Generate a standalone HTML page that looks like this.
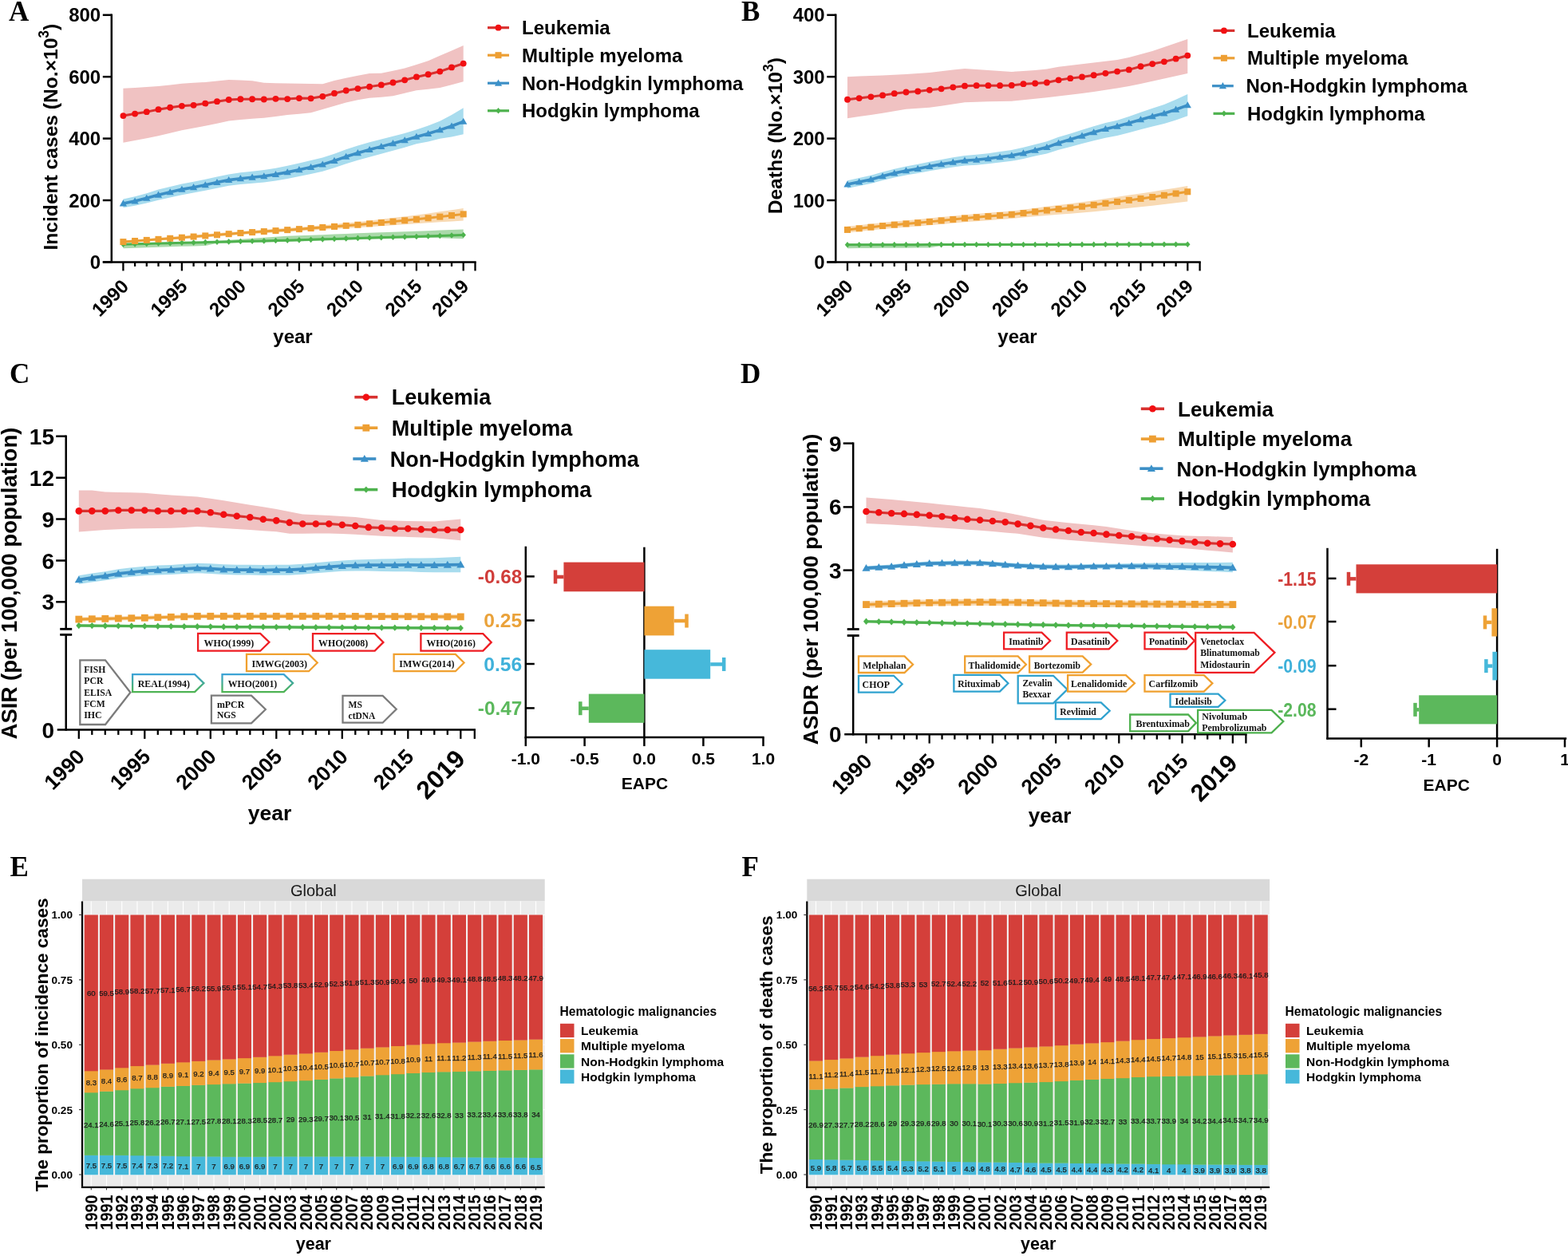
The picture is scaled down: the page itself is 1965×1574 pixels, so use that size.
<!DOCTYPE html>
<html><head><meta charset="utf-8"><title>Hematologic malignancies</title>
<style>html,body{margin:0;padding:0;background:#fff;width:1965px;height:1574px;overflow:hidden}svg{display:block}</style>
</head><body>
<svg width="1965" height="1574" viewBox="0 0 1965 1574">
<rect width="1965" height="1574" fill="#fff"/>
<defs><linearGradient id="bg" x1="0" y1="0" x2="0" y2="1"><stop offset="0" stop-color="#3BA3D6"/><stop offset="1" stop-color="#4FB453"/></linearGradient></defs>
<polygon points="154.4,110.84 169.1,109.97 183.8,109.11 198.5,108.1 213.2,106.4 227.9,104.72 242.6,103.86 257.3,102.99 272,101.52 286.7,100.05 301.4,100.42 316.1,101.14 330.8,103.66 345.5,104.22 360.2,104.48 374.9,104.74 389.6,105.11 404.3,105.25 419,101.03 433.7,97.73 448.4,94.79 463.1,92.03 477.8,91.82 492.5,88.66 507.2,85.49 521.9,80.96 536.6,76.15 551.3,69.79 566,63.44 580.7,57.1 580.7,102.29 566,106.16 551.3,110.04 536.6,111.7 521.9,113.17 507.2,116.68 492.5,120.36 477.8,121.66 463.1,122.79 448.4,125.32 433.7,128.41 419,132.69 404.3,136.97 389.6,141.17 374.9,142.64 360.2,144.04 345.5,145.88 330.8,147.64 316.1,148.86 301.4,150.09 286.7,151.57 272,154.63 257.3,157.66 242.6,160.49 227.9,163.31 213.2,166.74 198.5,170.17 183.8,173.26 169.1,176 154.4,178.74" fill="#F0C2C2" stroke="none" stroke-width="0"/>
<polygon points="154.4,249.57 169.1,246.24 183.8,242.17 198.5,237.61 213.2,234.08 227.9,230.56 242.6,227.77 257.3,224.73 272,221.45 286.7,218.41 301.4,216.36 316.1,214.71 330.8,213.06 345.5,210.68 360.2,207.81 374.9,204.45 389.6,201.09 404.3,197.49 419,192.66 433.7,187.37 448.4,182.57 463.1,178.25 477.8,174.47 492.5,170.68 507.2,166.89 521.9,162.62 536.6,157.61 551.3,151.87 566,143.93 580.7,135.26 580.7,168.24 566,171.41 551.3,173.85 536.6,177.4 521.9,180.21 507.2,184.72 492.5,188.75 477.8,192.78 463.1,196.81 448.4,200.8 433.7,205.28 419,210.25 404.3,214.71 389.6,217.94 374.9,220.94 360.2,223.93 345.5,226.43 330.8,228.45 316.1,229.73 301.4,231.01 286.7,232.86 272,235.69 257.3,238.76 242.6,241.58 227.9,244.17 213.2,247.48 198.5,250.8 183.8,254.54 169.1,257.8 154.4,260.32" fill="#A8DCEE" stroke="none" stroke-width="0"/>
<polygon points="154.4,301.6 169.1,300.46 183.8,299.32 198.5,298.17 213.2,297.03 227.9,295.89 242.6,294.7 257.3,293.5 272,292.31 286.7,291.12 301.4,289.93 316.1,288.89 330.8,287.84 345.5,286.8 360.2,285.75 374.9,284.7 389.6,283.43 404.3,282.15 419,280.88 433.7,279.61 448.4,278.32 463.1,276.55 477.8,274.79 492.5,273.03 507.2,271.27 521.9,269.48 536.6,267.38 551.3,265.27 566,263.16 580.7,261.06 580.7,276.44 566,277.39 551.3,278.34 536.6,279.28 521.9,280.23 507.2,281.23 492.5,282.21 477.8,283.19 463.1,284.18 448.4,285.16 433.7,286.06 419,286.94 404.3,287.82 389.6,288.7 374.9,289.59 360.2,290.51 345.5,291.42 330.8,292.34 316.1,293.25 301.4,294.17 286.7,295.22 272,296.28 257.3,297.35 242.6,298.41 227.9,299.47 213.2,300.48 198.5,301.5 183.8,302.51 169.1,303.52 154.4,304.53" fill="#F8DAB4" stroke="none" stroke-width="0"/>
<polygon points="154.4,305.27 169.1,304.87 183.8,304.48 198.5,304.09 213.2,303.7 227.9,303.31 242.6,302.96 257.3,302.62 272,301.65 286.7,300.68 301.4,299.71 316.1,298.74 330.8,297.77 345.5,296.8 360.2,295.82 374.9,295.36 389.6,294.76 404.3,294.15 419,293.55 433.7,292.94 448.4,292.35 463.1,291.84 477.8,291.33 492.5,290.83 507.2,290.32 521.9,289.81 536.6,289.22 551.3,288.62 566,288.03 580.7,287.44 580.7,299.16 566,298.74 551.3,298.33 536.6,297.91 521.9,298.36 507.2,298.74 492.5,299.1 477.8,299.47 463.1,299.83 448.4,300.2 433.7,300.65 419,301.12 404.3,301.58 389.6,302.04 374.9,302.5 360.2,302.83 345.5,303.14 330.8,303.46 316.1,303.77 301.4,304.09 286.7,304.41 272,304.72 257.3,308 242.6,308.41 227.9,308.82 213.2,309.28 198.5,309.74 183.8,310.21 169.1,310.67 154.4,311.13" fill="#A9D9A9" stroke="none" stroke-width="0"/>
<polyline points="154.4,145.03 169.1,142.59 183.8,140.15 198.5,137.22 213.2,134.77 227.9,132.82 242.6,131.84 257.3,129.64 272,127.2 286.7,125 301.4,124.27 316.1,124.27 330.8,124.51 345.5,123.78 360.2,124.03 374.9,123.05 389.6,123.29 404.3,120.85 419,116.94 433.7,113.52 448.4,111.08 463.1,108.64 477.8,106.44 492.5,103.51 507.2,100.33 521.9,96.42 536.6,93.25 551.3,89.58 566,84.46 580.7,79.57" fill="none" stroke="#D8312F" stroke-width="3" stroke-linejoin="round"/>
<circle cx="154.4" cy="145.03" r="3.9" fill="#F20F12"/>
<circle cx="169.1" cy="142.59" r="3.9" fill="#F20F12"/>
<circle cx="183.8" cy="140.15" r="3.9" fill="#F20F12"/>
<circle cx="198.5" cy="137.22" r="3.9" fill="#F20F12"/>
<circle cx="213.2" cy="134.77" r="3.9" fill="#F20F12"/>
<circle cx="227.9" cy="132.82" r="3.9" fill="#F20F12"/>
<circle cx="242.6" cy="131.84" r="3.9" fill="#F20F12"/>
<circle cx="257.3" cy="129.64" r="3.9" fill="#F20F12"/>
<circle cx="272" cy="127.2" r="3.9" fill="#F20F12"/>
<circle cx="286.7" cy="125" r="3.9" fill="#F20F12"/>
<circle cx="301.4" cy="124.27" r="3.9" fill="#F20F12"/>
<circle cx="316.1" cy="124.27" r="3.9" fill="#F20F12"/>
<circle cx="330.8" cy="124.51" r="3.9" fill="#F20F12"/>
<circle cx="345.5" cy="123.78" r="3.9" fill="#F20F12"/>
<circle cx="360.2" cy="124.03" r="3.9" fill="#F20F12"/>
<circle cx="374.9" cy="123.05" r="3.9" fill="#F20F12"/>
<circle cx="389.6" cy="123.29" r="3.9" fill="#F20F12"/>
<circle cx="404.3" cy="120.85" r="3.9" fill="#F20F12"/>
<circle cx="419" cy="116.94" r="3.9" fill="#F20F12"/>
<circle cx="433.7" cy="113.52" r="3.9" fill="#F20F12"/>
<circle cx="448.4" cy="111.08" r="3.9" fill="#F20F12"/>
<circle cx="463.1" cy="108.64" r="3.9" fill="#F20F12"/>
<circle cx="477.8" cy="106.44" r="3.9" fill="#F20F12"/>
<circle cx="492.5" cy="103.51" r="3.9" fill="#F20F12"/>
<circle cx="507.2" cy="100.33" r="3.9" fill="#F20F12"/>
<circle cx="521.9" cy="96.42" r="3.9" fill="#F20F12"/>
<circle cx="536.6" cy="93.25" r="3.9" fill="#F20F12"/>
<circle cx="551.3" cy="89.58" r="3.9" fill="#F20F12"/>
<circle cx="566" cy="84.46" r="3.9" fill="#F20F12"/>
<circle cx="580.7" cy="79.57" r="3.9" fill="#F20F12"/>
<polyline points="154.4,254.95 169.1,252.02 183.8,248.35 198.5,244.2 213.2,240.78 227.9,237.36 242.6,234.68 257.3,231.74 272,228.57 286.7,225.64 301.4,223.68 316.1,222.22 330.8,220.75 345.5,218.55 360.2,215.87 374.9,212.69 389.6,209.52 404.3,206.1 419,201.46 433.7,196.33 448.4,191.69 463.1,187.53 477.8,183.62 492.5,179.72 507.2,175.81 521.9,171.41 536.6,167.5 551.3,162.86 566,157.98 580.7,152.36" fill="none" stroke="#3C8FC6" stroke-width="3.6" stroke-linejoin="round"/>
<polygon points="154.4,250.35 159,258.4 149.8,258.4" fill="#3B91C9" stroke="none" stroke-width="0"/>
<polygon points="169.1,247.42 173.7,255.47 164.5,255.47" fill="#3B91C9" stroke="none" stroke-width="0"/>
<polygon points="183.8,243.75 188.4,251.8 179.2,251.8" fill="#3B91C9" stroke="none" stroke-width="0"/>
<polygon points="198.5,239.6 203.1,247.65 193.9,247.65" fill="#3B91C9" stroke="none" stroke-width="0"/>
<polygon points="213.2,236.18 217.8,244.23 208.6,244.23" fill="#3B91C9" stroke="none" stroke-width="0"/>
<polygon points="227.9,232.76 232.5,240.81 223.3,240.81" fill="#3B91C9" stroke="none" stroke-width="0"/>
<polygon points="242.6,230.08 247.2,238.13 238,238.13" fill="#3B91C9" stroke="none" stroke-width="0"/>
<polygon points="257.3,227.14 261.9,235.19 252.7,235.19" fill="#3B91C9" stroke="none" stroke-width="0"/>
<polygon points="272,223.97 276.6,232.02 267.4,232.02" fill="#3B91C9" stroke="none" stroke-width="0"/>
<polygon points="286.7,221.04 291.3,229.09 282.1,229.09" fill="#3B91C9" stroke="none" stroke-width="0"/>
<polygon points="301.4,219.08 306,227.13 296.8,227.13" fill="#3B91C9" stroke="none" stroke-width="0"/>
<polygon points="316.1,217.62 320.7,225.67 311.5,225.67" fill="#3B91C9" stroke="none" stroke-width="0"/>
<polygon points="330.8,216.15 335.4,224.2 326.2,224.2" fill="#3B91C9" stroke="none" stroke-width="0"/>
<polygon points="345.5,213.95 350.1,222 340.9,222" fill="#3B91C9" stroke="none" stroke-width="0"/>
<polygon points="360.2,211.27 364.8,219.32 355.6,219.32" fill="#3B91C9" stroke="none" stroke-width="0"/>
<polygon points="374.9,208.09 379.5,216.14 370.3,216.14" fill="#3B91C9" stroke="none" stroke-width="0"/>
<polygon points="389.6,204.92 394.2,212.97 385,212.97" fill="#3B91C9" stroke="none" stroke-width="0"/>
<polygon points="404.3,201.5 408.9,209.55 399.7,209.55" fill="#3B91C9" stroke="none" stroke-width="0"/>
<polygon points="419,196.86 423.6,204.91 414.4,204.91" fill="#3B91C9" stroke="none" stroke-width="0"/>
<polygon points="433.7,191.73 438.3,199.78 429.1,199.78" fill="#3B91C9" stroke="none" stroke-width="0"/>
<polygon points="448.4,187.09 453,195.14 443.8,195.14" fill="#3B91C9" stroke="none" stroke-width="0"/>
<polygon points="463.1,182.93 467.7,190.98 458.5,190.98" fill="#3B91C9" stroke="none" stroke-width="0"/>
<polygon points="477.8,179.02 482.4,187.07 473.2,187.07" fill="#3B91C9" stroke="none" stroke-width="0"/>
<polygon points="492.5,175.12 497.1,183.17 487.9,183.17" fill="#3B91C9" stroke="none" stroke-width="0"/>
<polygon points="507.2,171.21 511.8,179.26 502.6,179.26" fill="#3B91C9" stroke="none" stroke-width="0"/>
<polygon points="521.9,166.81 526.5,174.86 517.3,174.86" fill="#3B91C9" stroke="none" stroke-width="0"/>
<polygon points="536.6,162.9 541.2,170.95 532,170.95" fill="#3B91C9" stroke="none" stroke-width="0"/>
<polygon points="551.3,158.26 555.9,166.31 546.7,166.31" fill="#3B91C9" stroke="none" stroke-width="0"/>
<polygon points="566,153.38 570.6,161.43 561.4,161.43" fill="#3B91C9" stroke="none" stroke-width="0"/>
<polygon points="580.7,147.76 585.3,155.81 576.1,155.81" fill="#3B91C9" stroke="none" stroke-width="0"/>
<polyline points="154.4,306.24 169.1,305.85 183.8,305.46 198.5,305.07 213.2,304.68 227.9,304.28 242.6,303.94 257.3,303.6 272,303.26 286.7,302.91 301.4,302.57 316.1,302.23 330.8,301.88 345.5,301.54 360.2,301.2 374.9,300.85 389.6,300.36 404.3,299.87 419,299.38 433.7,298.89 448.4,298.4 463.1,298.01 477.8,297.62 492.5,297.23 507.2,296.84 521.9,296.44 536.6,295.96 551.3,295.48 566,295 580.7,294.52" fill="none" stroke="#4EB24E" stroke-width="3" stroke-linejoin="round"/>
<polygon points="154.4,302.44 157.63,306.24 154.4,310.04 151.17,306.24" fill="#4CB34C" stroke="none" stroke-width="0"/>
<polygon points="169.1,302.05 172.33,305.85 169.1,309.65 165.87,305.85" fill="#4CB34C" stroke="none" stroke-width="0"/>
<polygon points="183.8,301.66 187.03,305.46 183.8,309.26 180.57,305.46" fill="#4CB34C" stroke="none" stroke-width="0"/>
<polygon points="198.5,301.27 201.73,305.07 198.5,308.87 195.27,305.07" fill="#4CB34C" stroke="none" stroke-width="0"/>
<polygon points="213.2,300.88 216.43,304.68 213.2,308.48 209.97,304.68" fill="#4CB34C" stroke="none" stroke-width="0"/>
<polygon points="227.9,300.48 231.13,304.28 227.9,308.08 224.67,304.28" fill="#4CB34C" stroke="none" stroke-width="0"/>
<polygon points="242.6,300.14 245.83,303.94 242.6,307.74 239.37,303.94" fill="#4CB34C" stroke="none" stroke-width="0"/>
<polygon points="257.3,299.8 260.53,303.6 257.3,307.4 254.07,303.6" fill="#4CB34C" stroke="none" stroke-width="0"/>
<polygon points="272,299.46 275.23,303.26 272,307.06 268.77,303.26" fill="#4CB34C" stroke="none" stroke-width="0"/>
<polygon points="286.7,299.11 289.93,302.91 286.7,306.71 283.47,302.91" fill="#4CB34C" stroke="none" stroke-width="0"/>
<polygon points="301.4,298.77 304.63,302.57 301.4,306.37 298.17,302.57" fill="#4CB34C" stroke="none" stroke-width="0"/>
<polygon points="316.1,298.43 319.33,302.23 316.1,306.03 312.87,302.23" fill="#4CB34C" stroke="none" stroke-width="0"/>
<polygon points="330.8,298.08 334.03,301.88 330.8,305.68 327.57,301.88" fill="#4CB34C" stroke="none" stroke-width="0"/>
<polygon points="345.5,297.74 348.73,301.54 345.5,305.34 342.27,301.54" fill="#4CB34C" stroke="none" stroke-width="0"/>
<polygon points="360.2,297.4 363.43,301.2 360.2,305 356.97,301.2" fill="#4CB34C" stroke="none" stroke-width="0"/>
<polygon points="374.9,297.05 378.13,300.85 374.9,304.65 371.67,300.85" fill="#4CB34C" stroke="none" stroke-width="0"/>
<polygon points="389.6,296.56 392.83,300.36 389.6,304.16 386.37,300.36" fill="#4CB34C" stroke="none" stroke-width="0"/>
<polygon points="404.3,296.07 407.53,299.87 404.3,303.67 401.07,299.87" fill="#4CB34C" stroke="none" stroke-width="0"/>
<polygon points="419,295.58 422.23,299.38 419,303.18 415.77,299.38" fill="#4CB34C" stroke="none" stroke-width="0"/>
<polygon points="433.7,295.09 436.93,298.89 433.7,302.69 430.47,298.89" fill="#4CB34C" stroke="none" stroke-width="0"/>
<polygon points="448.4,294.6 451.63,298.4 448.4,302.2 445.17,298.4" fill="#4CB34C" stroke="none" stroke-width="0"/>
<polygon points="463.1,294.21 466.33,298.01 463.1,301.81 459.87,298.01" fill="#4CB34C" stroke="none" stroke-width="0"/>
<polygon points="477.8,293.82 481.03,297.62 477.8,301.42 474.57,297.62" fill="#4CB34C" stroke="none" stroke-width="0"/>
<polygon points="492.5,293.43 495.73,297.23 492.5,301.03 489.27,297.23" fill="#4CB34C" stroke="none" stroke-width="0"/>
<polygon points="507.2,293.04 510.43,296.84 507.2,300.64 503.97,296.84" fill="#4CB34C" stroke="none" stroke-width="0"/>
<polygon points="521.9,292.64 525.13,296.44 521.9,300.24 518.67,296.44" fill="#4CB34C" stroke="none" stroke-width="0"/>
<polygon points="536.6,292.16 539.83,295.96 536.6,299.76 533.37,295.96" fill="#4CB34C" stroke="none" stroke-width="0"/>
<polygon points="551.3,291.68 554.53,295.48 551.3,299.28 548.07,295.48" fill="#4CB34C" stroke="none" stroke-width="0"/>
<polygon points="566,291.2 569.23,295 566,298.8 562.77,295" fill="#4CB34C" stroke="none" stroke-width="0"/>
<polygon points="580.7,290.72 583.93,294.52 580.7,298.32 577.47,294.52" fill="#4CB34C" stroke="none" stroke-width="0"/>
<polyline points="154.4,303.07 169.1,301.99 183.8,300.91 198.5,299.84 213.2,298.76 227.9,297.68 242.6,296.55 257.3,295.43 272,294.3 286.7,293.17 301.4,292.05 316.1,291.07 330.8,290.09 345.5,289.11 360.2,288.13 374.9,287.14 389.6,286.07 404.3,284.99 419,283.91 433.7,282.83 448.4,281.74 463.1,280.36 477.8,278.99 492.5,277.62 507.2,276.25 521.9,274.86 536.6,273.24 551.3,271.62 566,270 580.7,268.38" fill="none" stroke="#EC9F34" stroke-width="3" stroke-linejoin="round"/>
<rect x="150.4" y="299.07" width="8" height="8" fill="#EE9F33"/>
<rect x="165.1" y="297.99" width="8" height="8" fill="#EE9F33"/>
<rect x="179.8" y="296.91" width="8" height="8" fill="#EE9F33"/>
<rect x="194.5" y="295.84" width="8" height="8" fill="#EE9F33"/>
<rect x="209.2" y="294.76" width="8" height="8" fill="#EE9F33"/>
<rect x="223.9" y="293.68" width="8" height="8" fill="#EE9F33"/>
<rect x="238.6" y="292.55" width="8" height="8" fill="#EE9F33"/>
<rect x="253.3" y="291.43" width="8" height="8" fill="#EE9F33"/>
<rect x="268" y="290.3" width="8" height="8" fill="#EE9F33"/>
<rect x="282.7" y="289.17" width="8" height="8" fill="#EE9F33"/>
<rect x="297.4" y="288.05" width="8" height="8" fill="#EE9F33"/>
<rect x="312.1" y="287.07" width="8" height="8" fill="#EE9F33"/>
<rect x="326.8" y="286.09" width="8" height="8" fill="#EE9F33"/>
<rect x="341.5" y="285.11" width="8" height="8" fill="#EE9F33"/>
<rect x="356.2" y="284.13" width="8" height="8" fill="#EE9F33"/>
<rect x="370.9" y="283.14" width="8" height="8" fill="#EE9F33"/>
<rect x="385.6" y="282.07" width="8" height="8" fill="#EE9F33"/>
<rect x="400.3" y="280.99" width="8" height="8" fill="#EE9F33"/>
<rect x="415" y="279.91" width="8" height="8" fill="#EE9F33"/>
<rect x="429.7" y="278.83" width="8" height="8" fill="#EE9F33"/>
<rect x="444.4" y="277.74" width="8" height="8" fill="#EE9F33"/>
<rect x="459.1" y="276.36" width="8" height="8" fill="#EE9F33"/>
<rect x="473.8" y="274.99" width="8" height="8" fill="#EE9F33"/>
<rect x="488.5" y="273.62" width="8" height="8" fill="#EE9F33"/>
<rect x="503.2" y="272.25" width="8" height="8" fill="#EE9F33"/>
<rect x="517.9" y="270.86" width="8" height="8" fill="#EE9F33"/>
<rect x="532.6" y="269.24" width="8" height="8" fill="#EE9F33"/>
<rect x="547.3" y="267.62" width="8" height="8" fill="#EE9F33"/>
<rect x="562" y="266" width="8" height="8" fill="#EE9F33"/>
<rect x="576.7" y="264.38" width="8" height="8" fill="#EE9F33"/>
<polygon points="1062,96.18 1076.7,95.62 1091.4,95.06 1106.1,94.5 1120.8,93.77 1135.5,92.89 1150.2,92.01 1164.9,90.97 1179.6,89.27 1194.3,87.57 1209,85.95 1223.7,86.99 1238.4,88.04 1253.1,89.08 1267.8,90.03 1282.5,88.99 1297.2,87.95 1311.9,86.55 1326.6,83.87 1341.3,82.09 1356,80.3 1370.7,78.52 1385.4,76.74 1400.1,74.96 1414.8,71.95 1429.5,68.03 1444.2,64.03 1458.9,59.02 1473.6,54.02 1488.3,49.04 1488.3,92.03 1473.6,95.26 1458.9,98.51 1444.2,101.77 1429.5,104.99 1414.8,107.93 1400.1,110.56 1385.4,112.76 1370.7,114.97 1356,117.12 1341.3,118.81 1326.6,120.5 1311.9,122.19 1297.2,123.71 1282.5,125.18 1267.8,126.65 1253.1,127.02 1238.4,127.34 1223.7,127.66 1209,128.23 1194.3,130.44 1179.6,132.64 1164.9,134.85 1150.2,135.86 1135.5,136.85 1120.8,139.3 1106.1,141.75 1091.4,143.98 1076.7,146.09 1062,148.2" fill="#F0C2C2" stroke="none" stroke-width="0"/>
<polygon points="1062,226.13 1076.7,223.07 1091.4,219.78 1106.1,215.5 1120.8,211.71 1135.5,208.42 1150.2,205.85 1164.9,202.8 1179.6,199.99 1194.3,197.36 1209,194.98 1223.7,193.82 1238.4,192.17 1253.1,190.04 1267.8,187.9 1282.5,184.79 1297.2,180.94 1311.9,177.24 1326.6,171.83 1341.3,167.4 1356,162.72 1370.7,158.29 1385.4,154.1 1400.1,150.65 1414.8,145.89 1429.5,140.64 1444.2,135.63 1458.9,131.11 1473.6,124.76 1488.3,117.92 1488.3,145.28 1473.6,150.41 1458.9,155.05 1444.2,158.4 1429.5,162.25 1414.8,166.34 1400.1,169.95 1385.4,172.74 1370.7,176.26 1356,180.03 1341.3,184.04 1326.6,187.81 1311.9,192.56 1297.2,195.59 1282.5,199.07 1267.8,201.82 1253.1,203.59 1238.4,205.36 1223.7,206.65 1209,207.44 1194.3,209.46 1179.6,211.71 1164.9,214.28 1150.2,217.09 1135.5,219.41 1120.8,222.46 1106.1,226 1091.4,230.03 1076.7,233.09 1062,235.9" fill="#A8DCEE" stroke="none" stroke-width="0"/>
<polygon points="1062,283.77 1076.7,282.14 1091.4,280.52 1106.1,278.89 1120.8,277.45 1135.5,276.18 1150.2,274.92 1164.9,273.61 1179.6,272.12 1194.3,270.64 1209,269.15 1223.7,267.94 1238.4,266.77 1253.1,265.61 1267.8,264.42 1282.5,262.67 1297.2,260.73 1311.9,258.82 1326.6,256.99 1341.3,255.16 1356,253.34 1370.7,251.18 1385.4,248.99 1400.1,246.8 1414.8,244.62 1429.5,242.45 1444.2,240.26 1458.9,237.82 1473.6,235.39 1488.3,232.97 1488.3,252.51 1473.6,254.23 1458.9,255.97 1444.2,257.7 1429.5,259.2 1414.8,260.67 1400.1,262.15 1385.4,263.64 1370.7,265.14 1356,266.6 1341.3,267.73 1326.6,268.86 1311.9,269.98 1297.2,271.2 1282.5,272.44 1267.8,274.06 1253.1,275.12 1238.4,276.15 1223.7,277.19 1209,278.27 1194.3,279.63 1179.6,280.98 1164.9,282.34 1150.2,283.52 1135.5,284.65 1120.8,285.79 1106.1,287.1 1091.4,288.59 1076.7,290.09 1062,291.59" fill="#F8DAB4" stroke="none" stroke-width="0"/>
<polygon points="1062,305.27 1076.7,305.25 1091.4,305.23 1106.1,305.22 1120.8,305.2 1135.5,305.18 1150.2,305.17 1164.9,305.15 1179.6,305.13 1194.3,305.11 1209,305.1 1223.7,305.08 1238.4,305.06 1253.1,305.05 1267.8,305.03 1282.5,305.01 1297.2,305 1311.9,304.98 1326.6,304.96 1341.3,304.95 1356,304.93 1370.7,304.91 1385.4,304.9 1400.1,304.88 1414.8,304.86 1429.5,304.85 1444.2,304.83 1458.9,304.81 1473.6,304.79 1488.3,304.78 1488.3,307.71 1473.6,307.73 1458.9,307.74 1444.2,307.76 1429.5,307.78 1414.8,307.79 1400.1,307.81 1385.4,307.83 1370.7,307.84 1356,307.86 1341.3,307.88 1326.6,307.89 1311.9,307.91 1297.2,307.93 1282.5,307.94 1267.8,307.96 1253.1,307.98 1238.4,308 1223.7,308.01 1209,308.03 1194.3,308.05 1179.6,308.06 1164.9,310.52 1150.2,310.61 1135.5,310.7 1120.8,310.78 1106.1,310.87 1091.4,310.96 1076.7,311.04 1062,311.13" fill="#A9D9A9" stroke="none" stroke-width="0"/>
<polyline points="1062,124.76 1076.7,123.05 1091.4,121.34 1106.1,119.38 1120.8,117.19 1135.5,115.48 1150.2,114.5 1164.9,112.79 1179.6,111.32 1194.3,109.37 1209,107.66 1223.7,107.17 1238.4,107.17 1253.1,107.17 1267.8,106.93 1282.5,105.22 1297.2,104.48 1311.9,103.51 1326.6,100.33 1341.3,98.13 1356,96.42 1370.7,94.23 1385.4,91.78 1400.1,89.58 1414.8,87.39 1429.5,83.23 1444.2,80.06 1458.9,77.37 1473.6,73.71 1488.3,69.56" fill="none" stroke="#D8312F" stroke-width="3" stroke-linejoin="round"/>
<circle cx="1062" cy="124.76" r="3.9" fill="#F20F12"/>
<circle cx="1076.7" cy="123.05" r="3.9" fill="#F20F12"/>
<circle cx="1091.4" cy="121.34" r="3.9" fill="#F20F12"/>
<circle cx="1106.1" cy="119.38" r="3.9" fill="#F20F12"/>
<circle cx="1120.8" cy="117.19" r="3.9" fill="#F20F12"/>
<circle cx="1135.5" cy="115.48" r="3.9" fill="#F20F12"/>
<circle cx="1150.2" cy="114.5" r="3.9" fill="#F20F12"/>
<circle cx="1164.9" cy="112.79" r="3.9" fill="#F20F12"/>
<circle cx="1179.6" cy="111.32" r="3.9" fill="#F20F12"/>
<circle cx="1194.3" cy="109.37" r="3.9" fill="#F20F12"/>
<circle cx="1209" cy="107.66" r="3.9" fill="#F20F12"/>
<circle cx="1223.7" cy="107.17" r="3.9" fill="#F20F12"/>
<circle cx="1238.4" cy="107.17" r="3.9" fill="#F20F12"/>
<circle cx="1253.1" cy="107.17" r="3.9" fill="#F20F12"/>
<circle cx="1267.8" cy="106.93" r="3.9" fill="#F20F12"/>
<circle cx="1282.5" cy="105.22" r="3.9" fill="#F20F12"/>
<circle cx="1297.2" cy="104.48" r="3.9" fill="#F20F12"/>
<circle cx="1311.9" cy="103.51" r="3.9" fill="#F20F12"/>
<circle cx="1326.6" cy="100.33" r="3.9" fill="#F20F12"/>
<circle cx="1341.3" cy="98.13" r="3.9" fill="#F20F12"/>
<circle cx="1356" cy="96.42" r="3.9" fill="#F20F12"/>
<circle cx="1370.7" cy="94.23" r="3.9" fill="#F20F12"/>
<circle cx="1385.4" cy="91.78" r="3.9" fill="#F20F12"/>
<circle cx="1400.1" cy="89.58" r="3.9" fill="#F20F12"/>
<circle cx="1414.8" cy="87.39" r="3.9" fill="#F20F12"/>
<circle cx="1429.5" cy="83.23" r="3.9" fill="#F20F12"/>
<circle cx="1444.2" cy="80.06" r="3.9" fill="#F20F12"/>
<circle cx="1458.9" cy="77.37" r="3.9" fill="#F20F12"/>
<circle cx="1473.6" cy="73.71" r="3.9" fill="#F20F12"/>
<circle cx="1488.3" cy="69.56" r="3.9" fill="#F20F12"/>
<polyline points="1062,231.01 1076.7,228.08 1091.4,224.9 1106.1,220.75 1120.8,217.09 1135.5,213.91 1150.2,211.47 1164.9,208.54 1179.6,205.85 1194.3,203.41 1209,201.21 1223.7,200.23 1238.4,198.77 1253.1,196.81 1267.8,194.86 1282.5,191.93 1297.2,188.27 1311.9,184.6 1326.6,179.23 1341.3,174.83 1356,170.19 1370.7,165.79 1385.4,161.64 1400.1,158.22 1414.8,154.31 1429.5,149.92 1444.2,145.76 1458.9,142.1 1473.6,137.22 1488.3,131.84" fill="none" stroke="#3C8FC6" stroke-width="3.6" stroke-linejoin="round"/>
<polygon points="1062,226.41 1066.6,234.46 1057.4,234.46" fill="#3B91C9" stroke="none" stroke-width="0"/>
<polygon points="1076.7,223.48 1081.3,231.53 1072.1,231.53" fill="#3B91C9" stroke="none" stroke-width="0"/>
<polygon points="1091.4,220.3 1096,228.35 1086.8,228.35" fill="#3B91C9" stroke="none" stroke-width="0"/>
<polygon points="1106.1,216.15 1110.7,224.2 1101.5,224.2" fill="#3B91C9" stroke="none" stroke-width="0"/>
<polygon points="1120.8,212.49 1125.4,220.54 1116.2,220.54" fill="#3B91C9" stroke="none" stroke-width="0"/>
<polygon points="1135.5,209.31 1140.1,217.36 1130.9,217.36" fill="#3B91C9" stroke="none" stroke-width="0"/>
<polygon points="1150.2,206.87 1154.8,214.92 1145.6,214.92" fill="#3B91C9" stroke="none" stroke-width="0"/>
<polygon points="1164.9,203.94 1169.5,211.99 1160.3,211.99" fill="#3B91C9" stroke="none" stroke-width="0"/>
<polygon points="1179.6,201.25 1184.2,209.3 1175,209.3" fill="#3B91C9" stroke="none" stroke-width="0"/>
<polygon points="1194.3,198.81 1198.9,206.86 1189.7,206.86" fill="#3B91C9" stroke="none" stroke-width="0"/>
<polygon points="1209,196.61 1213.6,204.66 1204.4,204.66" fill="#3B91C9" stroke="none" stroke-width="0"/>
<polygon points="1223.7,195.63 1228.3,203.68 1219.1,203.68" fill="#3B91C9" stroke="none" stroke-width="0"/>
<polygon points="1238.4,194.17 1243,202.22 1233.8,202.22" fill="#3B91C9" stroke="none" stroke-width="0"/>
<polygon points="1253.1,192.21 1257.7,200.26 1248.5,200.26" fill="#3B91C9" stroke="none" stroke-width="0"/>
<polygon points="1267.8,190.26 1272.4,198.31 1263.2,198.31" fill="#3B91C9" stroke="none" stroke-width="0"/>
<polygon points="1282.5,187.33 1287.1,195.38 1277.9,195.38" fill="#3B91C9" stroke="none" stroke-width="0"/>
<polygon points="1297.2,183.67 1301.8,191.72 1292.6,191.72" fill="#3B91C9" stroke="none" stroke-width="0"/>
<polygon points="1311.9,180 1316.5,188.05 1307.3,188.05" fill="#3B91C9" stroke="none" stroke-width="0"/>
<polygon points="1326.6,174.63 1331.2,182.68 1322,182.68" fill="#3B91C9" stroke="none" stroke-width="0"/>
<polygon points="1341.3,170.23 1345.9,178.28 1336.7,178.28" fill="#3B91C9" stroke="none" stroke-width="0"/>
<polygon points="1356,165.59 1360.6,173.64 1351.4,173.64" fill="#3B91C9" stroke="none" stroke-width="0"/>
<polygon points="1370.7,161.19 1375.3,169.24 1366.1,169.24" fill="#3B91C9" stroke="none" stroke-width="0"/>
<polygon points="1385.4,157.04 1390,165.09 1380.8,165.09" fill="#3B91C9" stroke="none" stroke-width="0"/>
<polygon points="1400.1,153.62 1404.7,161.67 1395.5,161.67" fill="#3B91C9" stroke="none" stroke-width="0"/>
<polygon points="1414.8,149.71 1419.4,157.76 1410.2,157.76" fill="#3B91C9" stroke="none" stroke-width="0"/>
<polygon points="1429.5,145.32 1434.1,153.37 1424.9,153.37" fill="#3B91C9" stroke="none" stroke-width="0"/>
<polygon points="1444.2,141.16 1448.8,149.21 1439.6,149.21" fill="#3B91C9" stroke="none" stroke-width="0"/>
<polygon points="1458.9,137.5 1463.5,145.55 1454.3,145.55" fill="#3B91C9" stroke="none" stroke-width="0"/>
<polygon points="1473.6,132.62 1478.2,140.67 1469,140.67" fill="#3B91C9" stroke="none" stroke-width="0"/>
<polygon points="1488.3,127.24 1492.9,135.29 1483.7,135.29" fill="#3B91C9" stroke="none" stroke-width="0"/>
<polyline points="1062,306.73 1076.7,306.71 1091.4,306.7 1106.1,306.68 1120.8,306.66 1135.5,306.65 1150.2,306.63 1164.9,306.61 1179.6,306.6 1194.3,306.58 1209,306.56 1223.7,306.55 1238.4,306.53 1253.1,306.51 1267.8,306.5 1282.5,306.48 1297.2,306.46 1311.9,306.45 1326.6,306.43 1341.3,306.41 1356,306.39 1370.7,306.38 1385.4,306.36 1400.1,306.34 1414.8,306.33 1429.5,306.31 1444.2,306.29 1458.9,306.28 1473.6,306.26 1488.3,306.24" fill="none" stroke="#4EB24E" stroke-width="3" stroke-linejoin="round"/>
<polygon points="1062,302.93 1065.23,306.73 1062,310.53 1058.77,306.73" fill="#4CB34C" stroke="none" stroke-width="0"/>
<polygon points="1076.7,302.91 1079.93,306.71 1076.7,310.51 1073.47,306.71" fill="#4CB34C" stroke="none" stroke-width="0"/>
<polygon points="1091.4,302.9 1094.63,306.7 1091.4,310.5 1088.17,306.7" fill="#4CB34C" stroke="none" stroke-width="0"/>
<polygon points="1106.1,302.88 1109.33,306.68 1106.1,310.48 1102.87,306.68" fill="#4CB34C" stroke="none" stroke-width="0"/>
<polygon points="1120.8,302.86 1124.03,306.66 1120.8,310.46 1117.57,306.66" fill="#4CB34C" stroke="none" stroke-width="0"/>
<polygon points="1135.5,302.85 1138.73,306.65 1135.5,310.45 1132.27,306.65" fill="#4CB34C" stroke="none" stroke-width="0"/>
<polygon points="1150.2,302.83 1153.43,306.63 1150.2,310.43 1146.97,306.63" fill="#4CB34C" stroke="none" stroke-width="0"/>
<polygon points="1164.9,302.81 1168.13,306.61 1164.9,310.41 1161.67,306.61" fill="#4CB34C" stroke="none" stroke-width="0"/>
<polygon points="1179.6,302.8 1182.83,306.6 1179.6,310.4 1176.37,306.6" fill="#4CB34C" stroke="none" stroke-width="0"/>
<polygon points="1194.3,302.78 1197.53,306.58 1194.3,310.38 1191.07,306.58" fill="#4CB34C" stroke="none" stroke-width="0"/>
<polygon points="1209,302.76 1212.23,306.56 1209,310.36 1205.77,306.56" fill="#4CB34C" stroke="none" stroke-width="0"/>
<polygon points="1223.7,302.75 1226.93,306.55 1223.7,310.35 1220.47,306.55" fill="#4CB34C" stroke="none" stroke-width="0"/>
<polygon points="1238.4,302.73 1241.63,306.53 1238.4,310.33 1235.17,306.53" fill="#4CB34C" stroke="none" stroke-width="0"/>
<polygon points="1253.1,302.71 1256.33,306.51 1253.1,310.31 1249.87,306.51" fill="#4CB34C" stroke="none" stroke-width="0"/>
<polygon points="1267.8,302.7 1271.03,306.5 1267.8,310.3 1264.57,306.5" fill="#4CB34C" stroke="none" stroke-width="0"/>
<polygon points="1282.5,302.68 1285.73,306.48 1282.5,310.28 1279.27,306.48" fill="#4CB34C" stroke="none" stroke-width="0"/>
<polygon points="1297.2,302.66 1300.43,306.46 1297.2,310.26 1293.97,306.46" fill="#4CB34C" stroke="none" stroke-width="0"/>
<polygon points="1311.9,302.65 1315.13,306.45 1311.9,310.25 1308.67,306.45" fill="#4CB34C" stroke="none" stroke-width="0"/>
<polygon points="1326.6,302.63 1329.83,306.43 1326.6,310.23 1323.37,306.43" fill="#4CB34C" stroke="none" stroke-width="0"/>
<polygon points="1341.3,302.61 1344.53,306.41 1341.3,310.21 1338.07,306.41" fill="#4CB34C" stroke="none" stroke-width="0"/>
<polygon points="1356,302.59 1359.23,306.39 1356,310.19 1352.77,306.39" fill="#4CB34C" stroke="none" stroke-width="0"/>
<polygon points="1370.7,302.58 1373.93,306.38 1370.7,310.18 1367.47,306.38" fill="#4CB34C" stroke="none" stroke-width="0"/>
<polygon points="1385.4,302.56 1388.63,306.36 1385.4,310.16 1382.17,306.36" fill="#4CB34C" stroke="none" stroke-width="0"/>
<polygon points="1400.1,302.54 1403.33,306.34 1400.1,310.14 1396.87,306.34" fill="#4CB34C" stroke="none" stroke-width="0"/>
<polygon points="1414.8,302.53 1418.03,306.33 1414.8,310.13 1411.57,306.33" fill="#4CB34C" stroke="none" stroke-width="0"/>
<polygon points="1429.5,302.51 1432.73,306.31 1429.5,310.11 1426.27,306.31" fill="#4CB34C" stroke="none" stroke-width="0"/>
<polygon points="1444.2,302.49 1447.43,306.29 1444.2,310.09 1440.97,306.29" fill="#4CB34C" stroke="none" stroke-width="0"/>
<polygon points="1458.9,302.48 1462.13,306.28 1458.9,310.08 1455.67,306.28" fill="#4CB34C" stroke="none" stroke-width="0"/>
<polygon points="1473.6,302.46 1476.83,306.26 1473.6,310.06 1470.37,306.26" fill="#4CB34C" stroke="none" stroke-width="0"/>
<polygon points="1488.3,302.44 1491.53,306.24 1488.3,310.04 1485.07,306.24" fill="#4CB34C" stroke="none" stroke-width="0"/>
<polyline points="1062,287.92 1076.7,286.31 1091.4,284.7 1106.1,283.09 1120.8,281.67 1135.5,280.42 1150.2,279.17 1164.9,277.88 1179.6,276.41 1194.3,274.94 1209,273.47 1223.7,272.27 1238.4,271.12 1253.1,269.97 1267.8,268.8 1282.5,267.07 1297.2,265.34 1311.9,263.63 1326.6,262.02 1341.3,260.4 1356,258.78 1370.7,256.84 1385.4,254.85 1400.1,252.87 1414.8,250.9 1429.5,248.94 1444.2,246.96 1458.9,244.73 1473.6,242.51 1488.3,240.29" fill="none" stroke="#EC9F34" stroke-width="3" stroke-linejoin="round"/>
<rect x="1058" y="283.92" width="8" height="8" fill="#EE9F33"/>
<rect x="1072.7" y="282.31" width="8" height="8" fill="#EE9F33"/>
<rect x="1087.4" y="280.7" width="8" height="8" fill="#EE9F33"/>
<rect x="1102.1" y="279.09" width="8" height="8" fill="#EE9F33"/>
<rect x="1116.8" y="277.67" width="8" height="8" fill="#EE9F33"/>
<rect x="1131.5" y="276.42" width="8" height="8" fill="#EE9F33"/>
<rect x="1146.2" y="275.17" width="8" height="8" fill="#EE9F33"/>
<rect x="1160.9" y="273.88" width="8" height="8" fill="#EE9F33"/>
<rect x="1175.6" y="272.41" width="8" height="8" fill="#EE9F33"/>
<rect x="1190.3" y="270.94" width="8" height="8" fill="#EE9F33"/>
<rect x="1205" y="269.47" width="8" height="8" fill="#EE9F33"/>
<rect x="1219.7" y="268.27" width="8" height="8" fill="#EE9F33"/>
<rect x="1234.4" y="267.12" width="8" height="8" fill="#EE9F33"/>
<rect x="1249.1" y="265.97" width="8" height="8" fill="#EE9F33"/>
<rect x="1263.8" y="264.8" width="8" height="8" fill="#EE9F33"/>
<rect x="1278.5" y="263.07" width="8" height="8" fill="#EE9F33"/>
<rect x="1293.2" y="261.34" width="8" height="8" fill="#EE9F33"/>
<rect x="1307.9" y="259.63" width="8" height="8" fill="#EE9F33"/>
<rect x="1322.6" y="258.02" width="8" height="8" fill="#EE9F33"/>
<rect x="1337.3" y="256.4" width="8" height="8" fill="#EE9F33"/>
<rect x="1352" y="254.78" width="8" height="8" fill="#EE9F33"/>
<rect x="1366.7" y="252.84" width="8" height="8" fill="#EE9F33"/>
<rect x="1381.4" y="250.85" width="8" height="8" fill="#EE9F33"/>
<rect x="1396.1" y="248.87" width="8" height="8" fill="#EE9F33"/>
<rect x="1410.8" y="246.9" width="8" height="8" fill="#EE9F33"/>
<rect x="1425.5" y="244.94" width="8" height="8" fill="#EE9F33"/>
<rect x="1440.2" y="242.96" width="8" height="8" fill="#EE9F33"/>
<rect x="1454.9" y="240.73" width="8" height="8" fill="#EE9F33"/>
<rect x="1469.6" y="238.51" width="8" height="8" fill="#EE9F33"/>
<rect x="1484.3" y="236.29" width="8" height="8" fill="#EE9F33"/>
<line x1="139.8" y1="17.6" x2="139.8" y2="329.6" stroke="#000" stroke-width="2.5" stroke-linecap="butt"/>
<line x1="128.8" y1="328.4" x2="596.7" y2="328.4" stroke="#000" stroke-width="2.5" stroke-linecap="butt"/>
<line x1="128.8" y1="328.4" x2="139.8" y2="328.4" stroke="#000" stroke-width="2.5" stroke-linecap="butt"/>
<text x="126.2" y="337" font-family="'Liberation Sans', Arial, sans-serif" font-size="24" font-weight="bold" fill="#000" text-anchor="end">0</text>
<line x1="128.8" y1="251" x2="139.8" y2="251" stroke="#000" stroke-width="2.5" stroke-linecap="butt"/>
<text x="126.2" y="259.6" font-family="'Liberation Sans', Arial, sans-serif" font-size="24" font-weight="bold" fill="#000" text-anchor="end">200</text>
<line x1="128.8" y1="173.6" x2="139.8" y2="173.6" stroke="#000" stroke-width="2.5" stroke-linecap="butt"/>
<text x="126.2" y="182.2" font-family="'Liberation Sans', Arial, sans-serif" font-size="24" font-weight="bold" fill="#000" text-anchor="end">400</text>
<line x1="128.8" y1="96.2" x2="139.8" y2="96.2" stroke="#000" stroke-width="2.5" stroke-linecap="butt"/>
<text x="126.2" y="104.8" font-family="'Liberation Sans', Arial, sans-serif" font-size="24" font-weight="bold" fill="#000" text-anchor="end">600</text>
<line x1="128.8" y1="18.8" x2="139.8" y2="18.8" stroke="#000" stroke-width="2.5" stroke-linecap="butt"/>
<text x="126.2" y="27.4" font-family="'Liberation Sans', Arial, sans-serif" font-size="24" font-weight="bold" fill="#000" text-anchor="end">800</text>
<line x1="154.4" y1="328.4" x2="154.4" y2="339.4" stroke="#000" stroke-width="2.3" stroke-linecap="butt"/>
<line x1="169.1" y1="328.4" x2="169.1" y2="333.9" stroke="#000" stroke-width="2.3" stroke-linecap="butt"/>
<line x1="183.8" y1="328.4" x2="183.8" y2="333.9" stroke="#000" stroke-width="2.3" stroke-linecap="butt"/>
<line x1="198.5" y1="328.4" x2="198.5" y2="333.9" stroke="#000" stroke-width="2.3" stroke-linecap="butt"/>
<line x1="213.2" y1="328.4" x2="213.2" y2="333.9" stroke="#000" stroke-width="2.3" stroke-linecap="butt"/>
<line x1="227.9" y1="328.4" x2="227.9" y2="339.4" stroke="#000" stroke-width="2.3" stroke-linecap="butt"/>
<line x1="242.6" y1="328.4" x2="242.6" y2="333.9" stroke="#000" stroke-width="2.3" stroke-linecap="butt"/>
<line x1="257.3" y1="328.4" x2="257.3" y2="333.9" stroke="#000" stroke-width="2.3" stroke-linecap="butt"/>
<line x1="272" y1="328.4" x2="272" y2="333.9" stroke="#000" stroke-width="2.3" stroke-linecap="butt"/>
<line x1="286.7" y1="328.4" x2="286.7" y2="333.9" stroke="#000" stroke-width="2.3" stroke-linecap="butt"/>
<line x1="301.4" y1="328.4" x2="301.4" y2="339.4" stroke="#000" stroke-width="2.3" stroke-linecap="butt"/>
<line x1="316.1" y1="328.4" x2="316.1" y2="333.9" stroke="#000" stroke-width="2.3" stroke-linecap="butt"/>
<line x1="330.8" y1="328.4" x2="330.8" y2="333.9" stroke="#000" stroke-width="2.3" stroke-linecap="butt"/>
<line x1="345.5" y1="328.4" x2="345.5" y2="333.9" stroke="#000" stroke-width="2.3" stroke-linecap="butt"/>
<line x1="360.2" y1="328.4" x2="360.2" y2="333.9" stroke="#000" stroke-width="2.3" stroke-linecap="butt"/>
<line x1="374.9" y1="328.4" x2="374.9" y2="339.4" stroke="#000" stroke-width="2.3" stroke-linecap="butt"/>
<line x1="389.6" y1="328.4" x2="389.6" y2="333.9" stroke="#000" stroke-width="2.3" stroke-linecap="butt"/>
<line x1="404.3" y1="328.4" x2="404.3" y2="333.9" stroke="#000" stroke-width="2.3" stroke-linecap="butt"/>
<line x1="419" y1="328.4" x2="419" y2="333.9" stroke="#000" stroke-width="2.3" stroke-linecap="butt"/>
<line x1="433.7" y1="328.4" x2="433.7" y2="333.9" stroke="#000" stroke-width="2.3" stroke-linecap="butt"/>
<line x1="448.4" y1="328.4" x2="448.4" y2="339.4" stroke="#000" stroke-width="2.3" stroke-linecap="butt"/>
<line x1="463.1" y1="328.4" x2="463.1" y2="333.9" stroke="#000" stroke-width="2.3" stroke-linecap="butt"/>
<line x1="477.8" y1="328.4" x2="477.8" y2="333.9" stroke="#000" stroke-width="2.3" stroke-linecap="butt"/>
<line x1="492.5" y1="328.4" x2="492.5" y2="333.9" stroke="#000" stroke-width="2.3" stroke-linecap="butt"/>
<line x1="507.2" y1="328.4" x2="507.2" y2="333.9" stroke="#000" stroke-width="2.3" stroke-linecap="butt"/>
<line x1="521.9" y1="328.4" x2="521.9" y2="339.4" stroke="#000" stroke-width="2.3" stroke-linecap="butt"/>
<line x1="536.6" y1="328.4" x2="536.6" y2="333.9" stroke="#000" stroke-width="2.3" stroke-linecap="butt"/>
<line x1="551.3" y1="328.4" x2="551.3" y2="333.9" stroke="#000" stroke-width="2.3" stroke-linecap="butt"/>
<line x1="566" y1="328.4" x2="566" y2="333.9" stroke="#000" stroke-width="2.3" stroke-linecap="butt"/>
<line x1="580.7" y1="328.4" x2="580.7" y2="339.4" stroke="#000" stroke-width="2.3" stroke-linecap="butt"/>
<line x1="595.5" y1="328.4" x2="595.5" y2="339.4" stroke="#000" stroke-width="2.3" stroke-linecap="butt"/>
<text x="0" y="0" font-family="'Liberation Sans', Arial, sans-serif" font-size="24" font-weight="bold" fill="#000" text-anchor="end" transform="translate(162.7 360.3) rotate(-45)">1990</text>
<text x="0" y="0" font-family="'Liberation Sans', Arial, sans-serif" font-size="24" font-weight="bold" fill="#000" text-anchor="end" transform="translate(236.2 360.3) rotate(-45)">1995</text>
<text x="0" y="0" font-family="'Liberation Sans', Arial, sans-serif" font-size="24" font-weight="bold" fill="#000" text-anchor="end" transform="translate(309.7 360.3) rotate(-45)">2000</text>
<text x="0" y="0" font-family="'Liberation Sans', Arial, sans-serif" font-size="24" font-weight="bold" fill="#000" text-anchor="end" transform="translate(383.2 360.3) rotate(-45)">2005</text>
<text x="0" y="0" font-family="'Liberation Sans', Arial, sans-serif" font-size="24" font-weight="bold" fill="#000" text-anchor="end" transform="translate(456.7 360.3) rotate(-45)">2010</text>
<text x="0" y="0" font-family="'Liberation Sans', Arial, sans-serif" font-size="24" font-weight="bold" fill="#000" text-anchor="end" transform="translate(530.2 360.3) rotate(-45)">2015</text>
<text x="0" y="0" font-family="'Liberation Sans', Arial, sans-serif" font-size="24" font-weight="bold" fill="#000" text-anchor="end" transform="translate(589 360.3) rotate(-45)">2019</text>
<line x1="1047.3" y1="17.6" x2="1047.3" y2="329.6" stroke="#000" stroke-width="2.5" stroke-linecap="butt"/>
<line x1="1036.3" y1="328.4" x2="1504.8" y2="328.4" stroke="#000" stroke-width="2.5" stroke-linecap="butt"/>
<line x1="1036.3" y1="328.4" x2="1047.3" y2="328.4" stroke="#000" stroke-width="2.5" stroke-linecap="butt"/>
<text x="1033.7" y="337" font-family="'Liberation Sans', Arial, sans-serif" font-size="24" font-weight="bold" fill="#000" text-anchor="end">0</text>
<line x1="1036.3" y1="251" x2="1047.3" y2="251" stroke="#000" stroke-width="2.5" stroke-linecap="butt"/>
<text x="1033.7" y="259.6" font-family="'Liberation Sans', Arial, sans-serif" font-size="24" font-weight="bold" fill="#000" text-anchor="end">100</text>
<line x1="1036.3" y1="173.6" x2="1047.3" y2="173.6" stroke="#000" stroke-width="2.5" stroke-linecap="butt"/>
<text x="1033.7" y="182.2" font-family="'Liberation Sans', Arial, sans-serif" font-size="24" font-weight="bold" fill="#000" text-anchor="end">200</text>
<line x1="1036.3" y1="96.2" x2="1047.3" y2="96.2" stroke="#000" stroke-width="2.5" stroke-linecap="butt"/>
<text x="1033.7" y="104.8" font-family="'Liberation Sans', Arial, sans-serif" font-size="24" font-weight="bold" fill="#000" text-anchor="end">300</text>
<line x1="1036.3" y1="18.8" x2="1047.3" y2="18.8" stroke="#000" stroke-width="2.5" stroke-linecap="butt"/>
<text x="1033.7" y="27.4" font-family="'Liberation Sans', Arial, sans-serif" font-size="24" font-weight="bold" fill="#000" text-anchor="end">400</text>
<line x1="1062" y1="328.4" x2="1062" y2="339.4" stroke="#000" stroke-width="2.3" stroke-linecap="butt"/>
<line x1="1076.7" y1="328.4" x2="1076.7" y2="333.9" stroke="#000" stroke-width="2.3" stroke-linecap="butt"/>
<line x1="1091.4" y1="328.4" x2="1091.4" y2="333.9" stroke="#000" stroke-width="2.3" stroke-linecap="butt"/>
<line x1="1106.1" y1="328.4" x2="1106.1" y2="333.9" stroke="#000" stroke-width="2.3" stroke-linecap="butt"/>
<line x1="1120.8" y1="328.4" x2="1120.8" y2="333.9" stroke="#000" stroke-width="2.3" stroke-linecap="butt"/>
<line x1="1135.5" y1="328.4" x2="1135.5" y2="339.4" stroke="#000" stroke-width="2.3" stroke-linecap="butt"/>
<line x1="1150.2" y1="328.4" x2="1150.2" y2="333.9" stroke="#000" stroke-width="2.3" stroke-linecap="butt"/>
<line x1="1164.9" y1="328.4" x2="1164.9" y2="333.9" stroke="#000" stroke-width="2.3" stroke-linecap="butt"/>
<line x1="1179.6" y1="328.4" x2="1179.6" y2="333.9" stroke="#000" stroke-width="2.3" stroke-linecap="butt"/>
<line x1="1194.3" y1="328.4" x2="1194.3" y2="333.9" stroke="#000" stroke-width="2.3" stroke-linecap="butt"/>
<line x1="1209" y1="328.4" x2="1209" y2="339.4" stroke="#000" stroke-width="2.3" stroke-linecap="butt"/>
<line x1="1223.7" y1="328.4" x2="1223.7" y2="333.9" stroke="#000" stroke-width="2.3" stroke-linecap="butt"/>
<line x1="1238.4" y1="328.4" x2="1238.4" y2="333.9" stroke="#000" stroke-width="2.3" stroke-linecap="butt"/>
<line x1="1253.1" y1="328.4" x2="1253.1" y2="333.9" stroke="#000" stroke-width="2.3" stroke-linecap="butt"/>
<line x1="1267.8" y1="328.4" x2="1267.8" y2="333.9" stroke="#000" stroke-width="2.3" stroke-linecap="butt"/>
<line x1="1282.5" y1="328.4" x2="1282.5" y2="339.4" stroke="#000" stroke-width="2.3" stroke-linecap="butt"/>
<line x1="1297.2" y1="328.4" x2="1297.2" y2="333.9" stroke="#000" stroke-width="2.3" stroke-linecap="butt"/>
<line x1="1311.9" y1="328.4" x2="1311.9" y2="333.9" stroke="#000" stroke-width="2.3" stroke-linecap="butt"/>
<line x1="1326.6" y1="328.4" x2="1326.6" y2="333.9" stroke="#000" stroke-width="2.3" stroke-linecap="butt"/>
<line x1="1341.3" y1="328.4" x2="1341.3" y2="333.9" stroke="#000" stroke-width="2.3" stroke-linecap="butt"/>
<line x1="1356" y1="328.4" x2="1356" y2="339.4" stroke="#000" stroke-width="2.3" stroke-linecap="butt"/>
<line x1="1370.7" y1="328.4" x2="1370.7" y2="333.9" stroke="#000" stroke-width="2.3" stroke-linecap="butt"/>
<line x1="1385.4" y1="328.4" x2="1385.4" y2="333.9" stroke="#000" stroke-width="2.3" stroke-linecap="butt"/>
<line x1="1400.1" y1="328.4" x2="1400.1" y2="333.9" stroke="#000" stroke-width="2.3" stroke-linecap="butt"/>
<line x1="1414.8" y1="328.4" x2="1414.8" y2="333.9" stroke="#000" stroke-width="2.3" stroke-linecap="butt"/>
<line x1="1429.5" y1="328.4" x2="1429.5" y2="339.4" stroke="#000" stroke-width="2.3" stroke-linecap="butt"/>
<line x1="1444.2" y1="328.4" x2="1444.2" y2="333.9" stroke="#000" stroke-width="2.3" stroke-linecap="butt"/>
<line x1="1458.9" y1="328.4" x2="1458.9" y2="333.9" stroke="#000" stroke-width="2.3" stroke-linecap="butt"/>
<line x1="1473.6" y1="328.4" x2="1473.6" y2="333.9" stroke="#000" stroke-width="2.3" stroke-linecap="butt"/>
<line x1="1488.3" y1="328.4" x2="1488.3" y2="339.4" stroke="#000" stroke-width="2.3" stroke-linecap="butt"/>
<line x1="1503.6" y1="328.4" x2="1503.6" y2="339.4" stroke="#000" stroke-width="2.3" stroke-linecap="butt"/>
<text x="0" y="0" font-family="'Liberation Sans', Arial, sans-serif" font-size="24" font-weight="bold" fill="#000" text-anchor="end" transform="translate(1070.3 360.3) rotate(-45)">1990</text>
<text x="0" y="0" font-family="'Liberation Sans', Arial, sans-serif" font-size="24" font-weight="bold" fill="#000" text-anchor="end" transform="translate(1143.8 360.3) rotate(-45)">1995</text>
<text x="0" y="0" font-family="'Liberation Sans', Arial, sans-serif" font-size="24" font-weight="bold" fill="#000" text-anchor="end" transform="translate(1217.3 360.3) rotate(-45)">2000</text>
<text x="0" y="0" font-family="'Liberation Sans', Arial, sans-serif" font-size="24" font-weight="bold" fill="#000" text-anchor="end" transform="translate(1290.8 360.3) rotate(-45)">2005</text>
<text x="0" y="0" font-family="'Liberation Sans', Arial, sans-serif" font-size="24" font-weight="bold" fill="#000" text-anchor="end" transform="translate(1364.3 360.3) rotate(-45)">2010</text>
<text x="0" y="0" font-family="'Liberation Sans', Arial, sans-serif" font-size="24" font-weight="bold" fill="#000" text-anchor="end" transform="translate(1437.8 360.3) rotate(-45)">2015</text>
<text x="0" y="0" font-family="'Liberation Sans', Arial, sans-serif" font-size="24" font-weight="bold" fill="#000" text-anchor="end" transform="translate(1496.6 360.3) rotate(-45)">2019</text>
<text x="367" y="430" font-family="'Liberation Sans', Arial, sans-serif" font-size="24" font-weight="bold" fill="#000" text-anchor="middle">year</text>
<text x="1275" y="430" font-family="'Liberation Sans', Arial, sans-serif" font-size="24" font-weight="bold" fill="#000" text-anchor="middle">year</text>
<text transform="translate(71.8 171.6) rotate(-90)" font-family="'Liberation Sans', Arial, sans-serif" font-size="24.6" font-weight="bold" text-anchor="middle">Incident cases (No.×10<tspan font-size="17.5" dy="-11">3</tspan><tspan dy="11">)</tspan></text>
<text transform="translate(979.7 170.2) rotate(-90)" font-family="'Liberation Sans', Arial, sans-serif" font-size="24.6" font-weight="bold" text-anchor="middle">Deaths (No.×10<tspan font-size="17.5" dy="-11">3</tspan><tspan dy="11">)</tspan></text>
<line x1="611" y1="34.7" x2="638" y2="34.7" stroke="#D8312F" stroke-width="3.2" stroke-linecap="butt"/>
<circle cx="624.5" cy="34.7" r="3.9" fill="#F20F12"/>
<text x="654" y="43.29" font-family="'Liberation Sans', Arial, sans-serif" font-size="24" font-weight="bold" fill="#000" text-anchor="start">Leukemia</text>
<line x1="611" y1="69.2" x2="638" y2="69.2" stroke="#EC9F34" stroke-width="3.2" stroke-linecap="butt"/>
<rect x="620.5" y="65.2" width="8" height="8" fill="#EE9F33"/>
<text x="654" y="77.79" font-family="'Liberation Sans', Arial, sans-serif" font-size="24" font-weight="bold" fill="#000" text-anchor="start">Multiple myeloma</text>
<line x1="611" y1="104.2" x2="638" y2="104.2" stroke="#3C8FC6" stroke-width="3.2" stroke-linecap="butt"/>
<polygon points="624.5,99.6 629.1,107.65 619.9,107.65" fill="#3B91C9" stroke="none" stroke-width="0"/>
<text x="654" y="112.79" font-family="'Liberation Sans', Arial, sans-serif" font-size="24" font-weight="bold" fill="#000" text-anchor="start">Non-Hodgkin lymphoma</text>
<line x1="611" y1="138.8" x2="638" y2="138.8" stroke="#4EB24E" stroke-width="3.2" stroke-linecap="butt"/>
<polygon points="624.5,135 627.73,138.8 624.5,142.6 621.27,138.8" fill="#4CB34C" stroke="none" stroke-width="0"/>
<text x="654" y="147.39" font-family="'Liberation Sans', Arial, sans-serif" font-size="24" font-weight="bold" fill="#000" text-anchor="start">Hodgkin lymphoma</text>
<line x1="1520.5" y1="38.4" x2="1547.3" y2="38.4" stroke="#D8312F" stroke-width="3.2" stroke-linecap="butt"/>
<circle cx="1533.9" cy="38.4" r="3.9" fill="#F20F12"/>
<text x="1563" y="46.99" font-family="'Liberation Sans', Arial, sans-serif" font-size="24" font-weight="bold" fill="#000" text-anchor="start">Leukemia</text>
<line x1="1520.5" y1="72.8" x2="1547.3" y2="72.8" stroke="#EC9F34" stroke-width="3.2" stroke-linecap="butt"/>
<rect x="1529.9" y="68.8" width="8" height="8" fill="#EE9F33"/>
<text x="1563" y="81.39" font-family="'Liberation Sans', Arial, sans-serif" font-size="24" font-weight="bold" fill="#000" text-anchor="start">Multiple myeloma</text>
<line x1="1519" y1="107.7" x2="1545.8" y2="107.7" stroke="#3C8FC6" stroke-width="3.2" stroke-linecap="butt"/>
<polygon points="1532.4,103.1 1537,111.15 1527.8,111.15" fill="#3B91C9" stroke="none" stroke-width="0"/>
<text x="1561.5" y="116.29" font-family="'Liberation Sans', Arial, sans-serif" font-size="24" font-weight="bold" fill="#000" text-anchor="start">Non-Hodgkin lymphoma</text>
<line x1="1520.5" y1="142.3" x2="1547.3" y2="142.3" stroke="#4EB24E" stroke-width="3.2" stroke-linecap="butt"/>
<polygon points="1533.9,138.5 1537.13,142.3 1533.9,146.1 1530.67,142.3" fill="#4CB34C" stroke="none" stroke-width="0"/>
<text x="1563" y="150.89" font-family="'Liberation Sans', Arial, sans-serif" font-size="24" font-weight="bold" fill="#000" text-anchor="start">Hodgkin lymphoma</text>
<text x="11" y="26" font-family="'Liberation Serif', 'Times New Roman', serif" font-size="35" font-weight="bold" fill="#000" text-anchor="start">A</text>
<text x="929" y="26" font-family="'Liberation Serif', 'Times New Roman', serif" font-size="35" font-weight="bold" fill="#000" text-anchor="start">B</text>
<text x="12" y="479.8" font-family="'Liberation Serif', 'Times New Roman', serif" font-size="35" font-weight="bold" fill="#000" text-anchor="start">C</text>
<text x="928" y="479.6" font-family="'Liberation Serif', 'Times New Roman', serif" font-size="35" font-weight="bold" fill="#000" text-anchor="start">D</text>
<text x="12.5" y="1098.2" font-family="'Liberation Serif', 'Times New Roman', serif" font-size="35" font-weight="bold" fill="#000" text-anchor="start">E</text>
<text x="929.5" y="1098.2" font-family="'Liberation Serif', 'Times New Roman', serif" font-size="35" font-weight="bold" fill="#000" text-anchor="start">F</text>
<polygon points="98.8,614.5 115.3,614.52 131.8,616.62 148.3,617.03 164.8,617.36 181.3,617.78 197.8,619.13 214.3,620.48 230.8,621.44 247.3,622.42 263.8,624.8 280.3,627.24 296.8,629.94 313.3,632.64 329.8,635.34 346.3,638.04 362.8,641.31 379.3,644.51 395.8,645.17 412.3,645.88 428.8,646.98 445.3,648.08 461.8,649.91 478.3,651.89 494.8,652.51 511.3,653 527.8,653.32 544.3,653.61 560.8,652.05 577.3,650.49 577.3,677.28 560.8,675.73 544.3,674.17 527.8,673.52 511.3,672.88 494.8,672.39 478.3,671.84 461.8,670.69 445.3,669.63 428.8,669.08 412.3,668.53 395.8,668.56 379.3,668.67 362.8,668.76 346.3,666.2 329.8,665.15 313.3,664.1 296.8,663.05 280.3,662 263.8,660.98 247.3,659.96 230.8,660.89 214.3,661.84 197.8,662.05 181.3,662.25 164.8,662.46 148.3,663.26 131.8,664.1 115.3,665.33 98.8,666.57" fill="#F0C2C2" stroke="none" stroke-width="0"/>
<polygon points="98.8,721.16 115.3,718.54 131.8,716.24 148.3,713.3 164.8,711.32 181.3,709.64 197.8,708.6 214.3,707.88 230.8,706.83 247.3,705.79 263.8,706.33 280.3,707.25 296.8,707.84 313.3,707.81 329.8,708.1 346.3,707.75 362.8,707.72 379.3,706.74 395.8,705.13 412.3,703.84 428.8,702.54 445.3,701.56 461.8,700.9 478.3,700.54 494.8,700.19 511.3,699.53 527.8,699.49 544.3,699.14 560.8,698.48 577.3,697.81 577.3,717.37 560.8,717.34 544.3,717.3 527.8,716.95 511.3,716.29 494.8,716.25 478.3,715.9 461.8,715.55 445.3,715.52 428.8,715.8 412.3,717.03 395.8,718.26 379.3,719.8 362.8,720.72 346.3,720.69 329.8,720.97 313.3,720.62 296.8,720.59 280.3,719.93 263.8,718.95 247.3,718.23 230.8,719.08 214.3,719.93 197.8,720.47 181.3,721.32 164.8,722.8 148.3,724.6 131.8,727.35 115.3,729.46 98.8,731.89" fill="#A8DCEE" stroke="none" stroke-width="0"/>
<polygon points="98.8,773.54 115.3,773.18 131.8,772.83 148.3,772.47 164.8,772.11 181.3,771.68 197.8,771.17 214.3,770.67 230.8,770.16 247.3,769.66 263.8,769.65 280.3,769.64 296.8,769.63 313.3,769.62 329.8,769.6 346.3,769.59 362.8,769.58 379.3,769.57 395.8,769.56 412.3,769.56 428.8,769.61 445.3,769.66 461.8,769.71 478.3,769.76 494.8,769.82 511.3,769.87 527.8,769.92 544.3,769.97 560.8,770.02 577.3,770.07 577.3,775.75 560.8,775.68 544.3,775.61 527.8,775.53 511.3,775.46 494.8,775.39 478.3,775.31 461.8,775.24 445.3,775.17 428.8,775.09 412.3,775.02 395.8,775 379.3,774.99 362.8,774.98 346.3,774.97 329.8,774.96 313.3,774.95 296.8,774.94 280.3,774.93 263.8,774.91 247.3,774.9 230.8,775.38 214.3,775.87 197.8,776.35 181.3,776.84 164.8,777.24 148.3,777.58 131.8,777.92 115.3,778.25 98.8,778.59" fill="#F8DAB4" stroke="none" stroke-width="0"/>
<polygon points="98.8,782.38 115.3,782.52 131.8,782.66 148.3,782.8 164.8,782.94 181.3,783.08 197.8,783.22 214.3,783.36 230.8,783.5 247.3,783.64 263.8,783.79 280.3,783.93 296.8,784.03 313.3,784.11 329.8,784.2 346.3,784.29 362.8,784.38 379.3,784.47 395.8,784.56 412.3,784.65 428.8,784.74 445.3,784.82 461.8,784.91 478.3,785 494.8,785.09 511.3,785.18 527.8,785.27 544.3,785.36 560.8,785.45 577.3,785.53 577.3,789.01 560.8,788.92 544.3,788.83 527.8,788.74 511.3,788.65 494.8,788.56 478.3,788.47 461.8,788.38 445.3,788.3 428.8,788.21 412.3,788.12 395.8,788.03 379.3,787.94 362.8,787.85 346.3,787.76 329.8,787.67 313.3,787.59 296.8,787.5 280.3,787.4 263.8,787.26 247.3,787.12 230.8,786.98 214.3,786.83 197.8,786.69 181.3,786.55 164.8,786.41 148.3,786.27 131.8,786.13 115.3,785.99 98.8,785.85" fill="#A9D9A9" stroke="none" stroke-width="0"/>
<polyline points="98.8,640.38 115.3,640.38 131.8,640.38 148.3,639.43 164.8,639.43 181.3,639.43 197.8,640.38 214.3,640.38 230.8,640.38 247.3,640.38 263.8,642.27 280.3,644.8 296.8,646.69 313.3,648.27 329.8,650.79 346.3,652.37 362.8,654.89 379.3,656.47 395.8,656.47 412.3,656.47 428.8,657.73 445.3,659 461.8,660.89 478.3,661.52 494.8,662.47 511.3,662.47 527.8,663.41 544.3,664.05 560.8,664.05 577.3,664.05" fill="none" stroke="#D8312F" stroke-width="3.2" stroke-linejoin="round"/>
<circle cx="98.8" cy="640.38" r="4.29" fill="#F20F12"/>
<circle cx="115.3" cy="640.38" r="4.29" fill="#F20F12"/>
<circle cx="131.8" cy="640.38" r="4.29" fill="#F20F12"/>
<circle cx="148.3" cy="639.43" r="4.29" fill="#F20F12"/>
<circle cx="164.8" cy="639.43" r="4.29" fill="#F20F12"/>
<circle cx="181.3" cy="639.43" r="4.29" fill="#F20F12"/>
<circle cx="197.8" cy="640.38" r="4.29" fill="#F20F12"/>
<circle cx="214.3" cy="640.38" r="4.29" fill="#F20F12"/>
<circle cx="230.8" cy="640.38" r="4.29" fill="#F20F12"/>
<circle cx="247.3" cy="640.38" r="4.29" fill="#F20F12"/>
<circle cx="263.8" cy="642.27" r="4.29" fill="#F20F12"/>
<circle cx="280.3" cy="644.8" r="4.29" fill="#F20F12"/>
<circle cx="296.8" cy="646.69" r="4.29" fill="#F20F12"/>
<circle cx="313.3" cy="648.27" r="4.29" fill="#F20F12"/>
<circle cx="329.8" cy="650.79" r="4.29" fill="#F20F12"/>
<circle cx="346.3" cy="652.37" r="4.29" fill="#F20F12"/>
<circle cx="362.8" cy="654.89" r="4.29" fill="#F20F12"/>
<circle cx="379.3" cy="656.47" r="4.29" fill="#F20F12"/>
<circle cx="395.8" cy="656.47" r="4.29" fill="#F20F12"/>
<circle cx="412.3" cy="656.47" r="4.29" fill="#F20F12"/>
<circle cx="428.8" cy="657.73" r="4.29" fill="#F20F12"/>
<circle cx="445.3" cy="659" r="4.29" fill="#F20F12"/>
<circle cx="461.8" cy="660.89" r="4.29" fill="#F20F12"/>
<circle cx="478.3" cy="661.52" r="4.29" fill="#F20F12"/>
<circle cx="494.8" cy="662.47" r="4.29" fill="#F20F12"/>
<circle cx="511.3" cy="662.47" r="4.29" fill="#F20F12"/>
<circle cx="527.8" cy="663.41" r="4.29" fill="#F20F12"/>
<circle cx="544.3" cy="664.05" r="4.29" fill="#F20F12"/>
<circle cx="560.8" cy="664.05" r="4.29" fill="#F20F12"/>
<circle cx="577.3" cy="664.05" r="4.29" fill="#F20F12"/>
<polyline points="98.8,726.53 115.3,724 131.8,721.79 148.3,718.95 164.8,717.06 181.3,715.48 197.8,714.53 214.3,713.9 230.8,712.96 247.3,712.01 263.8,712.64 280.3,713.59 296.8,714.22 313.3,714.22 329.8,714.53 346.3,714.22 362.8,714.22 379.3,713.27 395.8,711.69 412.3,710.43 428.8,709.17 445.3,708.54 461.8,708.22 478.3,708.22 494.8,708.22 511.3,707.91 527.8,708.22 544.3,708.22 560.8,707.91 577.3,707.59" fill="none" stroke="#3C8FC6" stroke-width="3.8" stroke-linejoin="round"/>
<polygon points="98.8,721.47 103.86,730.32 93.74,730.32" fill="#3B91C9" stroke="none" stroke-width="0"/>
<polygon points="115.3,718.94 120.36,727.8 110.24,727.8" fill="#3B91C9" stroke="none" stroke-width="0"/>
<polygon points="131.8,716.73 136.86,725.59 126.74,725.59" fill="#3B91C9" stroke="none" stroke-width="0"/>
<polygon points="148.3,713.89 153.36,722.75 143.24,722.75" fill="#3B91C9" stroke="none" stroke-width="0"/>
<polygon points="164.8,712 169.86,720.85 159.74,720.85" fill="#3B91C9" stroke="none" stroke-width="0"/>
<polygon points="181.3,710.42 186.36,719.28 176.24,719.28" fill="#3B91C9" stroke="none" stroke-width="0"/>
<polygon points="197.8,709.47 202.86,718.33 192.74,718.33" fill="#3B91C9" stroke="none" stroke-width="0"/>
<polygon points="214.3,708.84 219.36,717.7 209.24,717.7" fill="#3B91C9" stroke="none" stroke-width="0"/>
<polygon points="230.8,707.9 235.86,716.75 225.74,716.75" fill="#3B91C9" stroke="none" stroke-width="0"/>
<polygon points="247.3,706.95 252.36,715.81 242.24,715.81" fill="#3B91C9" stroke="none" stroke-width="0"/>
<polygon points="263.8,707.58 268.86,716.44 258.74,716.44" fill="#3B91C9" stroke="none" stroke-width="0"/>
<polygon points="280.3,708.53 285.36,717.38 275.24,717.38" fill="#3B91C9" stroke="none" stroke-width="0"/>
<polygon points="296.8,709.16 301.86,718.01 291.74,718.01" fill="#3B91C9" stroke="none" stroke-width="0"/>
<polygon points="313.3,709.16 318.36,718.01 308.24,718.01" fill="#3B91C9" stroke="none" stroke-width="0"/>
<polygon points="329.8,709.47 334.86,718.33 324.74,718.33" fill="#3B91C9" stroke="none" stroke-width="0"/>
<polygon points="346.3,709.16 351.36,718.01 341.24,718.01" fill="#3B91C9" stroke="none" stroke-width="0"/>
<polygon points="362.8,709.16 367.86,718.01 357.74,718.01" fill="#3B91C9" stroke="none" stroke-width="0"/>
<polygon points="379.3,708.21 384.36,717.07 374.24,717.07" fill="#3B91C9" stroke="none" stroke-width="0"/>
<polygon points="395.8,706.63 400.86,715.49 390.74,715.49" fill="#3B91C9" stroke="none" stroke-width="0"/>
<polygon points="412.3,705.37 417.36,714.23 407.24,714.23" fill="#3B91C9" stroke="none" stroke-width="0"/>
<polygon points="428.8,704.11 433.86,712.97 423.74,712.97" fill="#3B91C9" stroke="none" stroke-width="0"/>
<polygon points="445.3,703.48 450.36,712.33 440.24,712.33" fill="#3B91C9" stroke="none" stroke-width="0"/>
<polygon points="461.8,703.16 466.86,712.02 456.74,712.02" fill="#3B91C9" stroke="none" stroke-width="0"/>
<polygon points="478.3,703.16 483.36,712.02 473.24,712.02" fill="#3B91C9" stroke="none" stroke-width="0"/>
<polygon points="494.8,703.16 499.86,712.02 489.74,712.02" fill="#3B91C9" stroke="none" stroke-width="0"/>
<polygon points="511.3,702.85 516.36,711.7 506.24,711.7" fill="#3B91C9" stroke="none" stroke-width="0"/>
<polygon points="527.8,703.16 532.86,712.02 522.74,712.02" fill="#3B91C9" stroke="none" stroke-width="0"/>
<polygon points="544.3,703.16 549.36,712.02 539.24,712.02" fill="#3B91C9" stroke="none" stroke-width="0"/>
<polygon points="560.8,702.85 565.86,711.7 555.74,711.7" fill="#3B91C9" stroke="none" stroke-width="0"/>
<polygon points="577.3,702.53 582.36,711.39 572.24,711.39" fill="#3B91C9" stroke="none" stroke-width="0"/>
<polyline points="98.8,783.96 115.3,784.1 131.8,784.24 148.3,784.38 164.8,784.52 181.3,784.66 197.8,784.8 214.3,784.94 230.8,785.08 247.3,785.22 263.8,785.36 280.3,785.5 296.8,785.6 313.3,785.69 329.8,785.78 346.3,785.87 362.8,785.96 379.3,786.05 395.8,786.14 412.3,786.22 428.8,786.31 445.3,786.4 461.8,786.49 478.3,786.58 494.8,786.67 511.3,786.76 527.8,786.85 544.3,786.93 560.8,787.02 577.3,787.11" fill="none" stroke="#4EB24E" stroke-width="3.2" stroke-linejoin="round"/>
<polygon points="98.8,779.78 102.35,783.96 98.8,788.14 95.25,783.96" fill="#4CB34C" stroke="none" stroke-width="0"/>
<polygon points="115.3,779.92 118.85,784.1 115.3,788.28 111.75,784.1" fill="#4CB34C" stroke="none" stroke-width="0"/>
<polygon points="131.8,780.06 135.35,784.24 131.8,788.42 128.25,784.24" fill="#4CB34C" stroke="none" stroke-width="0"/>
<polygon points="148.3,780.2 151.85,784.38 148.3,788.56 144.75,784.38" fill="#4CB34C" stroke="none" stroke-width="0"/>
<polygon points="164.8,780.34 168.35,784.52 164.8,788.7 161.25,784.52" fill="#4CB34C" stroke="none" stroke-width="0"/>
<polygon points="181.3,780.48 184.85,784.66 181.3,788.84 177.75,784.66" fill="#4CB34C" stroke="none" stroke-width="0"/>
<polygon points="197.8,780.62 201.35,784.8 197.8,788.98 194.25,784.8" fill="#4CB34C" stroke="none" stroke-width="0"/>
<polygon points="214.3,780.76 217.85,784.94 214.3,789.12 210.75,784.94" fill="#4CB34C" stroke="none" stroke-width="0"/>
<polygon points="230.8,780.9 234.35,785.08 230.8,789.26 227.25,785.08" fill="#4CB34C" stroke="none" stroke-width="0"/>
<polygon points="247.3,781.04 250.85,785.22 247.3,789.4 243.75,785.22" fill="#4CB34C" stroke="none" stroke-width="0"/>
<polygon points="263.8,781.18 267.35,785.36 263.8,789.54 260.25,785.36" fill="#4CB34C" stroke="none" stroke-width="0"/>
<polygon points="280.3,781.32 283.85,785.5 280.3,789.68 276.75,785.5" fill="#4CB34C" stroke="none" stroke-width="0"/>
<polygon points="296.8,781.42 300.35,785.6 296.8,789.78 293.25,785.6" fill="#4CB34C" stroke="none" stroke-width="0"/>
<polygon points="313.3,781.51 316.85,785.69 313.3,789.87 309.75,785.69" fill="#4CB34C" stroke="none" stroke-width="0"/>
<polygon points="329.8,781.6 333.35,785.78 329.8,789.96 326.25,785.78" fill="#4CB34C" stroke="none" stroke-width="0"/>
<polygon points="346.3,781.69 349.85,785.87 346.3,790.05 342.75,785.87" fill="#4CB34C" stroke="none" stroke-width="0"/>
<polygon points="362.8,781.78 366.35,785.96 362.8,790.14 359.25,785.96" fill="#4CB34C" stroke="none" stroke-width="0"/>
<polygon points="379.3,781.87 382.85,786.05 379.3,790.23 375.75,786.05" fill="#4CB34C" stroke="none" stroke-width="0"/>
<polygon points="395.8,781.96 399.35,786.14 395.8,790.32 392.25,786.14" fill="#4CB34C" stroke="none" stroke-width="0"/>
<polygon points="412.3,782.04 415.85,786.22 412.3,790.4 408.75,786.22" fill="#4CB34C" stroke="none" stroke-width="0"/>
<polygon points="428.8,782.13 432.35,786.31 428.8,790.49 425.25,786.31" fill="#4CB34C" stroke="none" stroke-width="0"/>
<polygon points="445.3,782.22 448.85,786.4 445.3,790.58 441.75,786.4" fill="#4CB34C" stroke="none" stroke-width="0"/>
<polygon points="461.8,782.31 465.35,786.49 461.8,790.67 458.25,786.49" fill="#4CB34C" stroke="none" stroke-width="0"/>
<polygon points="478.3,782.4 481.85,786.58 478.3,790.76 474.75,786.58" fill="#4CB34C" stroke="none" stroke-width="0"/>
<polygon points="494.8,782.49 498.35,786.67 494.8,790.85 491.25,786.67" fill="#4CB34C" stroke="none" stroke-width="0"/>
<polygon points="511.3,782.58 514.85,786.76 511.3,790.94 507.75,786.76" fill="#4CB34C" stroke="none" stroke-width="0"/>
<polygon points="527.8,782.67 531.35,786.85 527.8,791.03 524.25,786.85" fill="#4CB34C" stroke="none" stroke-width="0"/>
<polygon points="544.3,782.75 547.85,786.93 544.3,791.11 540.75,786.93" fill="#4CB34C" stroke="none" stroke-width="0"/>
<polygon points="560.8,782.84 564.35,787.02 560.8,791.2 557.25,787.02" fill="#4CB34C" stroke="none" stroke-width="0"/>
<polygon points="577.3,782.93 580.85,787.11 577.3,791.29 573.75,787.11" fill="#4CB34C" stroke="none" stroke-width="0"/>
<polyline points="98.8,776.07 115.3,775.72 131.8,775.37 148.3,775.02 164.8,774.68 181.3,774.26 197.8,773.76 214.3,773.27 230.8,772.77 247.3,772.28 263.8,772.28 280.3,772.28 296.8,772.28 313.3,772.28 329.8,772.28 346.3,772.28 362.8,772.28 379.3,772.28 395.8,772.28 412.3,772.29 428.8,772.35 445.3,772.41 461.8,772.48 478.3,772.54 494.8,772.6 511.3,772.66 527.8,772.73 544.3,772.79 560.8,772.85 577.3,772.91" fill="none" stroke="#EC9F34" stroke-width="3.2" stroke-linejoin="round"/>
<rect x="94.4" y="771.67" width="8.8" height="8.8" fill="#EE9F33"/>
<rect x="110.9" y="771.32" width="8.8" height="8.8" fill="#EE9F33"/>
<rect x="127.4" y="770.97" width="8.8" height="8.8" fill="#EE9F33"/>
<rect x="143.9" y="770.62" width="8.8" height="8.8" fill="#EE9F33"/>
<rect x="160.4" y="770.28" width="8.8" height="8.8" fill="#EE9F33"/>
<rect x="176.9" y="769.86" width="8.8" height="8.8" fill="#EE9F33"/>
<rect x="193.4" y="769.36" width="8.8" height="8.8" fill="#EE9F33"/>
<rect x="209.9" y="768.87" width="8.8" height="8.8" fill="#EE9F33"/>
<rect x="226.4" y="768.37" width="8.8" height="8.8" fill="#EE9F33"/>
<rect x="242.9" y="767.88" width="8.8" height="8.8" fill="#EE9F33"/>
<rect x="259.4" y="767.88" width="8.8" height="8.8" fill="#EE9F33"/>
<rect x="275.9" y="767.88" width="8.8" height="8.8" fill="#EE9F33"/>
<rect x="292.4" y="767.88" width="8.8" height="8.8" fill="#EE9F33"/>
<rect x="308.9" y="767.88" width="8.8" height="8.8" fill="#EE9F33"/>
<rect x="325.4" y="767.88" width="8.8" height="8.8" fill="#EE9F33"/>
<rect x="341.9" y="767.88" width="8.8" height="8.8" fill="#EE9F33"/>
<rect x="358.4" y="767.88" width="8.8" height="8.8" fill="#EE9F33"/>
<rect x="374.9" y="767.88" width="8.8" height="8.8" fill="#EE9F33"/>
<rect x="391.4" y="767.88" width="8.8" height="8.8" fill="#EE9F33"/>
<rect x="407.9" y="767.89" width="8.8" height="8.8" fill="#EE9F33"/>
<rect x="424.4" y="767.95" width="8.8" height="8.8" fill="#EE9F33"/>
<rect x="440.9" y="768.01" width="8.8" height="8.8" fill="#EE9F33"/>
<rect x="457.4" y="768.08" width="8.8" height="8.8" fill="#EE9F33"/>
<rect x="473.9" y="768.14" width="8.8" height="8.8" fill="#EE9F33"/>
<rect x="490.4" y="768.2" width="8.8" height="8.8" fill="#EE9F33"/>
<rect x="506.9" y="768.26" width="8.8" height="8.8" fill="#EE9F33"/>
<rect x="523.4" y="768.33" width="8.8" height="8.8" fill="#EE9F33"/>
<rect x="539.9" y="768.39" width="8.8" height="8.8" fill="#EE9F33"/>
<rect x="556.4" y="768.45" width="8.8" height="8.8" fill="#EE9F33"/>
<rect x="572.9" y="768.51" width="8.8" height="8.8" fill="#EE9F33"/>
<polygon points="1085.5,623.39 1101.34,624.73 1117.18,626.07 1133.02,627.43 1148.86,629.01 1164.7,630.59 1180.54,632.18 1196.38,633.82 1212.22,635.45 1228.06,637.11 1243.9,639.61 1259.74,642.15 1275.58,645.32 1291.42,648.49 1307.26,651.65 1323.1,653.41 1338.94,655.14 1354.78,656.77 1370.62,658.35 1386.46,659.97 1402.3,662.43 1418.14,664.9 1433.98,667.36 1449.82,668.66 1465.66,669.96 1481.5,671.27 1497.34,671.68 1513.18,672.09 1529.02,672.49 1544.86,672.9 1544.86,692.44 1529.02,691.06 1513.18,689.68 1497.34,688.29 1481.5,686.9 1465.66,686.03 1449.82,685.17 1433.98,684.3 1418.14,683.01 1402.3,681.73 1386.46,680.44 1370.62,679.22 1354.78,678 1338.94,676.72 1323.1,675.28 1307.26,673.82 1291.42,671.18 1275.58,668.76 1259.74,667.43 1243.9,666.1 1228.06,664.78 1212.22,663.67 1196.38,662.57 1180.54,661.48 1164.7,660.38 1148.86,659.28 1133.02,658.44 1117.18,657.61 1101.34,656.79 1085.5,655.96" fill="#F0C2C2" stroke="none" stroke-width="0"/>
<polygon points="1085.5,709.38 1101.34,708.39 1117.18,707.39 1133.02,705.75 1148.86,704.43 1164.7,703.44 1180.54,703.09 1196.38,702.75 1212.22,702.74 1228.06,702.72 1243.9,703.68 1259.74,704.97 1275.58,705.93 1291.42,706.56 1307.26,707.2 1323.1,707.51 1338.94,707.49 1354.78,707.15 1370.62,706.81 1386.46,706.79 1402.3,706.45 1418.14,706.05 1433.98,705.65 1449.82,705.58 1465.66,705.51 1481.5,705.11 1497.34,705.04 1513.18,704.97 1529.02,704.89 1544.86,704.82 1544.86,717.2 1529.02,716.55 1513.18,715.9 1497.34,715.24 1481.5,714.59 1465.66,714.27 1449.82,713.62 1433.98,712.96 1418.14,712.64 1402.3,712.31 1386.46,712.62 1370.62,712.61 1354.78,712.92 1338.94,713.22 1323.1,713.21 1307.26,712.87 1291.42,712.2 1275.58,711.53 1259.74,710.54 1243.9,709.22 1228.06,708.22 1212.22,708.21 1196.38,708.19 1180.54,708.5 1164.7,708.81 1148.86,709.77 1133.02,711.06 1117.18,712.67 1101.34,713.63 1085.5,714.59" fill="#A8DCEE" stroke="none" stroke-width="0"/>
<polygon points="1085.5,753.68 1101.34,753.22 1117.18,752.76 1133.02,752.31 1148.86,751.85 1164.7,751.4 1180.54,751.23 1196.38,751.07 1212.22,750.91 1228.06,750.75 1243.9,750.86 1259.74,750.97 1275.58,751.09 1291.42,751.41 1307.26,751.73 1323.1,752.05 1338.94,752.22 1354.78,752.38 1370.62,752.54 1386.46,752.71 1402.3,752.8 1418.14,752.9 1433.98,753 1449.82,753.1 1465.66,753.19 1481.5,753.29 1497.34,753.39 1513.18,753.49 1529.02,753.58 1544.86,753.68 1544.86,762.15 1529.02,762.03 1513.18,761.91 1497.34,761.79 1481.5,761.67 1465.66,761.55 1449.82,761.43 1433.98,761.31 1418.14,761.19 1402.3,761.07 1386.46,760.95 1370.62,760.77 1354.78,760.58 1338.94,760.39 1323.1,760.21 1307.26,759.86 1291.42,759.52 1275.58,759.17 1259.74,759.03 1243.9,758.9 1228.06,758.77 1212.22,758.91 1196.38,759.05 1180.54,759.19 1164.7,759.33 1148.86,759.75 1133.02,760.19 1117.18,760.63 1101.34,761.06 1085.5,761.5" fill="#F8DAB4" stroke="none" stroke-width="0"/>
<polygon points="1085.5,777.13 1101.34,777.46 1117.18,777.79 1133.02,778.12 1148.86,778.44 1164.7,778.77 1180.54,779.09 1196.38,779.4 1212.22,779.72 1228.06,780.04 1243.9,780.35 1259.74,780.62 1275.58,780.89 1291.42,781.15 1307.26,781.42 1323.1,781.68 1338.94,781.94 1354.78,782.13 1370.62,782.29 1386.46,782.45 1402.3,782.61 1418.14,782.77 1433.98,782.92 1449.82,783.11 1465.66,783.3 1481.5,783.5 1497.34,783.7 1513.18,783.9 1529.02,784.1 1544.86,784.3 1544.86,787.56 1529.02,787.36 1513.18,787.16 1497.34,786.96 1481.5,786.76 1465.66,786.56 1449.82,786.36 1433.98,786.18 1418.14,786.02 1402.3,785.87 1386.46,785.71 1370.62,785.55 1354.78,785.39 1338.94,785.2 1323.1,784.94 1307.26,784.67 1291.42,784.41 1275.58,784.15 1259.74,783.88 1243.9,783.61 1228.06,783.29 1212.22,782.98 1196.38,782.66 1180.54,782.34 1164.7,782.03 1148.86,781.7 1133.02,781.37 1117.18,781.05 1101.34,780.72 1085.5,780.39" fill="#A9D9A9" stroke="none" stroke-width="0"/>
<polyline points="1085.5,640.98 1101.34,642.28 1117.18,643.26 1133.02,643.91 1148.86,644.89 1164.7,645.86 1180.54,647.17 1196.38,649.12 1212.22,650.75 1228.06,651.73 1243.9,653.03 1259.74,654.33 1275.58,656.61 1291.42,658.89 1307.26,661.5 1323.1,663.45 1338.94,665.08 1354.78,667.04 1370.62,668.01 1386.46,669.64 1402.3,670.94 1418.14,672.25 1433.98,673.88 1449.82,675.18 1465.66,676.81 1481.5,678.11 1497.34,679.41 1513.18,680.72 1529.02,681.37 1544.86,682.02" fill="none" stroke="#D8312F" stroke-width="3.2" stroke-linejoin="round"/>
<circle cx="1085.5" cy="640.98" r="4.29" fill="#F20F12"/>
<circle cx="1101.34" cy="642.28" r="4.29" fill="#F20F12"/>
<circle cx="1117.18" cy="643.26" r="4.29" fill="#F20F12"/>
<circle cx="1133.02" cy="643.91" r="4.29" fill="#F20F12"/>
<circle cx="1148.86" cy="644.89" r="4.29" fill="#F20F12"/>
<circle cx="1164.7" cy="645.86" r="4.29" fill="#F20F12"/>
<circle cx="1180.54" cy="647.17" r="4.29" fill="#F20F12"/>
<circle cx="1196.38" cy="649.12" r="4.29" fill="#F20F12"/>
<circle cx="1212.22" cy="650.75" r="4.29" fill="#F20F12"/>
<circle cx="1228.06" cy="651.73" r="4.29" fill="#F20F12"/>
<circle cx="1243.9" cy="653.03" r="4.29" fill="#F20F12"/>
<circle cx="1259.74" cy="654.33" r="4.29" fill="#F20F12"/>
<circle cx="1275.58" cy="656.61" r="4.29" fill="#F20F12"/>
<circle cx="1291.42" cy="658.89" r="4.29" fill="#F20F12"/>
<circle cx="1307.26" cy="661.5" r="4.29" fill="#F20F12"/>
<circle cx="1323.1" cy="663.45" r="4.29" fill="#F20F12"/>
<circle cx="1338.94" cy="665.08" r="4.29" fill="#F20F12"/>
<circle cx="1354.78" cy="667.04" r="4.29" fill="#F20F12"/>
<circle cx="1370.62" cy="668.01" r="4.29" fill="#F20F12"/>
<circle cx="1386.46" cy="669.64" r="4.29" fill="#F20F12"/>
<circle cx="1402.3" cy="670.94" r="4.29" fill="#F20F12"/>
<circle cx="1418.14" cy="672.25" r="4.29" fill="#F20F12"/>
<circle cx="1433.98" cy="673.88" r="4.29" fill="#F20F12"/>
<circle cx="1449.82" cy="675.18" r="4.29" fill="#F20F12"/>
<circle cx="1465.66" cy="676.81" r="4.29" fill="#F20F12"/>
<circle cx="1481.5" cy="678.11" r="4.29" fill="#F20F12"/>
<circle cx="1497.34" cy="679.41" r="4.29" fill="#F20F12"/>
<circle cx="1513.18" cy="680.72" r="4.29" fill="#F20F12"/>
<circle cx="1529.02" cy="681.37" r="4.29" fill="#F20F12"/>
<circle cx="1544.86" cy="682.02" r="4.29" fill="#F20F12"/>
<polyline points="1085.5,711.99 1101.34,711.01 1117.18,710.03 1133.02,708.4 1148.86,707.1 1164.7,706.12 1180.54,705.8 1196.38,705.47 1212.22,705.47 1228.06,705.47 1243.9,706.45 1259.74,707.75 1275.58,708.73 1291.42,709.38 1307.26,710.03 1323.1,710.36 1338.94,710.36 1354.78,710.03 1370.62,709.71 1386.46,709.71 1402.3,709.38 1418.14,709.38 1433.98,709.38 1449.82,709.71 1465.66,710.03 1481.5,710.03 1497.34,710.36 1513.18,710.68 1529.02,711.01 1544.86,711.34" fill="none" stroke="#3C8FC6" stroke-width="3.8" stroke-linejoin="round"/>
<polygon points="1085.5,706.93 1090.56,715.78 1080.44,715.78" fill="#3B91C9" stroke="none" stroke-width="0"/>
<polygon points="1101.34,705.95 1106.4,714.8 1096.28,714.8" fill="#3B91C9" stroke="none" stroke-width="0"/>
<polygon points="1117.18,704.97 1122.24,713.83 1112.12,713.83" fill="#3B91C9" stroke="none" stroke-width="0"/>
<polygon points="1133.02,703.34 1138.08,712.2 1127.96,712.2" fill="#3B91C9" stroke="none" stroke-width="0"/>
<polygon points="1148.86,702.04 1153.92,710.9 1143.8,710.9" fill="#3B91C9" stroke="none" stroke-width="0"/>
<polygon points="1164.7,701.06 1169.76,709.92 1159.64,709.92" fill="#3B91C9" stroke="none" stroke-width="0"/>
<polygon points="1180.54,700.74 1185.6,709.59 1175.48,709.59" fill="#3B91C9" stroke="none" stroke-width="0"/>
<polygon points="1196.38,700.41 1201.44,709.27 1191.32,709.27" fill="#3B91C9" stroke="none" stroke-width="0"/>
<polygon points="1212.22,700.41 1217.28,709.27 1207.16,709.27" fill="#3B91C9" stroke="none" stroke-width="0"/>
<polygon points="1228.06,700.41 1233.12,709.27 1223,709.27" fill="#3B91C9" stroke="none" stroke-width="0"/>
<polygon points="1243.9,701.39 1248.96,710.24 1238.84,710.24" fill="#3B91C9" stroke="none" stroke-width="0"/>
<polygon points="1259.74,702.69 1264.8,711.55 1254.68,711.55" fill="#3B91C9" stroke="none" stroke-width="0"/>
<polygon points="1275.58,703.67 1280.64,712.52 1270.52,712.52" fill="#3B91C9" stroke="none" stroke-width="0"/>
<polygon points="1291.42,704.32 1296.48,713.18 1286.36,713.18" fill="#3B91C9" stroke="none" stroke-width="0"/>
<polygon points="1307.26,704.97 1312.32,713.83 1302.2,713.83" fill="#3B91C9" stroke="none" stroke-width="0"/>
<polygon points="1323.1,705.3 1328.16,714.15 1318.04,714.15" fill="#3B91C9" stroke="none" stroke-width="0"/>
<polygon points="1338.94,705.3 1344,714.15 1333.88,714.15" fill="#3B91C9" stroke="none" stroke-width="0"/>
<polygon points="1354.78,704.97 1359.84,713.83 1349.72,713.83" fill="#3B91C9" stroke="none" stroke-width="0"/>
<polygon points="1370.62,704.65 1375.68,713.5 1365.56,713.5" fill="#3B91C9" stroke="none" stroke-width="0"/>
<polygon points="1386.46,704.65 1391.52,713.5 1381.4,713.5" fill="#3B91C9" stroke="none" stroke-width="0"/>
<polygon points="1402.3,704.32 1407.36,713.18 1397.24,713.18" fill="#3B91C9" stroke="none" stroke-width="0"/>
<polygon points="1418.14,704.32 1423.2,713.18 1413.08,713.18" fill="#3B91C9" stroke="none" stroke-width="0"/>
<polygon points="1433.98,704.32 1439.04,713.18 1428.92,713.18" fill="#3B91C9" stroke="none" stroke-width="0"/>
<polygon points="1449.82,704.65 1454.88,713.5 1444.76,713.5" fill="#3B91C9" stroke="none" stroke-width="0"/>
<polygon points="1465.66,704.97 1470.72,713.83 1460.6,713.83" fill="#3B91C9" stroke="none" stroke-width="0"/>
<polygon points="1481.5,704.97 1486.56,713.83 1476.44,713.83" fill="#3B91C9" stroke="none" stroke-width="0"/>
<polygon points="1497.34,705.3 1502.4,714.15 1492.28,714.15" fill="#3B91C9" stroke="none" stroke-width="0"/>
<polygon points="1513.18,705.62 1518.24,714.48 1508.12,714.48" fill="#3B91C9" stroke="none" stroke-width="0"/>
<polygon points="1529.02,705.95 1534.08,714.8 1523.96,714.8" fill="#3B91C9" stroke="none" stroke-width="0"/>
<polygon points="1544.86,706.28 1549.92,715.13 1539.8,715.13" fill="#3B91C9" stroke="none" stroke-width="0"/>
<polyline points="1085.5,778.76 1101.34,779.09 1117.18,779.42 1133.02,779.74 1148.86,780.07 1164.7,780.4 1180.54,780.72 1196.38,781.03 1212.22,781.35 1228.06,781.67 1243.9,781.98 1259.74,782.25 1275.58,782.52 1291.42,782.78 1307.26,783.04 1323.1,783.31 1338.94,783.57 1354.78,783.76 1370.62,783.92 1386.46,784.08 1402.3,784.24 1418.14,784.4 1433.98,784.55 1449.82,784.73 1465.66,784.93 1481.5,785.13 1497.34,785.33 1513.18,785.53 1529.02,785.73 1544.86,785.93" fill="none" stroke="#4EB24E" stroke-width="3.2" stroke-linejoin="round"/>
<polygon points="1085.5,774.58 1089.05,778.76 1085.5,782.94 1081.95,778.76" fill="#4CB34C" stroke="none" stroke-width="0"/>
<polygon points="1101.34,774.91 1104.89,779.09 1101.34,783.27 1097.79,779.09" fill="#4CB34C" stroke="none" stroke-width="0"/>
<polygon points="1117.18,775.24 1120.73,779.42 1117.18,783.6 1113.63,779.42" fill="#4CB34C" stroke="none" stroke-width="0"/>
<polygon points="1133.02,775.56 1136.57,779.74 1133.02,783.92 1129.47,779.74" fill="#4CB34C" stroke="none" stroke-width="0"/>
<polygon points="1148.86,775.89 1152.41,780.07 1148.86,784.25 1145.31,780.07" fill="#4CB34C" stroke="none" stroke-width="0"/>
<polygon points="1164.7,776.22 1168.25,780.4 1164.7,784.58 1161.15,780.4" fill="#4CB34C" stroke="none" stroke-width="0"/>
<polygon points="1180.54,776.54 1184.09,780.72 1180.54,784.9 1176.99,780.72" fill="#4CB34C" stroke="none" stroke-width="0"/>
<polygon points="1196.38,776.85 1199.93,781.03 1196.38,785.21 1192.83,781.03" fill="#4CB34C" stroke="none" stroke-width="0"/>
<polygon points="1212.22,777.17 1215.77,781.35 1212.22,785.53 1208.67,781.35" fill="#4CB34C" stroke="none" stroke-width="0"/>
<polygon points="1228.06,777.49 1231.61,781.67 1228.06,785.85 1224.51,781.67" fill="#4CB34C" stroke="none" stroke-width="0"/>
<polygon points="1243.9,777.8 1247.45,781.98 1243.9,786.16 1240.35,781.98" fill="#4CB34C" stroke="none" stroke-width="0"/>
<polygon points="1259.74,778.07 1263.29,782.25 1259.74,786.43 1256.19,782.25" fill="#4CB34C" stroke="none" stroke-width="0"/>
<polygon points="1275.58,778.34 1279.13,782.52 1275.58,786.7 1272.03,782.52" fill="#4CB34C" stroke="none" stroke-width="0"/>
<polygon points="1291.42,778.6 1294.97,782.78 1291.42,786.96 1287.87,782.78" fill="#4CB34C" stroke="none" stroke-width="0"/>
<polygon points="1307.26,778.86 1310.81,783.04 1307.26,787.22 1303.71,783.04" fill="#4CB34C" stroke="none" stroke-width="0"/>
<polygon points="1323.1,779.13 1326.65,783.31 1323.1,787.49 1319.55,783.31" fill="#4CB34C" stroke="none" stroke-width="0"/>
<polygon points="1338.94,779.39 1342.49,783.57 1338.94,787.75 1335.39,783.57" fill="#4CB34C" stroke="none" stroke-width="0"/>
<polygon points="1354.78,779.58 1358.33,783.76 1354.78,787.94 1351.23,783.76" fill="#4CB34C" stroke="none" stroke-width="0"/>
<polygon points="1370.62,779.74 1374.17,783.92 1370.62,788.1 1367.07,783.92" fill="#4CB34C" stroke="none" stroke-width="0"/>
<polygon points="1386.46,779.9 1390.01,784.08 1386.46,788.26 1382.91,784.08" fill="#4CB34C" stroke="none" stroke-width="0"/>
<polygon points="1402.3,780.06 1405.85,784.24 1402.3,788.42 1398.75,784.24" fill="#4CB34C" stroke="none" stroke-width="0"/>
<polygon points="1418.14,780.22 1421.69,784.4 1418.14,788.58 1414.59,784.4" fill="#4CB34C" stroke="none" stroke-width="0"/>
<polygon points="1433.98,780.37 1437.53,784.55 1433.98,788.73 1430.43,784.55" fill="#4CB34C" stroke="none" stroke-width="0"/>
<polygon points="1449.82,780.55 1453.37,784.73 1449.82,788.91 1446.27,784.73" fill="#4CB34C" stroke="none" stroke-width="0"/>
<polygon points="1465.66,780.75 1469.21,784.93 1465.66,789.11 1462.11,784.93" fill="#4CB34C" stroke="none" stroke-width="0"/>
<polygon points="1481.5,780.95 1485.05,785.13 1481.5,789.31 1477.95,785.13" fill="#4CB34C" stroke="none" stroke-width="0"/>
<polygon points="1497.34,781.15 1500.89,785.33 1497.34,789.51 1493.79,785.33" fill="#4CB34C" stroke="none" stroke-width="0"/>
<polygon points="1513.18,781.35 1516.73,785.53 1513.18,789.71 1509.63,785.53" fill="#4CB34C" stroke="none" stroke-width="0"/>
<polygon points="1529.02,781.55 1532.57,785.73 1529.02,789.91 1525.47,785.73" fill="#4CB34C" stroke="none" stroke-width="0"/>
<polygon points="1544.86,781.75 1548.41,785.93 1544.86,790.11 1541.31,785.93" fill="#4CB34C" stroke="none" stroke-width="0"/>
<polyline points="1085.5,757.59 1101.34,757.13 1117.18,756.67 1133.02,756.21 1148.86,755.76 1164.7,755.31 1180.54,755.14 1196.38,754.98 1212.22,754.82 1228.06,754.66 1243.9,754.77 1259.74,754.88 1275.58,754.99 1291.42,755.32 1307.26,755.64 1323.1,755.96 1338.94,756.13 1354.78,756.29 1370.62,756.45 1386.46,756.61 1402.3,756.71 1418.14,756.81 1433.98,756.91 1449.82,757 1465.66,757.1 1481.5,757.2 1497.34,757.3 1513.18,757.4 1529.02,757.49 1544.86,757.59" fill="none" stroke="#EC9F34" stroke-width="3.2" stroke-linejoin="round"/>
<rect x="1081.1" y="753.19" width="8.8" height="8.8" fill="#EE9F33"/>
<rect x="1096.94" y="752.73" width="8.8" height="8.8" fill="#EE9F33"/>
<rect x="1112.78" y="752.27" width="8.8" height="8.8" fill="#EE9F33"/>
<rect x="1128.62" y="751.81" width="8.8" height="8.8" fill="#EE9F33"/>
<rect x="1144.46" y="751.36" width="8.8" height="8.8" fill="#EE9F33"/>
<rect x="1160.3" y="750.91" width="8.8" height="8.8" fill="#EE9F33"/>
<rect x="1176.14" y="750.74" width="8.8" height="8.8" fill="#EE9F33"/>
<rect x="1191.98" y="750.58" width="8.8" height="8.8" fill="#EE9F33"/>
<rect x="1207.82" y="750.42" width="8.8" height="8.8" fill="#EE9F33"/>
<rect x="1223.66" y="750.26" width="8.8" height="8.8" fill="#EE9F33"/>
<rect x="1239.5" y="750.37" width="8.8" height="8.8" fill="#EE9F33"/>
<rect x="1255.34" y="750.48" width="8.8" height="8.8" fill="#EE9F33"/>
<rect x="1271.18" y="750.59" width="8.8" height="8.8" fill="#EE9F33"/>
<rect x="1287.02" y="750.92" width="8.8" height="8.8" fill="#EE9F33"/>
<rect x="1302.86" y="751.24" width="8.8" height="8.8" fill="#EE9F33"/>
<rect x="1318.7" y="751.56" width="8.8" height="8.8" fill="#EE9F33"/>
<rect x="1334.54" y="751.73" width="8.8" height="8.8" fill="#EE9F33"/>
<rect x="1350.38" y="751.89" width="8.8" height="8.8" fill="#EE9F33"/>
<rect x="1366.22" y="752.05" width="8.8" height="8.8" fill="#EE9F33"/>
<rect x="1382.06" y="752.21" width="8.8" height="8.8" fill="#EE9F33"/>
<rect x="1397.9" y="752.31" width="8.8" height="8.8" fill="#EE9F33"/>
<rect x="1413.74" y="752.41" width="8.8" height="8.8" fill="#EE9F33"/>
<rect x="1429.58" y="752.51" width="8.8" height="8.8" fill="#EE9F33"/>
<rect x="1445.42" y="752.6" width="8.8" height="8.8" fill="#EE9F33"/>
<rect x="1461.26" y="752.7" width="8.8" height="8.8" fill="#EE9F33"/>
<rect x="1477.1" y="752.8" width="8.8" height="8.8" fill="#EE9F33"/>
<rect x="1492.94" y="752.9" width="8.8" height="8.8" fill="#EE9F33"/>
<rect x="1508.78" y="753" width="8.8" height="8.8" fill="#EE9F33"/>
<rect x="1524.62" y="753.09" width="8.8" height="8.8" fill="#EE9F33"/>
<rect x="1540.46" y="753.19" width="8.8" height="8.8" fill="#EE9F33"/>
<line x1="82.7" y1="545.5" x2="82.7" y2="788.3" stroke="#000" stroke-width="2.5" stroke-linecap="butt"/>
<line x1="82.7" y1="795.4" x2="82.7" y2="915.8" stroke="#000" stroke-width="2.5" stroke-linecap="butt"/>
<line x1="75.2" y1="788.3" x2="90.2" y2="788.3" stroke="#000" stroke-width="2.8" stroke-linecap="butt"/>
<line x1="75.2" y1="795.4" x2="90.2" y2="795.4" stroke="#000" stroke-width="2.8" stroke-linecap="butt"/>
<line x1="71.7" y1="914.6" x2="596" y2="914.6" stroke="#000" stroke-width="2.5" stroke-linecap="butt"/>
<line x1="70.2" y1="754.3" x2="82.7" y2="754.3" stroke="#000" stroke-width="2.5" stroke-linecap="butt"/>
<text x="68" y="764.38" font-family="'Liberation Sans', Arial, sans-serif" font-size="28" font-weight="bold" fill="#000" text-anchor="end">3</text>
<line x1="70.2" y1="702.5" x2="82.7" y2="702.5" stroke="#000" stroke-width="2.5" stroke-linecap="butt"/>
<text x="68" y="712.58" font-family="'Liberation Sans', Arial, sans-serif" font-size="28" font-weight="bold" fill="#000" text-anchor="end">6</text>
<line x1="70.2" y1="650.5" x2="82.7" y2="650.5" stroke="#000" stroke-width="2.5" stroke-linecap="butt"/>
<text x="68" y="660.58" font-family="'Liberation Sans', Arial, sans-serif" font-size="28" font-weight="bold" fill="#000" text-anchor="end">9</text>
<line x1="70.2" y1="598.7" x2="82.7" y2="598.7" stroke="#000" stroke-width="2.5" stroke-linecap="butt"/>
<text x="68" y="608.78" font-family="'Liberation Sans', Arial, sans-serif" font-size="28" font-weight="bold" fill="#000" text-anchor="end">12</text>
<line x1="70.2" y1="546.7" x2="82.7" y2="546.7" stroke="#000" stroke-width="2.5" stroke-linecap="butt"/>
<text x="68" y="556.78" font-family="'Liberation Sans', Arial, sans-serif" font-size="28" font-weight="bold" fill="#000" text-anchor="end">15</text>
<text x="68" y="924.68" font-family="'Liberation Sans', Arial, sans-serif" font-size="28" font-weight="bold" fill="#000" text-anchor="end">0</text>
<line x1="98.8" y1="914.6" x2="98.8" y2="925.9" stroke="#000" stroke-width="2.3" stroke-linecap="butt"/>
<line x1="115.3" y1="914.6" x2="115.3" y2="920.9" stroke="#000" stroke-width="2.3" stroke-linecap="butt"/>
<line x1="131.8" y1="914.6" x2="131.8" y2="920.9" stroke="#000" stroke-width="2.3" stroke-linecap="butt"/>
<line x1="148.3" y1="914.6" x2="148.3" y2="920.9" stroke="#000" stroke-width="2.3" stroke-linecap="butt"/>
<line x1="164.8" y1="914.6" x2="164.8" y2="920.9" stroke="#000" stroke-width="2.3" stroke-linecap="butt"/>
<line x1="181.3" y1="914.6" x2="181.3" y2="925.9" stroke="#000" stroke-width="2.3" stroke-linecap="butt"/>
<line x1="197.8" y1="914.6" x2="197.8" y2="920.9" stroke="#000" stroke-width="2.3" stroke-linecap="butt"/>
<line x1="214.3" y1="914.6" x2="214.3" y2="920.9" stroke="#000" stroke-width="2.3" stroke-linecap="butt"/>
<line x1="230.8" y1="914.6" x2="230.8" y2="920.9" stroke="#000" stroke-width="2.3" stroke-linecap="butt"/>
<line x1="247.3" y1="914.6" x2="247.3" y2="920.9" stroke="#000" stroke-width="2.3" stroke-linecap="butt"/>
<line x1="263.8" y1="914.6" x2="263.8" y2="925.9" stroke="#000" stroke-width="2.3" stroke-linecap="butt"/>
<line x1="280.3" y1="914.6" x2="280.3" y2="920.9" stroke="#000" stroke-width="2.3" stroke-linecap="butt"/>
<line x1="296.8" y1="914.6" x2="296.8" y2="920.9" stroke="#000" stroke-width="2.3" stroke-linecap="butt"/>
<line x1="313.3" y1="914.6" x2="313.3" y2="920.9" stroke="#000" stroke-width="2.3" stroke-linecap="butt"/>
<line x1="329.8" y1="914.6" x2="329.8" y2="920.9" stroke="#000" stroke-width="2.3" stroke-linecap="butt"/>
<line x1="346.3" y1="914.6" x2="346.3" y2="925.9" stroke="#000" stroke-width="2.3" stroke-linecap="butt"/>
<line x1="362.8" y1="914.6" x2="362.8" y2="920.9" stroke="#000" stroke-width="2.3" stroke-linecap="butt"/>
<line x1="379.3" y1="914.6" x2="379.3" y2="920.9" stroke="#000" stroke-width="2.3" stroke-linecap="butt"/>
<line x1="395.8" y1="914.6" x2="395.8" y2="920.9" stroke="#000" stroke-width="2.3" stroke-linecap="butt"/>
<line x1="412.3" y1="914.6" x2="412.3" y2="920.9" stroke="#000" stroke-width="2.3" stroke-linecap="butt"/>
<line x1="428.8" y1="914.6" x2="428.8" y2="925.9" stroke="#000" stroke-width="2.3" stroke-linecap="butt"/>
<line x1="445.3" y1="914.6" x2="445.3" y2="920.9" stroke="#000" stroke-width="2.3" stroke-linecap="butt"/>
<line x1="461.8" y1="914.6" x2="461.8" y2="920.9" stroke="#000" stroke-width="2.3" stroke-linecap="butt"/>
<line x1="478.3" y1="914.6" x2="478.3" y2="920.9" stroke="#000" stroke-width="2.3" stroke-linecap="butt"/>
<line x1="494.8" y1="914.6" x2="494.8" y2="920.9" stroke="#000" stroke-width="2.3" stroke-linecap="butt"/>
<line x1="511.3" y1="914.6" x2="511.3" y2="925.9" stroke="#000" stroke-width="2.3" stroke-linecap="butt"/>
<line x1="527.8" y1="914.6" x2="527.8" y2="920.9" stroke="#000" stroke-width="2.3" stroke-linecap="butt"/>
<line x1="544.3" y1="914.6" x2="544.3" y2="920.9" stroke="#000" stroke-width="2.3" stroke-linecap="butt"/>
<line x1="560.8" y1="914.6" x2="560.8" y2="920.9" stroke="#000" stroke-width="2.3" stroke-linecap="butt"/>
<line x1="577.3" y1="914.6" x2="577.3" y2="925.9" stroke="#000" stroke-width="2.3" stroke-linecap="butt"/>
<line x1="594.8" y1="914.6" x2="594.8" y2="925.9" stroke="#000" stroke-width="2.3" stroke-linecap="butt"/>
<line x1="1069.2" y1="554.4" x2="1069.2" y2="788.5" stroke="#000" stroke-width="2.5" stroke-linecap="butt"/>
<line x1="1069.2" y1="796.5" x2="1069.2" y2="921.5" stroke="#000" stroke-width="2.5" stroke-linecap="butt"/>
<line x1="1061.7" y1="788.5" x2="1076.7" y2="788.5" stroke="#000" stroke-width="2.8" stroke-linecap="butt"/>
<line x1="1061.7" y1="796.5" x2="1076.7" y2="796.5" stroke="#000" stroke-width="2.8" stroke-linecap="butt"/>
<line x1="1058.2" y1="920.3" x2="1562.6" y2="920.3" stroke="#000" stroke-width="2.5" stroke-linecap="butt"/>
<line x1="1056.7" y1="714.6" x2="1069.2" y2="714.6" stroke="#000" stroke-width="2.5" stroke-linecap="butt"/>
<text x="1054.5" y="724.68" font-family="'Liberation Sans', Arial, sans-serif" font-size="28" font-weight="bold" fill="#000" text-anchor="end">3</text>
<line x1="1056.7" y1="635.4" x2="1069.2" y2="635.4" stroke="#000" stroke-width="2.5" stroke-linecap="butt"/>
<text x="1054.5" y="645.48" font-family="'Liberation Sans', Arial, sans-serif" font-size="28" font-weight="bold" fill="#000" text-anchor="end">6</text>
<line x1="1056.7" y1="555.6" x2="1069.2" y2="555.6" stroke="#000" stroke-width="2.5" stroke-linecap="butt"/>
<text x="1054.5" y="565.68" font-family="'Liberation Sans', Arial, sans-serif" font-size="28" font-weight="bold" fill="#000" text-anchor="end">9</text>
<text x="1054.5" y="930.38" font-family="'Liberation Sans', Arial, sans-serif" font-size="28" font-weight="bold" fill="#000" text-anchor="end">0</text>
<line x1="1085.5" y1="920.3" x2="1085.5" y2="931.6" stroke="#000" stroke-width="2.3" stroke-linecap="butt"/>
<line x1="1101.34" y1="920.3" x2="1101.34" y2="926.6" stroke="#000" stroke-width="2.3" stroke-linecap="butt"/>
<line x1="1117.18" y1="920.3" x2="1117.18" y2="926.6" stroke="#000" stroke-width="2.3" stroke-linecap="butt"/>
<line x1="1133.02" y1="920.3" x2="1133.02" y2="926.6" stroke="#000" stroke-width="2.3" stroke-linecap="butt"/>
<line x1="1148.86" y1="920.3" x2="1148.86" y2="926.6" stroke="#000" stroke-width="2.3" stroke-linecap="butt"/>
<line x1="1164.7" y1="920.3" x2="1164.7" y2="931.6" stroke="#000" stroke-width="2.3" stroke-linecap="butt"/>
<line x1="1180.54" y1="920.3" x2="1180.54" y2="926.6" stroke="#000" stroke-width="2.3" stroke-linecap="butt"/>
<line x1="1196.38" y1="920.3" x2="1196.38" y2="926.6" stroke="#000" stroke-width="2.3" stroke-linecap="butt"/>
<line x1="1212.22" y1="920.3" x2="1212.22" y2="926.6" stroke="#000" stroke-width="2.3" stroke-linecap="butt"/>
<line x1="1228.06" y1="920.3" x2="1228.06" y2="926.6" stroke="#000" stroke-width="2.3" stroke-linecap="butt"/>
<line x1="1243.9" y1="920.3" x2="1243.9" y2="931.6" stroke="#000" stroke-width="2.3" stroke-linecap="butt"/>
<line x1="1259.74" y1="920.3" x2="1259.74" y2="926.6" stroke="#000" stroke-width="2.3" stroke-linecap="butt"/>
<line x1="1275.58" y1="920.3" x2="1275.58" y2="926.6" stroke="#000" stroke-width="2.3" stroke-linecap="butt"/>
<line x1="1291.42" y1="920.3" x2="1291.42" y2="926.6" stroke="#000" stroke-width="2.3" stroke-linecap="butt"/>
<line x1="1307.26" y1="920.3" x2="1307.26" y2="926.6" stroke="#000" stroke-width="2.3" stroke-linecap="butt"/>
<line x1="1323.1" y1="920.3" x2="1323.1" y2="931.6" stroke="#000" stroke-width="2.3" stroke-linecap="butt"/>
<line x1="1338.94" y1="920.3" x2="1338.94" y2="926.6" stroke="#000" stroke-width="2.3" stroke-linecap="butt"/>
<line x1="1354.78" y1="920.3" x2="1354.78" y2="926.6" stroke="#000" stroke-width="2.3" stroke-linecap="butt"/>
<line x1="1370.62" y1="920.3" x2="1370.62" y2="926.6" stroke="#000" stroke-width="2.3" stroke-linecap="butt"/>
<line x1="1386.46" y1="920.3" x2="1386.46" y2="926.6" stroke="#000" stroke-width="2.3" stroke-linecap="butt"/>
<line x1="1402.3" y1="920.3" x2="1402.3" y2="931.6" stroke="#000" stroke-width="2.3" stroke-linecap="butt"/>
<line x1="1418.14" y1="920.3" x2="1418.14" y2="926.6" stroke="#000" stroke-width="2.3" stroke-linecap="butt"/>
<line x1="1433.98" y1="920.3" x2="1433.98" y2="926.6" stroke="#000" stroke-width="2.3" stroke-linecap="butt"/>
<line x1="1449.82" y1="920.3" x2="1449.82" y2="926.6" stroke="#000" stroke-width="2.3" stroke-linecap="butt"/>
<line x1="1465.66" y1="920.3" x2="1465.66" y2="926.6" stroke="#000" stroke-width="2.3" stroke-linecap="butt"/>
<line x1="1481.5" y1="920.3" x2="1481.5" y2="931.6" stroke="#000" stroke-width="2.3" stroke-linecap="butt"/>
<line x1="1497.34" y1="920.3" x2="1497.34" y2="926.6" stroke="#000" stroke-width="2.3" stroke-linecap="butt"/>
<line x1="1513.18" y1="920.3" x2="1513.18" y2="926.6" stroke="#000" stroke-width="2.3" stroke-linecap="butt"/>
<line x1="1529.02" y1="920.3" x2="1529.02" y2="926.6" stroke="#000" stroke-width="2.3" stroke-linecap="butt"/>
<line x1="1544.86" y1="920.3" x2="1544.86" y2="931.6" stroke="#000" stroke-width="2.3" stroke-linecap="butt"/>
<line x1="1561.4" y1="920.3" x2="1561.4" y2="931.6" stroke="#000" stroke-width="2.3" stroke-linecap="butt"/>
<text x="0" y="0" font-family="'Liberation Sans', Arial, sans-serif" font-size="26.3" font-weight="bold" fill="#000" text-anchor="end" transform="translate(107.6 949.9) rotate(-45)">1990</text>
<text x="0" y="0" font-family="'Liberation Sans', Arial, sans-serif" font-size="26.3" font-weight="bold" fill="#000" text-anchor="end" transform="translate(1094.3 955.6) rotate(-45)">1990</text>
<text x="0" y="0" font-family="'Liberation Sans', Arial, sans-serif" font-size="26.3" font-weight="bold" fill="#000" text-anchor="end" transform="translate(190.1 949.9) rotate(-45)">1995</text>
<text x="0" y="0" font-family="'Liberation Sans', Arial, sans-serif" font-size="26.3" font-weight="bold" fill="#000" text-anchor="end" transform="translate(1173.5 955.6) rotate(-45)">1995</text>
<text x="0" y="0" font-family="'Liberation Sans', Arial, sans-serif" font-size="26.3" font-weight="bold" fill="#000" text-anchor="end" transform="translate(272.6 949.9) rotate(-45)">2000</text>
<text x="0" y="0" font-family="'Liberation Sans', Arial, sans-serif" font-size="26.3" font-weight="bold" fill="#000" text-anchor="end" transform="translate(1252.7 955.6) rotate(-45)">2000</text>
<text x="0" y="0" font-family="'Liberation Sans', Arial, sans-serif" font-size="26.3" font-weight="bold" fill="#000" text-anchor="end" transform="translate(355.1 949.9) rotate(-45)">2005</text>
<text x="0" y="0" font-family="'Liberation Sans', Arial, sans-serif" font-size="26.3" font-weight="bold" fill="#000" text-anchor="end" transform="translate(1331.9 955.6) rotate(-45)">2005</text>
<text x="0" y="0" font-family="'Liberation Sans', Arial, sans-serif" font-size="26.3" font-weight="bold" fill="#000" text-anchor="end" transform="translate(437.6 949.9) rotate(-45)">2010</text>
<text x="0" y="0" font-family="'Liberation Sans', Arial, sans-serif" font-size="26.3" font-weight="bold" fill="#000" text-anchor="end" transform="translate(1411.1 955.6) rotate(-45)">2010</text>
<text x="0" y="0" font-family="'Liberation Sans', Arial, sans-serif" font-size="26.3" font-weight="bold" fill="#000" text-anchor="end" transform="translate(520.1 949.9) rotate(-45)">2015</text>
<text x="0" y="0" font-family="'Liberation Sans', Arial, sans-serif" font-size="26.3" font-weight="bold" fill="#000" text-anchor="end" transform="translate(1490.3 955.6) rotate(-45)">2015</text>
<text x="0" y="0" font-family="'Liberation Sans', Arial, sans-serif" font-size="31.8" font-weight="bold" fill="#000" text-anchor="end" transform="translate(584.8 953.1) rotate(-45)">2019</text>
<text x="0" y="0" font-family="'Liberation Sans', Arial, sans-serif" font-size="30.5" font-weight="bold" fill="#000" text-anchor="end" transform="translate(1552.4 958.3) rotate(-45)">2019</text>
<text x="338" y="1028.4" font-family="'Liberation Sans', Arial, sans-serif" font-size="26.5" font-weight="bold" fill="#000" text-anchor="middle">year</text>
<text x="1315.5" y="1031" font-family="'Liberation Sans', Arial, sans-serif" font-size="26" font-weight="bold" fill="#000" text-anchor="middle">year</text>
<text x="0" y="0" font-family="'Liberation Sans', Arial, sans-serif" font-size="27.6" font-weight="bold" fill="#000" text-anchor="middle" transform="translate(20.8 731) rotate(-90)">ASIR (per 100,000 population)</text>
<text x="0" y="0" font-family="'Liberation Sans', Arial, sans-serif" font-size="26.7" font-weight="bold" fill="#000" text-anchor="middle" transform="translate(1025 738.5) rotate(-90)">ASDR (per 100,000 population)</text>
<line x1="444.3" y1="497.7" x2="473.3" y2="497.7" stroke="#D8312F" stroke-width="3.6" stroke-linecap="butt"/>
<circle cx="458.8" cy="497.7" r="4.29" fill="#F20F12"/>
<text x="490.7" y="507.37" font-family="'Liberation Sans', Arial, sans-serif" font-size="27" font-weight="bold" fill="#000" text-anchor="start">Leukemia</text>
<line x1="444.3" y1="536.2" x2="473.3" y2="536.2" stroke="#EC9F34" stroke-width="3.6" stroke-linecap="butt"/>
<rect x="454.4" y="531.8" width="8.8" height="8.8" fill="#EE9F33"/>
<text x="490.7" y="545.87" font-family="'Liberation Sans', Arial, sans-serif" font-size="27" font-weight="bold" fill="#000" text-anchor="start">Multiple myeloma</text>
<line x1="442.3" y1="575" x2="471.3" y2="575" stroke="#3C8FC6" stroke-width="3.6" stroke-linecap="butt"/>
<polygon points="456.8,569.94 461.86,578.79 451.74,578.79" fill="#3B91C9" stroke="none" stroke-width="0"/>
<text x="488.7" y="584.67" font-family="'Liberation Sans', Arial, sans-serif" font-size="27" font-weight="bold" fill="#000" text-anchor="start">Non-Hodgkin lymphoma</text>
<line x1="444.3" y1="613.6" x2="473.3" y2="613.6" stroke="#4EB24E" stroke-width="3.6" stroke-linecap="butt"/>
<polygon points="458.8,609.42 462.35,613.6 458.8,617.78 455.25,613.6" fill="#4CB34C" stroke="none" stroke-width="0"/>
<text x="490.7" y="623.27" font-family="'Liberation Sans', Arial, sans-serif" font-size="27" font-weight="bold" fill="#000" text-anchor="start">Hodgkin lymphoma</text>
<line x1="1429.8" y1="512.3" x2="1459" y2="512.3" stroke="#D8312F" stroke-width="3.6" stroke-linecap="butt"/>
<circle cx="1444.4" cy="512.3" r="4.29" fill="#F20F12"/>
<text x="1476" y="521.61" font-family="'Liberation Sans', Arial, sans-serif" font-size="26" font-weight="bold" fill="#000" text-anchor="start">Leukemia</text>
<line x1="1429.8" y1="550.1" x2="1459" y2="550.1" stroke="#EC9F34" stroke-width="3.6" stroke-linecap="butt"/>
<rect x="1440" y="545.7" width="8.8" height="8.8" fill="#EE9F33"/>
<text x="1476" y="559.41" font-family="'Liberation Sans', Arial, sans-serif" font-size="26" font-weight="bold" fill="#000" text-anchor="start">Multiple myeloma</text>
<line x1="1428.3" y1="587.2" x2="1457.5" y2="587.2" stroke="#3C8FC6" stroke-width="3.6" stroke-linecap="butt"/>
<polygon points="1442.9,582.14 1447.96,591 1437.84,591" fill="#3B91C9" stroke="none" stroke-width="0"/>
<text x="1474.5" y="596.51" font-family="'Liberation Sans', Arial, sans-serif" font-size="26" font-weight="bold" fill="#000" text-anchor="start">Non-Hodgkin lymphoma</text>
<line x1="1429.8" y1="625" x2="1459" y2="625" stroke="#4EB24E" stroke-width="3.6" stroke-linecap="butt"/>
<polygon points="1444.4,620.82 1447.95,625 1444.4,629.18 1440.85,625" fill="#4CB34C" stroke="none" stroke-width="0"/>
<text x="1476" y="634.31" font-family="'Liberation Sans', Arial, sans-serif" font-size="26" font-weight="bold" fill="#000" text-anchor="start">Hodgkin lymphoma</text>
<polygon points="100.3,827.4 132,827.4 163.4,867.7 132,908 100.3,908" fill="none" stroke="#7B7B7B" stroke-width="2.3" stroke-linejoin="miter"/>
<text x="105.2" y="842.8" font-family="'Liberation Serif', 'Times New Roman', serif" font-size="12.5" font-weight="bold" fill="#111" text-anchor="start" textLength="27.1" lengthAdjust="spacingAndGlyphs">FISH</text>
<text x="105.2" y="857.4" font-family="'Liberation Serif', 'Times New Roman', serif" font-size="12.5" font-weight="bold" fill="#111" text-anchor="start" textLength="24.2" lengthAdjust="spacingAndGlyphs">PCR</text>
<text x="105.2" y="871.7" font-family="'Liberation Serif', 'Times New Roman', serif" font-size="12.5" font-weight="bold" fill="#111" text-anchor="start" textLength="35.1" lengthAdjust="spacingAndGlyphs">ELISA</text>
<text x="105.2" y="885.8" font-family="'Liberation Serif', 'Times New Roman', serif" font-size="12.5" font-weight="bold" fill="#111" text-anchor="start" textLength="26.5" lengthAdjust="spacingAndGlyphs">FCM</text>
<text x="105.2" y="900.4" font-family="'Liberation Serif', 'Times New Roman', serif" font-size="12.5" font-weight="bold" fill="#111" text-anchor="start" textLength="22.5" lengthAdjust="spacingAndGlyphs">IHC</text>
<polygon points="248.1,793.9 326.2,793.9 337.4,804.8 326.2,815.7 248.1,815.7" fill="none" stroke="#EE1D23" stroke-width="2.3" stroke-linejoin="miter"/>
<text x="255.4" y="809.8" font-family="'Liberation Serif', 'Times New Roman', serif" font-size="12.5" font-weight="bold" fill="#111" text-anchor="start" textLength="62.8" lengthAdjust="spacingAndGlyphs">WHO(1999)</text>
<polygon points="392,794.2 469.7,794.2 480.4,804.9 469.7,815.6 392,815.6" fill="none" stroke="#EE1D23" stroke-width="2.3" stroke-linejoin="miter"/>
<text x="399.1" y="809.9" font-family="'Liberation Serif', 'Times New Roman', serif" font-size="12.5" font-weight="bold" fill="#111" text-anchor="start" textLength="62" lengthAdjust="spacingAndGlyphs">WHO(2008)</text>
<polygon points="527.4,794.2 605.3,794.2 615.7,804.9 605.3,815.6 527.4,815.6" fill="none" stroke="#EE1D23" stroke-width="2.3" stroke-linejoin="miter"/>
<text x="534.5" y="809.9" font-family="'Liberation Serif', 'Times New Roman', serif" font-size="12.5" font-weight="bold" fill="#111" text-anchor="start" textLength="61.3" lengthAdjust="spacingAndGlyphs">WHO(2016)</text>
<polygon points="309,819.9 387,819.9 397.7,830.55 387,841.2 309,841.2" fill="none" stroke="#F0A02F" stroke-width="2.3" stroke-linejoin="miter"/>
<text x="315.6" y="835.55" font-family="'Liberation Serif', 'Times New Roman', serif" font-size="12.5" font-weight="bold" fill="#111" text-anchor="start" textLength="69.4" lengthAdjust="spacingAndGlyphs">IMWG(2003)</text>
<polygon points="493.6,819.9 570.8,819.9 581.5,830.55 570.8,841.2 493.6,841.2" fill="none" stroke="#F0A02F" stroke-width="2.3" stroke-linejoin="miter"/>
<text x="500.3" y="835.55" font-family="'Liberation Serif', 'Times New Roman', serif" font-size="12.5" font-weight="bold" fill="#111" text-anchor="start" textLength="69.1" lengthAdjust="spacingAndGlyphs">IMWG(2014)</text>
<polygon points="166.1,845.1 244.1,845.1 255.4,856.1 244.1,867.1 166.1,867.1" fill="none" stroke="url(#bg)" stroke-width="2.3" stroke-linejoin="miter"/>
<text x="172.7" y="861.1" font-family="'Liberation Serif', 'Times New Roman', serif" font-size="12.5" font-weight="bold" fill="#111" text-anchor="start" textLength="65.2" lengthAdjust="spacingAndGlyphs">REAL(1994)</text>
<polygon points="278.5,845.1 355.7,845.1 367.1,856.1 355.7,867.1 278.5,867.1" fill="none" stroke="url(#bg)" stroke-width="2.3" stroke-linejoin="miter"/>
<text x="285.8" y="861.1" font-family="'Liberation Serif', 'Times New Roman', serif" font-size="12.5" font-weight="bold" fill="#111" text-anchor="start" textLength="61.5" lengthAdjust="spacingAndGlyphs">WHO(2001)</text>
<polygon points="264.9,871.6 315,871.6 332.8,889 315,906.4 264.9,906.4" fill="none" stroke="#7B7B7B" stroke-width="2.3" stroke-linejoin="miter"/>
<text x="271.9" y="886.5" font-family="'Liberation Serif', 'Times New Roman', serif" font-size="12.5" font-weight="bold" fill="#111" text-anchor="start" textLength="34.4" lengthAdjust="spacingAndGlyphs">mPCR</text>
<text x="271.9" y="900.4" font-family="'Liberation Serif', 'Times New Roman', serif" font-size="12.5" font-weight="bold" fill="#111" text-anchor="start" textLength="23.8" lengthAdjust="spacingAndGlyphs">NGS</text>
<polygon points="429.5,871.9 479.6,871.9 496.7,888.8 479.6,905.7 429.5,905.7" fill="none" stroke="#7B7B7B" stroke-width="2.3" stroke-linejoin="miter"/>
<text x="436.6" y="886.6" font-family="'Liberation Serif', 'Times New Roman', serif" font-size="12.5" font-weight="bold" fill="#111" text-anchor="start" textLength="17.4" lengthAdjust="spacingAndGlyphs">MS</text>
<text x="436.6" y="900.8" font-family="'Liberation Serif', 'Times New Roman', serif" font-size="12.5" font-weight="bold" fill="#111" text-anchor="start" textLength="33.8" lengthAdjust="spacingAndGlyphs">ctDNA</text>
<polygon points="1258.1,792.7 1305.5,792.7 1316.1,803.05 1305.5,813.4 1258.1,813.4" fill="none" stroke="#EE1D23" stroke-width="2.3" stroke-linejoin="miter"/>
<text x="1264.2" y="808.05" font-family="'Liberation Serif', 'Times New Roman', serif" font-size="12.5" font-weight="bold" fill="#111" text-anchor="start" textLength="43.3" lengthAdjust="spacingAndGlyphs">Imatinib</text>
<polygon points="1336.8,792.7 1389.7,792.7 1400.3,803.05 1389.7,813.4 1336.8,813.4" fill="none" stroke="#EE1D23" stroke-width="2.3" stroke-linejoin="miter"/>
<text x="1342.1" y="808.05" font-family="'Liberation Serif', 'Times New Roman', serif" font-size="12.5" font-weight="bold" fill="#111" text-anchor="start" textLength="49" lengthAdjust="spacingAndGlyphs">Dasatinib</text>
<polygon points="1434.5,792.7 1487,792.7 1496.9,803.05 1487,813.4 1434.5,813.4" fill="none" stroke="#EE1D23" stroke-width="2.3" stroke-linejoin="miter"/>
<text x="1440" y="808.05" font-family="'Liberation Serif', 'Times New Roman', serif" font-size="12.5" font-weight="bold" fill="#111" text-anchor="start" textLength="48.3" lengthAdjust="spacingAndGlyphs">Ponatinib</text>
<polygon points="1498.2,792.8 1571.6,792.8 1597.4,817.8 1571.6,842.8 1498.2,842.8" fill="none" stroke="#EE1D23" stroke-width="2.3" stroke-linejoin="miter"/>
<text x="1504.2" y="807.8" font-family="'Liberation Serif', 'Times New Roman', serif" font-size="12.5" font-weight="bold" fill="#111" text-anchor="start" textLength="54.9" lengthAdjust="spacingAndGlyphs">Venetoclax</text>
<text x="1504.2" y="821.7" font-family="'Liberation Serif', 'Times New Roman', serif" font-size="12.5" font-weight="bold" fill="#111" text-anchor="start" textLength="74.7" lengthAdjust="spacingAndGlyphs">Blinatumomab</text>
<text x="1504.2" y="836.6" font-family="'Liberation Serif', 'Times New Roman', serif" font-size="12.5" font-weight="bold" fill="#111" text-anchor="start" textLength="62.2" lengthAdjust="spacingAndGlyphs">Midostaurin</text>
<polygon points="1076,822.4 1133.5,822.4 1144.1,832.7 1133.5,843 1076,843" fill="none" stroke="#F0A02F" stroke-width="2.3" stroke-linejoin="miter"/>
<text x="1081.2" y="837.7" font-family="'Liberation Serif', 'Times New Roman', serif" font-size="12.5" font-weight="bold" fill="#111" text-anchor="start" textLength="54.3" lengthAdjust="spacingAndGlyphs">Melphalan</text>
<polygon points="1209.2,822.4 1275.7,822.4 1285.9,832.7 1275.7,843 1209.2,843" fill="none" stroke="#F0A02F" stroke-width="2.3" stroke-linejoin="miter"/>
<text x="1213.6" y="837.7" font-family="'Liberation Serif', 'Times New Roman', serif" font-size="12.5" font-weight="bold" fill="#111" text-anchor="start" textLength="65.2" lengthAdjust="spacingAndGlyphs">Thalidomide</text>
<polygon points="1290.1,822.4 1356.7,822.4 1367.2,832.5 1356.7,842.6 1290.1,842.6" fill="none" stroke="#F0A02F" stroke-width="2.3" stroke-linejoin="miter"/>
<text x="1295.8" y="837.5" font-family="'Liberation Serif', 'Times New Roman', serif" font-size="12.5" font-weight="bold" fill="#111" text-anchor="start" textLength="58.2" lengthAdjust="spacingAndGlyphs">Bortezomib</text>
<polygon points="1076,846.8 1120,846.8 1130.6,857.25 1120,867.7 1076,867.7" fill="none" stroke="#2FA2CF" stroke-width="2.3" stroke-linejoin="miter"/>
<text x="1080.6" y="862.25" font-family="'Liberation Serif', 'Times New Roman', serif" font-size="12.5" font-weight="bold" fill="#111" text-anchor="start" textLength="34.4" lengthAdjust="spacingAndGlyphs">CHOP</text>
<polygon points="1195.4,845.9 1253,845.9 1263.4,856.25 1253,866.6 1195.4,866.6" fill="none" stroke="#2FA2CF" stroke-width="2.3" stroke-linejoin="miter"/>
<text x="1200.3" y="861.25" font-family="'Liberation Serif', 'Times New Roman', serif" font-size="12.5" font-weight="bold" fill="#111" text-anchor="start" textLength="53.6" lengthAdjust="spacingAndGlyphs">Rituximab</text>
<polygon points="1275.7,846.8 1320,846.8 1337.5,864.05 1320,881.3 1275.7,881.3" fill="none" stroke="#2FA2CF" stroke-width="2.3" stroke-linejoin="miter"/>
<text x="1281.4" y="860.4" font-family="'Liberation Serif', 'Times New Roman', serif" font-size="12.5" font-weight="bold" fill="#111" text-anchor="start" textLength="37.3" lengthAdjust="spacingAndGlyphs">Zevalin</text>
<text x="1281.4" y="873.9" font-family="'Liberation Serif', 'Times New Roman', serif" font-size="12.5" font-weight="bold" fill="#111" text-anchor="start" textLength="35.7" lengthAdjust="spacingAndGlyphs">Bexxar</text>
<polygon points="1338.1,846.1 1410.9,846.1 1421.9,856.35 1410.9,866.6 1338.1,866.6" fill="none" stroke="#F0A02F" stroke-width="2.3" stroke-linejoin="miter"/>
<text x="1342.1" y="861.35" font-family="'Liberation Serif', 'Times New Roman', serif" font-size="12.5" font-weight="bold" fill="#111" text-anchor="start" textLength="70.1" lengthAdjust="spacingAndGlyphs">Lenalidomide</text>
<polygon points="1434.5,846.1 1508.8,846.1 1519.4,856.35 1508.8,866.6 1434.5,866.6" fill="none" stroke="#F0A02F" stroke-width="2.3" stroke-linejoin="miter"/>
<text x="1439.6" y="861.35" font-family="'Liberation Serif', 'Times New Roman', serif" font-size="12.5" font-weight="bold" fill="#111" text-anchor="start" textLength="61.7" lengthAdjust="spacingAndGlyphs">Carfilzomib</text>
<polygon points="1322.9,880.3 1379.8,880.3 1390.7,890.75 1379.8,901.2 1322.9,901.2" fill="none" stroke="#2FA2CF" stroke-width="2.3" stroke-linejoin="miter"/>
<text x="1328.2" y="895.75" font-family="'Liberation Serif', 'Times New Roman', serif" font-size="12.5" font-weight="bold" fill="#111" text-anchor="start" textLength="45.7" lengthAdjust="spacingAndGlyphs">Revlimid</text>
<polygon points="1466.5,869.7 1526.7,869.7 1535.3,877.75 1526.7,885.8 1466.5,885.8" fill="none" stroke="#2FA2CF" stroke-width="2.3" stroke-linejoin="miter"/>
<text x="1472.4" y="882.75" font-family="'Liberation Serif', 'Times New Roman', serif" font-size="12.5" font-weight="bold" fill="#111" text-anchor="start" textLength="46.3" lengthAdjust="spacingAndGlyphs">Idelalisib</text>
<polygon points="1416.2,895.5 1489,895.5 1498.9,905.9 1489,916.3 1416.2,916.3" fill="none" stroke="#4DB04D" stroke-width="2.3" stroke-linejoin="miter"/>
<text x="1423.5" y="910.9" font-family="'Liberation Serif', 'Times New Roman', serif" font-size="12.5" font-weight="bold" fill="#111" text-anchor="start" textLength="67.5" lengthAdjust="spacingAndGlyphs">Brentuximab</text>
<polygon points="1501.1,889.8 1593.5,889.8 1608.3,904.05 1593.5,918.3 1501.1,918.3" fill="none" stroke="#4DB04D" stroke-width="2.3" stroke-linejoin="miter"/>
<text x="1506.2" y="901.7" font-family="'Liberation Serif', 'Times New Roman', serif" font-size="12.5" font-weight="bold" fill="#111" text-anchor="start" textLength="56.9" lengthAdjust="spacingAndGlyphs">Nivolumab</text>
<text x="1506.2" y="915.6" font-family="'Liberation Serif', 'Times New Roman', serif" font-size="12.5" font-weight="bold" fill="#111" text-anchor="start" textLength="81.3" lengthAdjust="spacingAndGlyphs">Pembrolizumab</text>
<line x1="658.8" y1="684.7" x2="658.8" y2="925.3" stroke="#000" stroke-width="2.5" stroke-linecap="butt"/>
<line x1="657.6" y1="924.1" x2="957.7" y2="924.1" stroke="#000" stroke-width="2.5" stroke-linecap="butt"/>
<line x1="807.4" y1="685.7" x2="807.4" y2="924.1" stroke="#000" stroke-width="2.5" stroke-linecap="butt"/>
<line x1="658.8" y1="924.1" x2="658.8" y2="935.1" stroke="#000" stroke-width="2.5" stroke-linecap="butt"/>
<text x="658.8" y="957.7" font-family="'Liberation Sans', Arial, sans-serif" font-size="21" font-weight="bold" fill="#000" text-anchor="middle">-1.0</text>
<line x1="732.6" y1="924.1" x2="732.6" y2="935.1" stroke="#000" stroke-width="2.5" stroke-linecap="butt"/>
<text x="732.6" y="957.7" font-family="'Liberation Sans', Arial, sans-serif" font-size="21" font-weight="bold" fill="#000" text-anchor="middle">-0.5</text>
<line x1="807.4" y1="924.1" x2="807.4" y2="935.1" stroke="#000" stroke-width="2.5" stroke-linecap="butt"/>
<text x="807.4" y="957.7" font-family="'Liberation Sans', Arial, sans-serif" font-size="21" font-weight="bold" fill="#000" text-anchor="middle">0.0</text>
<line x1="881.4" y1="924.1" x2="881.4" y2="935.1" stroke="#000" stroke-width="2.5" stroke-linecap="butt"/>
<text x="881.4" y="957.7" font-family="'Liberation Sans', Arial, sans-serif" font-size="21" font-weight="bold" fill="#000" text-anchor="middle">0.5</text>
<line x1="956.5" y1="924.1" x2="956.5" y2="935.1" stroke="#000" stroke-width="2.5" stroke-linecap="butt"/>
<text x="956.5" y="957.7" font-family="'Liberation Sans', Arial, sans-serif" font-size="21" font-weight="bold" fill="#000" text-anchor="middle">1.0</text>
<line x1="658.8" y1="722.4" x2="669.8" y2="722.4" stroke="#000" stroke-width="2.5" stroke-linecap="butt"/>
<text x="654.3" y="731.2" font-family="'Liberation Sans', Arial, sans-serif" font-size="23.5" font-weight="bold" fill="#D03D3A" text-anchor="end" textLength="55.5" lengthAdjust="spacingAndGlyphs">-0.68</text>
<line x1="658.8" y1="777.5" x2="669.8" y2="777.5" stroke="#000" stroke-width="2.5" stroke-linecap="butt"/>
<text x="654.3" y="786.3" font-family="'Liberation Sans', Arial, sans-serif" font-size="23.5" font-weight="bold" fill="#EAA23A" text-anchor="end" textLength="48" lengthAdjust="spacingAndGlyphs">0.25</text>
<line x1="658.8" y1="832" x2="669.8" y2="832" stroke="#000" stroke-width="2.5" stroke-linecap="butt"/>
<text x="654.3" y="840.8" font-family="'Liberation Sans', Arial, sans-serif" font-size="23.5" font-weight="bold" fill="#3FB1DA" text-anchor="end" textLength="48" lengthAdjust="spacingAndGlyphs">0.56</text>
<line x1="658.8" y1="887.4" x2="669.8" y2="887.4" stroke="#000" stroke-width="2.5" stroke-linecap="butt"/>
<text x="654.3" y="896.2" font-family="'Liberation Sans', Arial, sans-serif" font-size="23.5" font-weight="bold" fill="#5BB85C" text-anchor="end" textLength="55.5" lengthAdjust="spacingAndGlyphs">-0.47</text>
<rect x="706.4" y="704.6" width="101" height="36.7" fill="#D43F3A"/>
<line x1="706.4" y1="722.95" x2="696" y2="722.95" stroke="#D43F3A" stroke-width="4.5" stroke-linecap="butt"/>
<line x1="696" y1="714.45" x2="696" y2="731.45" stroke="#D43F3A" stroke-width="4.5" stroke-linecap="butt"/>
<rect x="807.4" y="759.7" width="37.3" height="36.7" fill="#EEA236"/>
<line x1="844.7" y1="778.05" x2="860.5" y2="778.05" stroke="#EEA236" stroke-width="4.5" stroke-linecap="butt"/>
<line x1="860.5" y1="769.55" x2="860.5" y2="786.55" stroke="#EEA236" stroke-width="4.5" stroke-linecap="butt"/>
<rect x="807.4" y="814.2" width="82.8" height="36.5" fill="#46B8DA"/>
<line x1="890.2" y1="832.45" x2="907.2" y2="832.45" stroke="#46B8DA" stroke-width="4.5" stroke-linecap="butt"/>
<line x1="907.2" y1="823.95" x2="907.2" y2="840.95" stroke="#46B8DA" stroke-width="4.5" stroke-linecap="butt"/>
<rect x="737.8" y="869.6" width="69.6" height="36.2" fill="#5CB85C"/>
<line x1="737.8" y1="887.7" x2="727.3" y2="887.7" stroke="#5CB85C" stroke-width="4.5" stroke-linecap="butt"/>
<line x1="727.3" y1="879.2" x2="727.3" y2="896.2" stroke="#5CB85C" stroke-width="4.5" stroke-linecap="butt"/>
<text x="808" y="988.8" font-family="'Liberation Sans', Arial, sans-serif" font-size="21" font-weight="bold" fill="#000" text-anchor="middle">EAPC</text>
<line x1="1663.5" y1="686.8" x2="1663.5" y2="926.6" stroke="#000" stroke-width="2.5" stroke-linecap="butt"/>
<line x1="1662.3" y1="925.4" x2="1963.2" y2="925.4" stroke="#000" stroke-width="2.5" stroke-linecap="butt"/>
<line x1="1876.1" y1="687.8" x2="1876.1" y2="925.4" stroke="#000" stroke-width="2.5" stroke-linecap="butt"/>
<line x1="1705.8" y1="925.4" x2="1705.8" y2="936.4" stroke="#000" stroke-width="2.5" stroke-linecap="butt"/>
<text x="1705.8" y="959" font-family="'Liberation Sans', Arial, sans-serif" font-size="21" font-weight="bold" fill="#000" text-anchor="middle">-2</text>
<line x1="1790.7" y1="925.4" x2="1790.7" y2="936.4" stroke="#000" stroke-width="2.5" stroke-linecap="butt"/>
<text x="1790.7" y="959" font-family="'Liberation Sans', Arial, sans-serif" font-size="21" font-weight="bold" fill="#000" text-anchor="middle">-1</text>
<line x1="1876.1" y1="925.4" x2="1876.1" y2="936.4" stroke="#000" stroke-width="2.5" stroke-linecap="butt"/>
<text x="1876.1" y="959" font-family="'Liberation Sans', Arial, sans-serif" font-size="21" font-weight="bold" fill="#000" text-anchor="middle">0</text>
<line x1="1961" y1="925.4" x2="1961" y2="936.4" stroke="#000" stroke-width="2.5" stroke-linecap="butt"/>
<text x="1961" y="959" font-family="'Liberation Sans', Arial, sans-serif" font-size="21" font-weight="bold" fill="#000" text-anchor="middle">1</text>
<line x1="1663.5" y1="724.9" x2="1674.5" y2="724.9" stroke="#000" stroke-width="2.5" stroke-linecap="butt"/>
<text x="1649.7" y="733.7" font-family="'Liberation Sans', Arial, sans-serif" font-size="23.5" font-weight="bold" fill="#D03D3A" text-anchor="end" textLength="48.5" lengthAdjust="spacingAndGlyphs">-1.15</text>
<line x1="1663.5" y1="779" x2="1674.5" y2="779" stroke="#000" stroke-width="2.5" stroke-linecap="butt"/>
<text x="1649.7" y="787.8" font-family="'Liberation Sans', Arial, sans-serif" font-size="23.5" font-weight="bold" fill="#EAA23A" text-anchor="end" textLength="48.5" lengthAdjust="spacingAndGlyphs">-0.07</text>
<line x1="1663.5" y1="834.2" x2="1674.5" y2="834.2" stroke="#000" stroke-width="2.5" stroke-linecap="butt"/>
<text x="1649.7" y="843" font-family="'Liberation Sans', Arial, sans-serif" font-size="23.5" font-weight="bold" fill="#3FB1DA" text-anchor="end" textLength="48.5" lengthAdjust="spacingAndGlyphs">-0.09</text>
<line x1="1663.5" y1="888.7" x2="1674.5" y2="888.7" stroke="#000" stroke-width="2.5" stroke-linecap="butt"/>
<text x="1649.7" y="897.5" font-family="'Liberation Sans', Arial, sans-serif" font-size="23.5" font-weight="bold" fill="#5BB85C" text-anchor="end" textLength="48.5" lengthAdjust="spacingAndGlyphs">-2.08</text>
<rect x="1699.5" y="707.3" width="176.6" height="36.1" fill="#D43F3A"/>
<line x1="1699.5" y1="725.35" x2="1690" y2="725.35" stroke="#D43F3A" stroke-width="4.5" stroke-linecap="butt"/>
<line x1="1690" y1="716.85" x2="1690" y2="733.85" stroke="#D43F3A" stroke-width="4.5" stroke-linecap="butt"/>
<rect x="1869.4" y="762.3" width="6.7" height="35.2" fill="#EEA236"/>
<line x1="1869.4" y1="779.9" x2="1861" y2="779.9" stroke="#EEA236" stroke-width="4.5" stroke-linecap="butt"/>
<line x1="1861" y1="771.4" x2="1861" y2="788.4" stroke="#EEA236" stroke-width="4.5" stroke-linecap="butt"/>
<rect x="1870.4" y="816.8" width="5.7" height="35.6" fill="#46B8DA"/>
<line x1="1870.4" y1="834.6" x2="1862.4" y2="834.6" stroke="#46B8DA" stroke-width="4.5" stroke-linecap="butt"/>
<line x1="1862.4" y1="826.1" x2="1862.4" y2="843.1" stroke="#46B8DA" stroke-width="4.5" stroke-linecap="butt"/>
<rect x="1778.2" y="871.3" width="97.9" height="36.1" fill="#5CB85C"/>
<line x1="1778.2" y1="889.35" x2="1773.5" y2="889.35" stroke="#5CB85C" stroke-width="4.5" stroke-linecap="butt"/>
<line x1="1773.5" y1="880.85" x2="1773.5" y2="897.85" stroke="#5CB85C" stroke-width="4.5" stroke-linecap="butt"/>
<text x="1812.8" y="990.5" font-family="'Liberation Sans', Arial, sans-serif" font-size="21" font-weight="bold" fill="#000" text-anchor="middle">EAPC</text>
<rect x="103" y="1101.7" width="579.7" height="27.8" fill="#D9D9D9"/>
<text x="392.85" y="1123.2" font-family="'Liberation Sans', Arial, sans-serif" font-size="20" font-weight="normal" fill="#1A1A1A" text-anchor="middle">Global</text>
<rect x="103" y="1129.5" width="579.7" height="358.3" fill="#EBEBEB"/>
<line x1="103" y1="1472" x2="682.7" y2="1472" stroke="#FFFFFF" stroke-width="1.1" stroke-linecap="butt"/>
<line x1="103" y1="1390.62" x2="682.7" y2="1390.62" stroke="#FFFFFF" stroke-width="1.1" stroke-linecap="butt"/>
<line x1="103" y1="1309.25" x2="682.7" y2="1309.25" stroke="#FFFFFF" stroke-width="1.1" stroke-linecap="butt"/>
<line x1="103" y1="1227.88" x2="682.7" y2="1227.88" stroke="#FFFFFF" stroke-width="1.1" stroke-linecap="butt"/>
<line x1="103" y1="1146.5" x2="682.7" y2="1146.5" stroke="#FFFFFF" stroke-width="1.1" stroke-linecap="butt"/>
<line x1="103" y1="1431.31" x2="682.7" y2="1431.31" stroke="#F5F5F5" stroke-width="0.5" stroke-linecap="butt"/>
<line x1="103" y1="1349.94" x2="682.7" y2="1349.94" stroke="#F5F5F5" stroke-width="0.5" stroke-linecap="butt"/>
<line x1="103" y1="1268.56" x2="682.7" y2="1268.56" stroke="#F5F5F5" stroke-width="0.5" stroke-linecap="butt"/>
<line x1="103" y1="1187.19" x2="682.7" y2="1187.19" stroke="#F5F5F5" stroke-width="0.5" stroke-linecap="butt"/>
<line x1="114.3" y1="1129.5" x2="114.3" y2="1487.8" stroke="#FFFFFF" stroke-width="1.1" stroke-linecap="butt"/>
<line x1="133.51" y1="1129.5" x2="133.51" y2="1487.8" stroke="#FFFFFF" stroke-width="1.1" stroke-linecap="butt"/>
<line x1="152.73" y1="1129.5" x2="152.73" y2="1487.8" stroke="#FFFFFF" stroke-width="1.1" stroke-linecap="butt"/>
<line x1="171.94" y1="1129.5" x2="171.94" y2="1487.8" stroke="#FFFFFF" stroke-width="1.1" stroke-linecap="butt"/>
<line x1="191.16" y1="1129.5" x2="191.16" y2="1487.8" stroke="#FFFFFF" stroke-width="1.1" stroke-linecap="butt"/>
<line x1="210.38" y1="1129.5" x2="210.38" y2="1487.8" stroke="#FFFFFF" stroke-width="1.1" stroke-linecap="butt"/>
<line x1="229.59" y1="1129.5" x2="229.59" y2="1487.8" stroke="#FFFFFF" stroke-width="1.1" stroke-linecap="butt"/>
<line x1="248.81" y1="1129.5" x2="248.81" y2="1487.8" stroke="#FFFFFF" stroke-width="1.1" stroke-linecap="butt"/>
<line x1="268.02" y1="1129.5" x2="268.02" y2="1487.8" stroke="#FFFFFF" stroke-width="1.1" stroke-linecap="butt"/>
<line x1="287.24" y1="1129.5" x2="287.24" y2="1487.8" stroke="#FFFFFF" stroke-width="1.1" stroke-linecap="butt"/>
<line x1="306.45" y1="1129.5" x2="306.45" y2="1487.8" stroke="#FFFFFF" stroke-width="1.1" stroke-linecap="butt"/>
<line x1="325.67" y1="1129.5" x2="325.67" y2="1487.8" stroke="#FFFFFF" stroke-width="1.1" stroke-linecap="butt"/>
<line x1="344.88" y1="1129.5" x2="344.88" y2="1487.8" stroke="#FFFFFF" stroke-width="1.1" stroke-linecap="butt"/>
<line x1="364.09" y1="1129.5" x2="364.09" y2="1487.8" stroke="#FFFFFF" stroke-width="1.1" stroke-linecap="butt"/>
<line x1="383.31" y1="1129.5" x2="383.31" y2="1487.8" stroke="#FFFFFF" stroke-width="1.1" stroke-linecap="butt"/>
<line x1="402.53" y1="1129.5" x2="402.53" y2="1487.8" stroke="#FFFFFF" stroke-width="1.1" stroke-linecap="butt"/>
<line x1="421.74" y1="1129.5" x2="421.74" y2="1487.8" stroke="#FFFFFF" stroke-width="1.1" stroke-linecap="butt"/>
<line x1="440.95" y1="1129.5" x2="440.95" y2="1487.8" stroke="#FFFFFF" stroke-width="1.1" stroke-linecap="butt"/>
<line x1="460.17" y1="1129.5" x2="460.17" y2="1487.8" stroke="#FFFFFF" stroke-width="1.1" stroke-linecap="butt"/>
<line x1="479.38" y1="1129.5" x2="479.38" y2="1487.8" stroke="#FFFFFF" stroke-width="1.1" stroke-linecap="butt"/>
<line x1="498.6" y1="1129.5" x2="498.6" y2="1487.8" stroke="#FFFFFF" stroke-width="1.1" stroke-linecap="butt"/>
<line x1="517.81" y1="1129.5" x2="517.81" y2="1487.8" stroke="#FFFFFF" stroke-width="1.1" stroke-linecap="butt"/>
<line x1="537.03" y1="1129.5" x2="537.03" y2="1487.8" stroke="#FFFFFF" stroke-width="1.1" stroke-linecap="butt"/>
<line x1="556.25" y1="1129.5" x2="556.25" y2="1487.8" stroke="#FFFFFF" stroke-width="1.1" stroke-linecap="butt"/>
<line x1="575.46" y1="1129.5" x2="575.46" y2="1487.8" stroke="#FFFFFF" stroke-width="1.1" stroke-linecap="butt"/>
<line x1="594.67" y1="1129.5" x2="594.67" y2="1487.8" stroke="#FFFFFF" stroke-width="1.1" stroke-linecap="butt"/>
<line x1="613.89" y1="1129.5" x2="613.89" y2="1487.8" stroke="#FFFFFF" stroke-width="1.1" stroke-linecap="butt"/>
<line x1="633.1" y1="1129.5" x2="633.1" y2="1487.8" stroke="#FFFFFF" stroke-width="1.1" stroke-linecap="butt"/>
<line x1="652.32" y1="1129.5" x2="652.32" y2="1487.8" stroke="#FFFFFF" stroke-width="1.1" stroke-linecap="butt"/>
<line x1="671.53" y1="1129.5" x2="671.53" y2="1487.8" stroke="#FFFFFF" stroke-width="1.1" stroke-linecap="butt"/>
<rect x="104.69" y="1146.5" width="576.45" height="325.5" fill="#F3F1F1"/>
<rect x="105.74" y="1447.56" width="17.11" height="24.74" fill="#46B8DA"/>
<rect x="105.74" y="1369.04" width="17.11" height="78.82" fill="#5CB85C"/>
<rect x="105.74" y="1342" width="17.11" height="27.34" fill="#EEA236"/>
<rect x="105.74" y="1146.5" width="17.11" height="195.8" fill="#D43F3A"/>
<text x="114.3" y="1463.98" font-family="'Liberation Sans', Arial, sans-serif" font-size="9.6" font-weight="normal" fill="#1A1A1A" text-anchor="middle" stroke="#1A1A1A" stroke-width="0.25">7.5</text>
<text x="114.3" y="1412.5" font-family="'Liberation Sans', Arial, sans-serif" font-size="9.6" font-weight="normal" fill="#1A1A1A" text-anchor="middle" stroke="#1A1A1A" stroke-width="0.25">24.1</text>
<text x="114.3" y="1359.72" font-family="'Liberation Sans', Arial, sans-serif" font-size="9.6" font-weight="normal" fill="#1A1A1A" text-anchor="middle" stroke="#1A1A1A" stroke-width="0.25">8.3</text>
<text x="114.3" y="1248.45" font-family="'Liberation Sans', Arial, sans-serif" font-size="9.6" font-weight="normal" fill="#1A1A1A" text-anchor="middle" stroke="#1A1A1A" stroke-width="0.25">60</text>
<rect x="124.96" y="1447.59" width="17.11" height="24.71" fill="#46B8DA"/>
<rect x="124.96" y="1367.51" width="17.11" height="80.37" fill="#5CB85C"/>
<rect x="124.96" y="1340.17" width="17.11" height="27.64" fill="#EEA236"/>
<rect x="124.96" y="1146.5" width="17.11" height="193.97" fill="#D43F3A"/>
<text x="133.51" y="1463.99" font-family="'Liberation Sans', Arial, sans-serif" font-size="9.6" font-weight="normal" fill="#1A1A1A" text-anchor="middle" stroke="#1A1A1A" stroke-width="0.25">7.5</text>
<text x="133.51" y="1411.75" font-family="'Liberation Sans', Arial, sans-serif" font-size="9.6" font-weight="normal" fill="#1A1A1A" text-anchor="middle" stroke="#1A1A1A" stroke-width="0.25">24.6</text>
<text x="133.51" y="1358.04" font-family="'Liberation Sans', Arial, sans-serif" font-size="9.6" font-weight="normal" fill="#1A1A1A" text-anchor="middle" stroke="#1A1A1A" stroke-width="0.25">8.4</text>
<text x="133.51" y="1247.54" font-family="'Liberation Sans', Arial, sans-serif" font-size="9.6" font-weight="normal" fill="#1A1A1A" text-anchor="middle" stroke="#1A1A1A" stroke-width="0.25">59.5</text>
<rect x="144.17" y="1447.61" width="17.11" height="24.69" fill="#46B8DA"/>
<rect x="144.17" y="1365.99" width="17.11" height="81.92" fill="#5CB85C"/>
<rect x="144.17" y="1338.03" width="17.11" height="28.27" fill="#EEA236"/>
<rect x="144.17" y="1146.5" width="17.11" height="191.83" fill="#D43F3A"/>
<text x="152.73" y="1464.01" font-family="'Liberation Sans', Arial, sans-serif" font-size="9.6" font-weight="normal" fill="#1A1A1A" text-anchor="middle" stroke="#1A1A1A" stroke-width="0.25">7.5</text>
<text x="152.73" y="1411" font-family="'Liberation Sans', Arial, sans-serif" font-size="9.6" font-weight="normal" fill="#1A1A1A" text-anchor="middle" stroke="#1A1A1A" stroke-width="0.25">25.1</text>
<text x="152.73" y="1356.21" font-family="'Liberation Sans', Arial, sans-serif" font-size="9.6" font-weight="normal" fill="#1A1A1A" text-anchor="middle" stroke="#1A1A1A" stroke-width="0.25">8.6</text>
<text x="152.73" y="1246.46" font-family="'Liberation Sans', Arial, sans-serif" font-size="9.6" font-weight="normal" fill="#1A1A1A" text-anchor="middle" stroke="#1A1A1A" stroke-width="0.25">58.9</text>
<rect x="163.39" y="1447.94" width="17.11" height="24.36" fill="#46B8DA"/>
<rect x="163.39" y="1364.04" width="17.11" height="84.2" fill="#5CB85C"/>
<rect x="163.39" y="1335.75" width="17.11" height="28.59" fill="#EEA236"/>
<rect x="163.39" y="1146.5" width="17.11" height="189.55" fill="#D43F3A"/>
<text x="171.94" y="1464.17" font-family="'Liberation Sans', Arial, sans-serif" font-size="9.6" font-weight="normal" fill="#1A1A1A" text-anchor="middle" stroke="#1A1A1A" stroke-width="0.25">7.4</text>
<text x="171.94" y="1410.19" font-family="'Liberation Sans', Arial, sans-serif" font-size="9.6" font-weight="normal" fill="#1A1A1A" text-anchor="middle" stroke="#1A1A1A" stroke-width="0.25">25.8</text>
<text x="171.94" y="1354.1" font-family="'Liberation Sans', Arial, sans-serif" font-size="9.6" font-weight="normal" fill="#1A1A1A" text-anchor="middle" stroke="#1A1A1A" stroke-width="0.25">8.7</text>
<text x="171.94" y="1245.33" font-family="'Liberation Sans', Arial, sans-serif" font-size="9.6" font-weight="normal" fill="#1A1A1A" text-anchor="middle" stroke="#1A1A1A" stroke-width="0.25">58.2</text>
<rect x="182.6" y="1448.24" width="17.11" height="24.06" fill="#46B8DA"/>
<rect x="182.6" y="1362.96" width="17.11" height="85.58" fill="#5CB85C"/>
<rect x="182.6" y="1334.31" width="17.11" height="28.94" fill="#EEA236"/>
<rect x="182.6" y="1146.5" width="17.11" height="188.11" fill="#D43F3A"/>
<text x="191.16" y="1464.32" font-family="'Liberation Sans', Arial, sans-serif" font-size="9.6" font-weight="normal" fill="#1A1A1A" text-anchor="middle" stroke="#1A1A1A" stroke-width="0.25">7.3</text>
<text x="191.16" y="1409.8" font-family="'Liberation Sans', Arial, sans-serif" font-size="9.6" font-weight="normal" fill="#1A1A1A" text-anchor="middle" stroke="#1A1A1A" stroke-width="0.25">26.2</text>
<text x="191.16" y="1352.84" font-family="'Liberation Sans', Arial, sans-serif" font-size="9.6" font-weight="normal" fill="#1A1A1A" text-anchor="middle" stroke="#1A1A1A" stroke-width="0.25">8.8</text>
<text x="191.16" y="1244.61" font-family="'Liberation Sans', Arial, sans-serif" font-size="9.6" font-weight="normal" fill="#1A1A1A" text-anchor="middle" stroke="#1A1A1A" stroke-width="0.25">57.7</text>
<rect x="201.82" y="1448.54" width="17.11" height="23.76" fill="#46B8DA"/>
<rect x="201.82" y="1361.55" width="17.11" height="87.3" fill="#5CB85C"/>
<rect x="201.82" y="1332.55" width="17.11" height="29.3" fill="#EEA236"/>
<rect x="201.82" y="1146.5" width="17.11" height="186.35" fill="#D43F3A"/>
<text x="210.38" y="1464.47" font-family="'Liberation Sans', Arial, sans-serif" font-size="9.6" font-weight="normal" fill="#1A1A1A" text-anchor="middle" stroke="#1A1A1A" stroke-width="0.25">7.2</text>
<text x="210.38" y="1409.24" font-family="'Liberation Sans', Arial, sans-serif" font-size="9.6" font-weight="normal" fill="#1A1A1A" text-anchor="middle" stroke="#1A1A1A" stroke-width="0.25">26.7</text>
<text x="210.38" y="1351.25" font-family="'Liberation Sans', Arial, sans-serif" font-size="9.6" font-weight="normal" fill="#1A1A1A" text-anchor="middle" stroke="#1A1A1A" stroke-width="0.25">8.9</text>
<text x="210.38" y="1243.72" font-family="'Liberation Sans', Arial, sans-serif" font-size="9.6" font-weight="normal" fill="#1A1A1A" text-anchor="middle" stroke="#1A1A1A" stroke-width="0.25">57.1</text>
<rect x="221.03" y="1448.89" width="17.11" height="23.41" fill="#46B8DA"/>
<rect x="221.03" y="1360.68" width="17.11" height="88.51" fill="#5CB85C"/>
<rect x="221.03" y="1331.06" width="17.11" height="29.92" fill="#EEA236"/>
<rect x="221.03" y="1146.5" width="17.11" height="184.86" fill="#D43F3A"/>
<text x="229.59" y="1464.64" font-family="'Liberation Sans', Arial, sans-serif" font-size="9.6" font-weight="normal" fill="#1A1A1A" text-anchor="middle" stroke="#1A1A1A" stroke-width="0.25">7.1</text>
<text x="229.59" y="1408.98" font-family="'Liberation Sans', Arial, sans-serif" font-size="9.6" font-weight="normal" fill="#1A1A1A" text-anchor="middle" stroke="#1A1A1A" stroke-width="0.25">27.1</text>
<text x="229.59" y="1350.07" font-family="'Liberation Sans', Arial, sans-serif" font-size="9.6" font-weight="normal" fill="#1A1A1A" text-anchor="middle" stroke="#1A1A1A" stroke-width="0.25">9.1</text>
<text x="229.59" y="1242.98" font-family="'Liberation Sans', Arial, sans-serif" font-size="9.6" font-weight="normal" fill="#1A1A1A" text-anchor="middle" stroke="#1A1A1A" stroke-width="0.25">56.7</text>
<rect x="240.25" y="1449.19" width="17.11" height="23.11" fill="#46B8DA"/>
<rect x="240.25" y="1359.59" width="17.11" height="89.9" fill="#5CB85C"/>
<rect x="240.25" y="1329.61" width="17.11" height="30.28" fill="#EEA236"/>
<rect x="240.25" y="1146.5" width="17.11" height="183.41" fill="#D43F3A"/>
<text x="248.81" y="1464.8" font-family="'Liberation Sans', Arial, sans-serif" font-size="9.6" font-weight="normal" fill="#1A1A1A" text-anchor="middle" stroke="#1A1A1A" stroke-width="0.25">7</text>
<text x="248.81" y="1408.59" font-family="'Liberation Sans', Arial, sans-serif" font-size="9.6" font-weight="normal" fill="#1A1A1A" text-anchor="middle" stroke="#1A1A1A" stroke-width="0.25">27.5</text>
<text x="248.81" y="1348.8" font-family="'Liberation Sans', Arial, sans-serif" font-size="9.6" font-weight="normal" fill="#1A1A1A" text-anchor="middle" stroke="#1A1A1A" stroke-width="0.25">9.2</text>
<text x="248.81" y="1242.26" font-family="'Liberation Sans', Arial, sans-serif" font-size="9.6" font-weight="normal" fill="#1A1A1A" text-anchor="middle" stroke="#1A1A1A" stroke-width="0.25">56.2</text>
<rect x="259.46" y="1449.24" width="17.11" height="23.06" fill="#46B8DA"/>
<rect x="259.46" y="1358.84" width="17.11" height="90.7" fill="#5CB85C"/>
<rect x="259.46" y="1328.27" width="17.11" height="30.87" fill="#EEA236"/>
<rect x="259.46" y="1146.5" width="17.11" height="182.07" fill="#D43F3A"/>
<text x="268.02" y="1464.82" font-family="'Liberation Sans', Arial, sans-serif" font-size="9.6" font-weight="normal" fill="#1A1A1A" text-anchor="middle" stroke="#1A1A1A" stroke-width="0.25">7</text>
<text x="268.02" y="1408.24" font-family="'Liberation Sans', Arial, sans-serif" font-size="9.6" font-weight="normal" fill="#1A1A1A" text-anchor="middle" stroke="#1A1A1A" stroke-width="0.25">27.8</text>
<text x="268.02" y="1347.76" font-family="'Liberation Sans', Arial, sans-serif" font-size="9.6" font-weight="normal" fill="#1A1A1A" text-anchor="middle" stroke="#1A1A1A" stroke-width="0.25">9.4</text>
<text x="268.02" y="1241.59" font-family="'Liberation Sans', Arial, sans-serif" font-size="9.6" font-weight="normal" fill="#1A1A1A" text-anchor="middle" stroke="#1A1A1A" stroke-width="0.25">55.9</text>
<rect x="278.68" y="1449.54" width="17.11" height="22.76" fill="#46B8DA"/>
<rect x="278.68" y="1358.08" width="17.11" height="91.77" fill="#5CB85C"/>
<rect x="278.68" y="1327.15" width="17.11" height="31.22" fill="#EEA236"/>
<rect x="278.68" y="1146.5" width="17.11" height="180.95" fill="#D43F3A"/>
<text x="287.24" y="1464.97" font-family="'Liberation Sans', Arial, sans-serif" font-size="9.6" font-weight="normal" fill="#1A1A1A" text-anchor="middle" stroke="#1A1A1A" stroke-width="0.25">6.9</text>
<text x="287.24" y="1408.01" font-family="'Liberation Sans', Arial, sans-serif" font-size="9.6" font-weight="normal" fill="#1A1A1A" text-anchor="middle" stroke="#1A1A1A" stroke-width="0.25">28.1</text>
<text x="287.24" y="1346.81" font-family="'Liberation Sans', Arial, sans-serif" font-size="9.6" font-weight="normal" fill="#1A1A1A" text-anchor="middle" stroke="#1A1A1A" stroke-width="0.25">9.5</text>
<text x="287.24" y="1241.03" font-family="'Liberation Sans', Arial, sans-serif" font-size="9.6" font-weight="normal" fill="#1A1A1A" text-anchor="middle" stroke="#1A1A1A" stroke-width="0.25">55.5</text>
<rect x="297.89" y="1449.54" width="17.11" height="22.76" fill="#46B8DA"/>
<rect x="297.89" y="1357.42" width="17.11" height="92.42" fill="#5CB85C"/>
<rect x="297.89" y="1325.85" width="17.11" height="31.87" fill="#EEA236"/>
<rect x="297.89" y="1146.5" width="17.11" height="179.65" fill="#D43F3A"/>
<text x="306.45" y="1464.97" font-family="'Liberation Sans', Arial, sans-serif" font-size="9.6" font-weight="normal" fill="#1A1A1A" text-anchor="middle" stroke="#1A1A1A" stroke-width="0.25">6.9</text>
<text x="306.45" y="1407.68" font-family="'Liberation Sans', Arial, sans-serif" font-size="9.6" font-weight="normal" fill="#1A1A1A" text-anchor="middle" stroke="#1A1A1A" stroke-width="0.25">28.3</text>
<text x="306.45" y="1345.84" font-family="'Liberation Sans', Arial, sans-serif" font-size="9.6" font-weight="normal" fill="#1A1A1A" text-anchor="middle" stroke="#1A1A1A" stroke-width="0.25">9.7</text>
<text x="306.45" y="1240.38" font-family="'Liberation Sans', Arial, sans-serif" font-size="9.6" font-weight="normal" fill="#1A1A1A" text-anchor="middle" stroke="#1A1A1A" stroke-width="0.25">55.1</text>
<rect x="317.11" y="1449.54" width="17.11" height="22.76" fill="#46B8DA"/>
<rect x="317.11" y="1356.77" width="17.11" height="93.07" fill="#5CB85C"/>
<rect x="317.11" y="1324.55" width="17.11" height="32.52" fill="#EEA236"/>
<rect x="317.11" y="1146.5" width="17.11" height="178.35" fill="#D43F3A"/>
<text x="325.67" y="1464.97" font-family="'Liberation Sans', Arial, sans-serif" font-size="9.6" font-weight="normal" fill="#1A1A1A" text-anchor="middle" stroke="#1A1A1A" stroke-width="0.25">6.9</text>
<text x="325.67" y="1407.36" font-family="'Liberation Sans', Arial, sans-serif" font-size="9.6" font-weight="normal" fill="#1A1A1A" text-anchor="middle" stroke="#1A1A1A" stroke-width="0.25">28.5</text>
<text x="325.67" y="1344.86" font-family="'Liberation Sans', Arial, sans-serif" font-size="9.6" font-weight="normal" fill="#1A1A1A" text-anchor="middle" stroke="#1A1A1A" stroke-width="0.25">9.9</text>
<text x="325.67" y="1239.72" font-family="'Liberation Sans', Arial, sans-serif" font-size="9.6" font-weight="normal" fill="#1A1A1A" text-anchor="middle" stroke="#1A1A1A" stroke-width="0.25">54.7</text>
<rect x="336.32" y="1449.24" width="17.11" height="23.06" fill="#46B8DA"/>
<rect x="336.32" y="1355.91" width="17.11" height="93.63" fill="#5CB85C"/>
<rect x="336.32" y="1323.07" width="17.11" height="33.14" fill="#EEA236"/>
<rect x="336.32" y="1146.5" width="17.11" height="176.87" fill="#D43F3A"/>
<text x="344.88" y="1464.82" font-family="'Liberation Sans', Arial, sans-serif" font-size="9.6" font-weight="normal" fill="#1A1A1A" text-anchor="middle" stroke="#1A1A1A" stroke-width="0.25">7</text>
<text x="344.88" y="1406.78" font-family="'Liberation Sans', Arial, sans-serif" font-size="9.6" font-weight="normal" fill="#1A1A1A" text-anchor="middle" stroke="#1A1A1A" stroke-width="0.25">28.7</text>
<text x="344.88" y="1343.69" font-family="'Liberation Sans', Arial, sans-serif" font-size="9.6" font-weight="normal" fill="#1A1A1A" text-anchor="middle" stroke="#1A1A1A" stroke-width="0.25">10.1</text>
<text x="344.88" y="1238.98" font-family="'Liberation Sans', Arial, sans-serif" font-size="9.6" font-weight="normal" fill="#1A1A1A" text-anchor="middle" stroke="#1A1A1A" stroke-width="0.25">54.3</text>
<rect x="355.54" y="1449.24" width="17.11" height="23.06" fill="#46B8DA"/>
<rect x="355.54" y="1354.94" width="17.11" height="94.6" fill="#5CB85C"/>
<rect x="355.54" y="1321.44" width="17.11" height="33.79" fill="#EEA236"/>
<rect x="355.54" y="1146.5" width="17.11" height="175.24" fill="#D43F3A"/>
<text x="364.09" y="1464.82" font-family="'Liberation Sans', Arial, sans-serif" font-size="9.6" font-weight="normal" fill="#1A1A1A" text-anchor="middle" stroke="#1A1A1A" stroke-width="0.25">7</text>
<text x="364.09" y="1406.29" font-family="'Liberation Sans', Arial, sans-serif" font-size="9.6" font-weight="normal" fill="#1A1A1A" text-anchor="middle" stroke="#1A1A1A" stroke-width="0.25">29</text>
<text x="364.09" y="1342.39" font-family="'Liberation Sans', Arial, sans-serif" font-size="9.6" font-weight="normal" fill="#1A1A1A" text-anchor="middle" stroke="#1A1A1A" stroke-width="0.25">10.3</text>
<text x="364.09" y="1238.17" font-family="'Liberation Sans', Arial, sans-serif" font-size="9.6" font-weight="normal" fill="#1A1A1A" text-anchor="middle" stroke="#1A1A1A" stroke-width="0.25">53.8</text>
<rect x="374.75" y="1449.24" width="17.11" height="23.06" fill="#46B8DA"/>
<rect x="374.75" y="1353.96" width="17.11" height="95.58" fill="#5CB85C"/>
<rect x="374.75" y="1320.14" width="17.11" height="34.12" fill="#EEA236"/>
<rect x="374.75" y="1146.5" width="17.11" height="173.94" fill="#D43F3A"/>
<text x="383.31" y="1464.82" font-family="'Liberation Sans', Arial, sans-serif" font-size="9.6" font-weight="normal" fill="#1A1A1A" text-anchor="middle" stroke="#1A1A1A" stroke-width="0.25">7</text>
<text x="383.31" y="1405.8" font-family="'Liberation Sans', Arial, sans-serif" font-size="9.6" font-weight="normal" fill="#1A1A1A" text-anchor="middle" stroke="#1A1A1A" stroke-width="0.25">29.3</text>
<text x="383.31" y="1341.25" font-family="'Liberation Sans', Arial, sans-serif" font-size="9.6" font-weight="normal" fill="#1A1A1A" text-anchor="middle" stroke="#1A1A1A" stroke-width="0.25">10.4</text>
<text x="383.31" y="1237.52" font-family="'Liberation Sans', Arial, sans-serif" font-size="9.6" font-weight="normal" fill="#1A1A1A" text-anchor="middle" stroke="#1A1A1A" stroke-width="0.25">53.4</text>
<rect x="393.97" y="1449.24" width="17.11" height="23.06" fill="#46B8DA"/>
<rect x="393.97" y="1352.66" width="17.11" height="96.88" fill="#5CB85C"/>
<rect x="393.97" y="1318.52" width="17.11" height="34.44" fill="#EEA236"/>
<rect x="393.97" y="1146.5" width="17.11" height="172.32" fill="#D43F3A"/>
<text x="402.53" y="1464.82" font-family="'Liberation Sans', Arial, sans-serif" font-size="9.6" font-weight="normal" fill="#1A1A1A" text-anchor="middle" stroke="#1A1A1A" stroke-width="0.25">7</text>
<text x="402.53" y="1405.15" font-family="'Liberation Sans', Arial, sans-serif" font-size="9.6" font-weight="normal" fill="#1A1A1A" text-anchor="middle" stroke="#1A1A1A" stroke-width="0.25">29.7</text>
<text x="402.53" y="1339.79" font-family="'Liberation Sans', Arial, sans-serif" font-size="9.6" font-weight="normal" fill="#1A1A1A" text-anchor="middle" stroke="#1A1A1A" stroke-width="0.25">10.5</text>
<text x="402.53" y="1236.71" font-family="'Liberation Sans', Arial, sans-serif" font-size="9.6" font-weight="normal" fill="#1A1A1A" text-anchor="middle" stroke="#1A1A1A" stroke-width="0.25">52.9</text>
<rect x="413.18" y="1449.21" width="17.11" height="23.09" fill="#46B8DA"/>
<rect x="413.18" y="1351.24" width="17.11" height="98.28" fill="#5CB85C"/>
<rect x="413.18" y="1316.74" width="17.11" height="34.8" fill="#EEA236"/>
<rect x="413.18" y="1146.5" width="17.11" height="170.54" fill="#D43F3A"/>
<text x="421.74" y="1464.81" font-family="'Liberation Sans', Arial, sans-serif" font-size="9.6" font-weight="normal" fill="#1A1A1A" text-anchor="middle" stroke="#1A1A1A" stroke-width="0.25">7</text>
<text x="421.74" y="1404.43" font-family="'Liberation Sans', Arial, sans-serif" font-size="9.6" font-weight="normal" fill="#1A1A1A" text-anchor="middle" stroke="#1A1A1A" stroke-width="0.25">30.1</text>
<text x="421.74" y="1338.19" font-family="'Liberation Sans', Arial, sans-serif" font-size="9.6" font-weight="normal" fill="#1A1A1A" text-anchor="middle" stroke="#1A1A1A" stroke-width="0.25">10.6</text>
<text x="421.74" y="1235.82" font-family="'Liberation Sans', Arial, sans-serif" font-size="9.6" font-weight="normal" fill="#1A1A1A" text-anchor="middle" stroke="#1A1A1A" stroke-width="0.25">52.3</text>
<rect x="432.4" y="1449.21" width="17.11" height="23.09" fill="#46B8DA"/>
<rect x="432.4" y="1349.94" width="17.11" height="99.58" fill="#5CB85C"/>
<rect x="432.4" y="1315.11" width="17.11" height="35.13" fill="#EEA236"/>
<rect x="432.4" y="1146.5" width="17.11" height="168.91" fill="#D43F3A"/>
<text x="440.95" y="1464.81" font-family="'Liberation Sans', Arial, sans-serif" font-size="9.6" font-weight="normal" fill="#1A1A1A" text-anchor="middle" stroke="#1A1A1A" stroke-width="0.25">7</text>
<text x="440.95" y="1403.78" font-family="'Liberation Sans', Arial, sans-serif" font-size="9.6" font-weight="normal" fill="#1A1A1A" text-anchor="middle" stroke="#1A1A1A" stroke-width="0.25">30.5</text>
<text x="440.95" y="1336.72" font-family="'Liberation Sans', Arial, sans-serif" font-size="9.6" font-weight="normal" fill="#1A1A1A" text-anchor="middle" stroke="#1A1A1A" stroke-width="0.25">10.7</text>
<text x="440.95" y="1235" font-family="'Liberation Sans', Arial, sans-serif" font-size="9.6" font-weight="normal" fill="#1A1A1A" text-anchor="middle" stroke="#1A1A1A" stroke-width="0.25">51.8</text>
<rect x="451.61" y="1449.21" width="17.11" height="23.09" fill="#46B8DA"/>
<rect x="451.61" y="1348.31" width="17.11" height="101.2" fill="#5CB85C"/>
<rect x="451.61" y="1313.48" width="17.11" height="35.13" fill="#EEA236"/>
<rect x="451.61" y="1146.5" width="17.11" height="167.28" fill="#D43F3A"/>
<text x="460.17" y="1464.81" font-family="'Liberation Sans', Arial, sans-serif" font-size="9.6" font-weight="normal" fill="#1A1A1A" text-anchor="middle" stroke="#1A1A1A" stroke-width="0.25">7</text>
<text x="460.17" y="1402.96" font-family="'Liberation Sans', Arial, sans-serif" font-size="9.6" font-weight="normal" fill="#1A1A1A" text-anchor="middle" stroke="#1A1A1A" stroke-width="0.25">31</text>
<text x="460.17" y="1335.1" font-family="'Liberation Sans', Arial, sans-serif" font-size="9.6" font-weight="normal" fill="#1A1A1A" text-anchor="middle" stroke="#1A1A1A" stroke-width="0.25">10.7</text>
<text x="460.17" y="1234.19" font-family="'Liberation Sans', Arial, sans-serif" font-size="9.6" font-weight="normal" fill="#1A1A1A" text-anchor="middle" stroke="#1A1A1A" stroke-width="0.25">51.3</text>
<rect x="470.83" y="1449.21" width="17.11" height="23.09" fill="#46B8DA"/>
<rect x="470.83" y="1347.01" width="17.11" height="102.51" fill="#5CB85C"/>
<rect x="470.83" y="1312.18" width="17.11" height="35.13" fill="#EEA236"/>
<rect x="470.83" y="1146.5" width="17.11" height="165.98" fill="#D43F3A"/>
<text x="479.38" y="1464.81" font-family="'Liberation Sans', Arial, sans-serif" font-size="9.6" font-weight="normal" fill="#1A1A1A" text-anchor="middle" stroke="#1A1A1A" stroke-width="0.25">7</text>
<text x="479.38" y="1402.31" font-family="'Liberation Sans', Arial, sans-serif" font-size="9.6" font-weight="normal" fill="#1A1A1A" text-anchor="middle" stroke="#1A1A1A" stroke-width="0.25">31.4</text>
<text x="479.38" y="1333.79" font-family="'Liberation Sans', Arial, sans-serif" font-size="9.6" font-weight="normal" fill="#1A1A1A" text-anchor="middle" stroke="#1A1A1A" stroke-width="0.25">10.7</text>
<text x="479.38" y="1233.54" font-family="'Liberation Sans', Arial, sans-serif" font-size="9.6" font-weight="normal" fill="#1A1A1A" text-anchor="middle" stroke="#1A1A1A" stroke-width="0.25">50.9</text>
<rect x="490.04" y="1449.52" width="17.11" height="22.78" fill="#46B8DA"/>
<rect x="490.04" y="1345.91" width="17.11" height="103.91" fill="#5CB85C"/>
<rect x="490.04" y="1310.72" width="17.11" height="35.49" fill="#EEA236"/>
<rect x="490.04" y="1146.5" width="17.11" height="164.52" fill="#D43F3A"/>
<text x="498.6" y="1464.96" font-family="'Liberation Sans', Arial, sans-serif" font-size="9.6" font-weight="normal" fill="#1A1A1A" text-anchor="middle" stroke="#1A1A1A" stroke-width="0.25">6.9</text>
<text x="498.6" y="1401.91" font-family="'Liberation Sans', Arial, sans-serif" font-size="9.6" font-weight="normal" fill="#1A1A1A" text-anchor="middle" stroke="#1A1A1A" stroke-width="0.25">31.8</text>
<text x="498.6" y="1332.51" font-family="'Liberation Sans', Arial, sans-serif" font-size="9.6" font-weight="normal" fill="#1A1A1A" text-anchor="middle" stroke="#1A1A1A" stroke-width="0.25">10.8</text>
<text x="498.6" y="1232.81" font-family="'Liberation Sans', Arial, sans-serif" font-size="9.6" font-weight="normal" fill="#1A1A1A" text-anchor="middle" stroke="#1A1A1A" stroke-width="0.25">50.4</text>
<rect x="509.26" y="1449.54" width="17.11" height="22.76" fill="#46B8DA"/>
<rect x="509.26" y="1344.73" width="17.11" height="105.11" fill="#5CB85C"/>
<rect x="509.26" y="1309.25" width="17.11" height="35.78" fill="#EEA236"/>
<rect x="509.26" y="1146.5" width="17.11" height="163.05" fill="#D43F3A"/>
<text x="517.81" y="1464.97" font-family="'Liberation Sans', Arial, sans-serif" font-size="9.6" font-weight="normal" fill="#1A1A1A" text-anchor="middle" stroke="#1A1A1A" stroke-width="0.25">6.9</text>
<text x="517.81" y="1401.34" font-family="'Liberation Sans', Arial, sans-serif" font-size="9.6" font-weight="normal" fill="#1A1A1A" text-anchor="middle" stroke="#1A1A1A" stroke-width="0.25">32.2</text>
<text x="517.81" y="1331.19" font-family="'Liberation Sans', Arial, sans-serif" font-size="9.6" font-weight="normal" fill="#1A1A1A" text-anchor="middle" stroke="#1A1A1A" stroke-width="0.25">10.9</text>
<text x="517.81" y="1232.08" font-family="'Liberation Sans', Arial, sans-serif" font-size="9.6" font-weight="normal" fill="#1A1A1A" text-anchor="middle" stroke="#1A1A1A" stroke-width="0.25">50</text>
<rect x="528.47" y="1449.87" width="17.11" height="22.43" fill="#46B8DA"/>
<rect x="528.47" y="1343.75" width="17.11" height="106.41" fill="#5CB85C"/>
<rect x="528.47" y="1307.95" width="17.11" height="36.1" fill="#EEA236"/>
<rect x="528.47" y="1146.5" width="17.11" height="161.75" fill="#D43F3A"/>
<text x="537.03" y="1465.13" font-family="'Liberation Sans', Arial, sans-serif" font-size="9.6" font-weight="normal" fill="#1A1A1A" text-anchor="middle" stroke="#1A1A1A" stroke-width="0.25">6.8</text>
<text x="537.03" y="1401.01" font-family="'Liberation Sans', Arial, sans-serif" font-size="9.6" font-weight="normal" fill="#1A1A1A" text-anchor="middle" stroke="#1A1A1A" stroke-width="0.25">32.6</text>
<text x="537.03" y="1330.05" font-family="'Liberation Sans', Arial, sans-serif" font-size="9.6" font-weight="normal" fill="#1A1A1A" text-anchor="middle" stroke="#1A1A1A" stroke-width="0.25">11</text>
<text x="537.03" y="1231.42" font-family="'Liberation Sans', Arial, sans-serif" font-size="9.6" font-weight="normal" fill="#1A1A1A" text-anchor="middle" stroke="#1A1A1A" stroke-width="0.25">49.6</text>
<rect x="547.69" y="1449.87" width="17.11" height="22.43" fill="#46B8DA"/>
<rect x="547.69" y="1343.1" width="17.11" height="107.06" fill="#5CB85C"/>
<rect x="547.69" y="1306.97" width="17.11" height="36.43" fill="#EEA236"/>
<rect x="547.69" y="1146.5" width="17.11" height="160.77" fill="#D43F3A"/>
<text x="556.25" y="1465.13" font-family="'Liberation Sans', Arial, sans-serif" font-size="9.6" font-weight="normal" fill="#1A1A1A" text-anchor="middle" stroke="#1A1A1A" stroke-width="0.25">6.8</text>
<text x="556.25" y="1400.68" font-family="'Liberation Sans', Arial, sans-serif" font-size="9.6" font-weight="normal" fill="#1A1A1A" text-anchor="middle" stroke="#1A1A1A" stroke-width="0.25">32.8</text>
<text x="556.25" y="1329.24" font-family="'Liberation Sans', Arial, sans-serif" font-size="9.6" font-weight="normal" fill="#1A1A1A" text-anchor="middle" stroke="#1A1A1A" stroke-width="0.25">11.1</text>
<text x="556.25" y="1230.94" font-family="'Liberation Sans', Arial, sans-serif" font-size="9.6" font-weight="normal" fill="#1A1A1A" text-anchor="middle" stroke="#1A1A1A" stroke-width="0.25">49.3</text>
<rect x="566.9" y="1450.19" width="17.11" height="22.11" fill="#46B8DA"/>
<rect x="566.9" y="1342.78" width="17.11" height="107.71" fill="#5CB85C"/>
<rect x="566.9" y="1306.32" width="17.11" height="36.76" fill="#EEA236"/>
<rect x="566.9" y="1146.5" width="17.11" height="160.12" fill="#D43F3A"/>
<text x="575.46" y="1465.3" font-family="'Liberation Sans', Arial, sans-serif" font-size="9.6" font-weight="normal" fill="#1A1A1A" text-anchor="middle" stroke="#1A1A1A" stroke-width="0.25">6.7</text>
<text x="575.46" y="1400.68" font-family="'Liberation Sans', Arial, sans-serif" font-size="9.6" font-weight="normal" fill="#1A1A1A" text-anchor="middle" stroke="#1A1A1A" stroke-width="0.25">33</text>
<text x="575.46" y="1328.75" font-family="'Liberation Sans', Arial, sans-serif" font-size="9.6" font-weight="normal" fill="#1A1A1A" text-anchor="middle" stroke="#1A1A1A" stroke-width="0.25">11.2</text>
<text x="575.46" y="1230.61" font-family="'Liberation Sans', Arial, sans-serif" font-size="9.6" font-weight="normal" fill="#1A1A1A" text-anchor="middle" stroke="#1A1A1A" stroke-width="0.25">49.1</text>
<rect x="586.12" y="1450.19" width="17.11" height="22.11" fill="#46B8DA"/>
<rect x="586.12" y="1342.13" width="17.11" height="108.37" fill="#5CB85C"/>
<rect x="586.12" y="1305.34" width="17.11" height="37.08" fill="#EEA236"/>
<rect x="586.12" y="1146.5" width="17.11" height="159.14" fill="#D43F3A"/>
<text x="594.67" y="1465.3" font-family="'Liberation Sans', Arial, sans-serif" font-size="9.6" font-weight="normal" fill="#1A1A1A" text-anchor="middle" stroke="#1A1A1A" stroke-width="0.25">6.7</text>
<text x="594.67" y="1400.36" font-family="'Liberation Sans', Arial, sans-serif" font-size="9.6" font-weight="normal" fill="#1A1A1A" text-anchor="middle" stroke="#1A1A1A" stroke-width="0.25">33.2</text>
<text x="594.67" y="1327.93" font-family="'Liberation Sans', Arial, sans-serif" font-size="9.6" font-weight="normal" fill="#1A1A1A" text-anchor="middle" stroke="#1A1A1A" stroke-width="0.25">11.3</text>
<text x="594.67" y="1230.12" font-family="'Liberation Sans', Arial, sans-serif" font-size="9.6" font-weight="normal" fill="#1A1A1A" text-anchor="middle" stroke="#1A1A1A" stroke-width="0.25">48.8</text>
<rect x="605.33" y="1450.5" width="17.11" height="21.8" fill="#46B8DA"/>
<rect x="605.33" y="1341.67" width="17.11" height="109.13" fill="#5CB85C"/>
<rect x="605.33" y="1304.53" width="17.11" height="37.44" fill="#EEA236"/>
<rect x="605.33" y="1146.5" width="17.11" height="158.33" fill="#D43F3A"/>
<text x="613.89" y="1465.45" font-family="'Liberation Sans', Arial, sans-serif" font-size="9.6" font-weight="normal" fill="#1A1A1A" text-anchor="middle" stroke="#1A1A1A" stroke-width="0.25">6.6</text>
<text x="613.89" y="1400.28" font-family="'Liberation Sans', Arial, sans-serif" font-size="9.6" font-weight="normal" fill="#1A1A1A" text-anchor="middle" stroke="#1A1A1A" stroke-width="0.25">33.4</text>
<text x="613.89" y="1327.3" font-family="'Liberation Sans', Arial, sans-serif" font-size="9.6" font-weight="normal" fill="#1A1A1A" text-anchor="middle" stroke="#1A1A1A" stroke-width="0.25">11.4</text>
<text x="613.89" y="1229.71" font-family="'Liberation Sans', Arial, sans-serif" font-size="9.6" font-weight="normal" fill="#1A1A1A" text-anchor="middle" stroke="#1A1A1A" stroke-width="0.25">48.5</text>
<rect x="624.55" y="1450.52" width="17.11" height="21.78" fill="#46B8DA"/>
<rect x="624.55" y="1341.15" width="17.11" height="109.67" fill="#5CB85C"/>
<rect x="624.55" y="1303.72" width="17.11" height="37.73" fill="#EEA236"/>
<rect x="624.55" y="1146.5" width="17.11" height="157.52" fill="#D43F3A"/>
<text x="633.1" y="1465.46" font-family="'Liberation Sans', Arial, sans-serif" font-size="9.6" font-weight="normal" fill="#1A1A1A" text-anchor="middle" stroke="#1A1A1A" stroke-width="0.25">6.6</text>
<text x="633.1" y="1400.03" font-family="'Liberation Sans', Arial, sans-serif" font-size="9.6" font-weight="normal" fill="#1A1A1A" text-anchor="middle" stroke="#1A1A1A" stroke-width="0.25">33.6</text>
<text x="633.1" y="1326.63" font-family="'Liberation Sans', Arial, sans-serif" font-size="9.6" font-weight="normal" fill="#1A1A1A" text-anchor="middle" stroke="#1A1A1A" stroke-width="0.25">11.5</text>
<text x="633.1" y="1229.31" font-family="'Liberation Sans', Arial, sans-serif" font-size="9.6" font-weight="normal" fill="#1A1A1A" text-anchor="middle" stroke="#1A1A1A" stroke-width="0.25">48.3</text>
<rect x="643.76" y="1450.54" width="17.11" height="21.76" fill="#46B8DA"/>
<rect x="643.76" y="1340.63" width="17.11" height="110.21" fill="#5CB85C"/>
<rect x="643.76" y="1303.23" width="17.11" height="37.7" fill="#EEA236"/>
<rect x="643.76" y="1146.5" width="17.11" height="157.03" fill="#D43F3A"/>
<text x="652.32" y="1465.47" font-family="'Liberation Sans', Arial, sans-serif" font-size="9.6" font-weight="normal" fill="#1A1A1A" text-anchor="middle" stroke="#1A1A1A" stroke-width="0.25">6.6</text>
<text x="652.32" y="1399.78" font-family="'Liberation Sans', Arial, sans-serif" font-size="9.6" font-weight="normal" fill="#1A1A1A" text-anchor="middle" stroke="#1A1A1A" stroke-width="0.25">33.8</text>
<text x="652.32" y="1326.13" font-family="'Liberation Sans', Arial, sans-serif" font-size="9.6" font-weight="normal" fill="#1A1A1A" text-anchor="middle" stroke="#1A1A1A" stroke-width="0.25">11.5</text>
<text x="652.32" y="1229.07" font-family="'Liberation Sans', Arial, sans-serif" font-size="9.6" font-weight="normal" fill="#1A1A1A" text-anchor="middle" stroke="#1A1A1A" stroke-width="0.25">48.2</text>
<rect x="662.98" y="1450.84" width="17.11" height="21.46" fill="#46B8DA"/>
<rect x="662.98" y="1340.17" width="17.11" height="110.97" fill="#5CB85C"/>
<rect x="662.98" y="1302.41" width="17.11" height="38.06" fill="#EEA236"/>
<rect x="662.98" y="1146.5" width="17.11" height="156.21" fill="#D43F3A"/>
<text x="671.53" y="1465.62" font-family="'Liberation Sans', Arial, sans-serif" font-size="9.6" font-weight="normal" fill="#1A1A1A" text-anchor="middle" stroke="#1A1A1A" stroke-width="0.25">6.5</text>
<text x="671.53" y="1399.71" font-family="'Liberation Sans', Arial, sans-serif" font-size="9.6" font-weight="normal" fill="#1A1A1A" text-anchor="middle" stroke="#1A1A1A" stroke-width="0.25">34</text>
<text x="671.53" y="1325.49" font-family="'Liberation Sans', Arial, sans-serif" font-size="9.6" font-weight="normal" fill="#1A1A1A" text-anchor="middle" stroke="#1A1A1A" stroke-width="0.25">11.6</text>
<text x="671.53" y="1228.66" font-family="'Liberation Sans', Arial, sans-serif" font-size="9.6" font-weight="normal" fill="#1A1A1A" text-anchor="middle" stroke="#1A1A1A" stroke-width="0.25">47.9</text>
<line x1="103" y1="1129.5" x2="103" y2="1488.8" stroke="#000" stroke-width="2.2" stroke-linecap="butt"/>
<line x1="102" y1="1487.8" x2="682.7" y2="1487.8" stroke="#000" stroke-width="2.2" stroke-linecap="butt"/>
<line x1="99" y1="1472" x2="103" y2="1472" stroke="#333" stroke-width="1.1" stroke-linecap="butt"/>
<text x="91" y="1476.9" font-family="'Liberation Sans', Arial, sans-serif" font-size="13.6" font-weight="bold" fill="#000" text-anchor="end">0.00</text>
<line x1="99" y1="1390.62" x2="103" y2="1390.62" stroke="#333" stroke-width="1.1" stroke-linecap="butt"/>
<text x="91" y="1395.53" font-family="'Liberation Sans', Arial, sans-serif" font-size="13.6" font-weight="bold" fill="#000" text-anchor="end">0.25</text>
<line x1="99" y1="1309.25" x2="103" y2="1309.25" stroke="#333" stroke-width="1.1" stroke-linecap="butt"/>
<text x="91" y="1314.15" font-family="'Liberation Sans', Arial, sans-serif" font-size="13.6" font-weight="bold" fill="#000" text-anchor="end">0.50</text>
<line x1="99" y1="1227.88" x2="103" y2="1227.88" stroke="#333" stroke-width="1.1" stroke-linecap="butt"/>
<text x="91" y="1232.78" font-family="'Liberation Sans', Arial, sans-serif" font-size="13.6" font-weight="bold" fill="#000" text-anchor="end">0.75</text>
<line x1="99" y1="1146.5" x2="103" y2="1146.5" stroke="#333" stroke-width="1.1" stroke-linecap="butt"/>
<text x="91" y="1151.4" font-family="'Liberation Sans', Arial, sans-serif" font-size="13.6" font-weight="bold" fill="#000" text-anchor="end">1.00</text>
<line x1="114.3" y1="1487.8" x2="114.3" y2="1491.3" stroke="#333" stroke-width="1.1" stroke-linecap="butt"/>
<text transform="translate(121.6 1497.3) rotate(-90)" font-family="'Liberation Sans', Arial, sans-serif" font-size="22" font-weight="bold" text-anchor="end" textLength="44.3" lengthAdjust="spacingAndGlyphs">1990</text>
<line x1="133.51" y1="1487.8" x2="133.51" y2="1491.3" stroke="#333" stroke-width="1.1" stroke-linecap="butt"/>
<text transform="translate(140.81 1497.3) rotate(-90)" font-family="'Liberation Sans', Arial, sans-serif" font-size="22" font-weight="bold" text-anchor="end" textLength="44.3" lengthAdjust="spacingAndGlyphs">1991</text>
<line x1="152.73" y1="1487.8" x2="152.73" y2="1491.3" stroke="#333" stroke-width="1.1" stroke-linecap="butt"/>
<text transform="translate(160.03 1497.3) rotate(-90)" font-family="'Liberation Sans', Arial, sans-serif" font-size="22" font-weight="bold" text-anchor="end" textLength="44.3" lengthAdjust="spacingAndGlyphs">1992</text>
<line x1="171.94" y1="1487.8" x2="171.94" y2="1491.3" stroke="#333" stroke-width="1.1" stroke-linecap="butt"/>
<text transform="translate(179.25 1497.3) rotate(-90)" font-family="'Liberation Sans', Arial, sans-serif" font-size="22" font-weight="bold" text-anchor="end" textLength="44.3" lengthAdjust="spacingAndGlyphs">1993</text>
<line x1="191.16" y1="1487.8" x2="191.16" y2="1491.3" stroke="#333" stroke-width="1.1" stroke-linecap="butt"/>
<text transform="translate(198.46 1497.3) rotate(-90)" font-family="'Liberation Sans', Arial, sans-serif" font-size="22" font-weight="bold" text-anchor="end" textLength="44.3" lengthAdjust="spacingAndGlyphs">1994</text>
<line x1="210.38" y1="1487.8" x2="210.38" y2="1491.3" stroke="#333" stroke-width="1.1" stroke-linecap="butt"/>
<text transform="translate(217.68 1497.3) rotate(-90)" font-family="'Liberation Sans', Arial, sans-serif" font-size="22" font-weight="bold" text-anchor="end" textLength="44.3" lengthAdjust="spacingAndGlyphs">1995</text>
<line x1="229.59" y1="1487.8" x2="229.59" y2="1491.3" stroke="#333" stroke-width="1.1" stroke-linecap="butt"/>
<text transform="translate(236.89 1497.3) rotate(-90)" font-family="'Liberation Sans', Arial, sans-serif" font-size="22" font-weight="bold" text-anchor="end" textLength="44.3" lengthAdjust="spacingAndGlyphs">1996</text>
<line x1="248.81" y1="1487.8" x2="248.81" y2="1491.3" stroke="#333" stroke-width="1.1" stroke-linecap="butt"/>
<text transform="translate(256.11 1497.3) rotate(-90)" font-family="'Liberation Sans', Arial, sans-serif" font-size="22" font-weight="bold" text-anchor="end" textLength="44.3" lengthAdjust="spacingAndGlyphs">1997</text>
<line x1="268.02" y1="1487.8" x2="268.02" y2="1491.3" stroke="#333" stroke-width="1.1" stroke-linecap="butt"/>
<text transform="translate(275.32 1497.3) rotate(-90)" font-family="'Liberation Sans', Arial, sans-serif" font-size="22" font-weight="bold" text-anchor="end" textLength="44.3" lengthAdjust="spacingAndGlyphs">1998</text>
<line x1="287.24" y1="1487.8" x2="287.24" y2="1491.3" stroke="#333" stroke-width="1.1" stroke-linecap="butt"/>
<text transform="translate(294.54 1497.3) rotate(-90)" font-family="'Liberation Sans', Arial, sans-serif" font-size="22" font-weight="bold" text-anchor="end" textLength="44.3" lengthAdjust="spacingAndGlyphs">1999</text>
<line x1="306.45" y1="1487.8" x2="306.45" y2="1491.3" stroke="#333" stroke-width="1.1" stroke-linecap="butt"/>
<text transform="translate(313.75 1497.3) rotate(-90)" font-family="'Liberation Sans', Arial, sans-serif" font-size="22" font-weight="bold" text-anchor="end" textLength="44.3" lengthAdjust="spacingAndGlyphs">2000</text>
<line x1="325.67" y1="1487.8" x2="325.67" y2="1491.3" stroke="#333" stroke-width="1.1" stroke-linecap="butt"/>
<text transform="translate(332.97 1497.3) rotate(-90)" font-family="'Liberation Sans', Arial, sans-serif" font-size="22" font-weight="bold" text-anchor="end" textLength="44.3" lengthAdjust="spacingAndGlyphs">2001</text>
<line x1="344.88" y1="1487.8" x2="344.88" y2="1491.3" stroke="#333" stroke-width="1.1" stroke-linecap="butt"/>
<text transform="translate(352.18 1497.3) rotate(-90)" font-family="'Liberation Sans', Arial, sans-serif" font-size="22" font-weight="bold" text-anchor="end" textLength="44.3" lengthAdjust="spacingAndGlyphs">2002</text>
<line x1="364.09" y1="1487.8" x2="364.09" y2="1491.3" stroke="#333" stroke-width="1.1" stroke-linecap="butt"/>
<text transform="translate(371.39 1497.3) rotate(-90)" font-family="'Liberation Sans', Arial, sans-serif" font-size="22" font-weight="bold" text-anchor="end" textLength="44.3" lengthAdjust="spacingAndGlyphs">2003</text>
<line x1="383.31" y1="1487.8" x2="383.31" y2="1491.3" stroke="#333" stroke-width="1.1" stroke-linecap="butt"/>
<text transform="translate(390.61 1497.3) rotate(-90)" font-family="'Liberation Sans', Arial, sans-serif" font-size="22" font-weight="bold" text-anchor="end" textLength="44.3" lengthAdjust="spacingAndGlyphs">2004</text>
<line x1="402.53" y1="1487.8" x2="402.53" y2="1491.3" stroke="#333" stroke-width="1.1" stroke-linecap="butt"/>
<text transform="translate(409.83 1497.3) rotate(-90)" font-family="'Liberation Sans', Arial, sans-serif" font-size="22" font-weight="bold" text-anchor="end" textLength="44.3" lengthAdjust="spacingAndGlyphs">2005</text>
<line x1="421.74" y1="1487.8" x2="421.74" y2="1491.3" stroke="#333" stroke-width="1.1" stroke-linecap="butt"/>
<text transform="translate(429.04 1497.3) rotate(-90)" font-family="'Liberation Sans', Arial, sans-serif" font-size="22" font-weight="bold" text-anchor="end" textLength="44.3" lengthAdjust="spacingAndGlyphs">2006</text>
<line x1="440.95" y1="1487.8" x2="440.95" y2="1491.3" stroke="#333" stroke-width="1.1" stroke-linecap="butt"/>
<text transform="translate(448.25 1497.3) rotate(-90)" font-family="'Liberation Sans', Arial, sans-serif" font-size="22" font-weight="bold" text-anchor="end" textLength="44.3" lengthAdjust="spacingAndGlyphs">2007</text>
<line x1="460.17" y1="1487.8" x2="460.17" y2="1491.3" stroke="#333" stroke-width="1.1" stroke-linecap="butt"/>
<text transform="translate(467.47 1497.3) rotate(-90)" font-family="'Liberation Sans', Arial, sans-serif" font-size="22" font-weight="bold" text-anchor="end" textLength="44.3" lengthAdjust="spacingAndGlyphs">2008</text>
<line x1="479.38" y1="1487.8" x2="479.38" y2="1491.3" stroke="#333" stroke-width="1.1" stroke-linecap="butt"/>
<text transform="translate(486.69 1497.3) rotate(-90)" font-family="'Liberation Sans', Arial, sans-serif" font-size="22" font-weight="bold" text-anchor="end" textLength="44.3" lengthAdjust="spacingAndGlyphs">2009</text>
<line x1="498.6" y1="1487.8" x2="498.6" y2="1491.3" stroke="#333" stroke-width="1.1" stroke-linecap="butt"/>
<text transform="translate(505.9 1497.3) rotate(-90)" font-family="'Liberation Sans', Arial, sans-serif" font-size="22" font-weight="bold" text-anchor="end" textLength="44.3" lengthAdjust="spacingAndGlyphs">2010</text>
<line x1="517.81" y1="1487.8" x2="517.81" y2="1491.3" stroke="#333" stroke-width="1.1" stroke-linecap="butt"/>
<text transform="translate(525.11 1497.3) rotate(-90)" font-family="'Liberation Sans', Arial, sans-serif" font-size="22" font-weight="bold" text-anchor="end" textLength="44.3" lengthAdjust="spacingAndGlyphs">2011</text>
<line x1="537.03" y1="1487.8" x2="537.03" y2="1491.3" stroke="#333" stroke-width="1.1" stroke-linecap="butt"/>
<text transform="translate(544.33 1497.3) rotate(-90)" font-family="'Liberation Sans', Arial, sans-serif" font-size="22" font-weight="bold" text-anchor="end" textLength="44.3" lengthAdjust="spacingAndGlyphs">2012</text>
<line x1="556.25" y1="1487.8" x2="556.25" y2="1491.3" stroke="#333" stroke-width="1.1" stroke-linecap="butt"/>
<text transform="translate(563.54 1497.3) rotate(-90)" font-family="'Liberation Sans', Arial, sans-serif" font-size="22" font-weight="bold" text-anchor="end" textLength="44.3" lengthAdjust="spacingAndGlyphs">2013</text>
<line x1="575.46" y1="1487.8" x2="575.46" y2="1491.3" stroke="#333" stroke-width="1.1" stroke-linecap="butt"/>
<text transform="translate(582.76 1497.3) rotate(-90)" font-family="'Liberation Sans', Arial, sans-serif" font-size="22" font-weight="bold" text-anchor="end" textLength="44.3" lengthAdjust="spacingAndGlyphs">2014</text>
<line x1="594.67" y1="1487.8" x2="594.67" y2="1491.3" stroke="#333" stroke-width="1.1" stroke-linecap="butt"/>
<text transform="translate(601.97 1497.3) rotate(-90)" font-family="'Liberation Sans', Arial, sans-serif" font-size="22" font-weight="bold" text-anchor="end" textLength="44.3" lengthAdjust="spacingAndGlyphs">2015</text>
<line x1="613.89" y1="1487.8" x2="613.89" y2="1491.3" stroke="#333" stroke-width="1.1" stroke-linecap="butt"/>
<text transform="translate(621.19 1497.3) rotate(-90)" font-family="'Liberation Sans', Arial, sans-serif" font-size="22" font-weight="bold" text-anchor="end" textLength="44.3" lengthAdjust="spacingAndGlyphs">2016</text>
<line x1="633.1" y1="1487.8" x2="633.1" y2="1491.3" stroke="#333" stroke-width="1.1" stroke-linecap="butt"/>
<text transform="translate(640.4 1497.3) rotate(-90)" font-family="'Liberation Sans', Arial, sans-serif" font-size="22" font-weight="bold" text-anchor="end" textLength="44.3" lengthAdjust="spacingAndGlyphs">2017</text>
<line x1="652.32" y1="1487.8" x2="652.32" y2="1491.3" stroke="#333" stroke-width="1.1" stroke-linecap="butt"/>
<text transform="translate(659.62 1497.3) rotate(-90)" font-family="'Liberation Sans', Arial, sans-serif" font-size="22" font-weight="bold" text-anchor="end" textLength="44.3" lengthAdjust="spacingAndGlyphs">2018</text>
<line x1="671.53" y1="1487.8" x2="671.53" y2="1491.3" stroke="#333" stroke-width="1.1" stroke-linecap="butt"/>
<text transform="translate(678.83 1497.3) rotate(-90)" font-family="'Liberation Sans', Arial, sans-serif" font-size="22" font-weight="bold" text-anchor="end" textLength="44.3" lengthAdjust="spacingAndGlyphs">2019</text>
<text x="392.85" y="1566.3" font-family="'Liberation Sans', Arial, sans-serif" font-size="21.5" font-weight="bold" fill="#000" text-anchor="middle">year</text>
<text x="0" y="0" font-family="'Liberation Sans', Arial, sans-serif" font-size="22.6" font-weight="bold" fill="#000" text-anchor="middle" transform="translate(59.7 1309.3) rotate(-90)">The proportion of incidence cases</text>
<text x="701.5" y="1272.6" font-family="'Liberation Sans', Arial, sans-serif" font-size="15.6" font-weight="bold" fill="#000" text-anchor="start">Hematologic malignancies</text>
<rect x="702" y="1282.8" width="17.5" height="17.3" fill="#D43F3A"/>
<text x="728" y="1297.1" font-family="'Liberation Sans', Arial, sans-serif" font-size="15.5" font-weight="bold" fill="#000" text-anchor="start">Leukemia</text>
<rect x="702" y="1302.05" width="17.5" height="17.3" fill="#EEA236"/>
<text x="728" y="1316.35" font-family="'Liberation Sans', Arial, sans-serif" font-size="15.5" font-weight="bold" fill="#000" text-anchor="start">Multiple myeloma</text>
<rect x="702" y="1321.3" width="17.5" height="17.3" fill="#5CB85C"/>
<text x="728" y="1335.6" font-family="'Liberation Sans', Arial, sans-serif" font-size="15.5" font-weight="bold" fill="#000" text-anchor="start">Non-Hodgkin lymphoma</text>
<rect x="702" y="1340.55" width="17.5" height="17.3" fill="#46B8DA"/>
<text x="728" y="1354.85" font-family="'Liberation Sans', Arial, sans-serif" font-size="15.5" font-weight="bold" fill="#000" text-anchor="start">Hodgkin lymphoma</text>
<rect x="1011.3" y="1101.7" width="579.8" height="27.8" fill="#D9D9D9"/>
<text x="1301.2" y="1123.2" font-family="'Liberation Sans', Arial, sans-serif" font-size="20" font-weight="normal" fill="#1A1A1A" text-anchor="middle">Global</text>
<rect x="1011.3" y="1129.5" width="579.8" height="358.3" fill="#EBEBEB"/>
<line x1="1011.3" y1="1472" x2="1591.1" y2="1472" stroke="#FFFFFF" stroke-width="1.1" stroke-linecap="butt"/>
<line x1="1011.3" y1="1390.62" x2="1591.1" y2="1390.62" stroke="#FFFFFF" stroke-width="1.1" stroke-linecap="butt"/>
<line x1="1011.3" y1="1309.25" x2="1591.1" y2="1309.25" stroke="#FFFFFF" stroke-width="1.1" stroke-linecap="butt"/>
<line x1="1011.3" y1="1227.88" x2="1591.1" y2="1227.88" stroke="#FFFFFF" stroke-width="1.1" stroke-linecap="butt"/>
<line x1="1011.3" y1="1146.5" x2="1591.1" y2="1146.5" stroke="#FFFFFF" stroke-width="1.1" stroke-linecap="butt"/>
<line x1="1011.3" y1="1431.31" x2="1591.1" y2="1431.31" stroke="#F5F5F5" stroke-width="0.5" stroke-linecap="butt"/>
<line x1="1011.3" y1="1349.94" x2="1591.1" y2="1349.94" stroke="#F5F5F5" stroke-width="0.5" stroke-linecap="butt"/>
<line x1="1011.3" y1="1268.56" x2="1591.1" y2="1268.56" stroke="#F5F5F5" stroke-width="0.5" stroke-linecap="butt"/>
<line x1="1011.3" y1="1187.19" x2="1591.1" y2="1187.19" stroke="#F5F5F5" stroke-width="0.5" stroke-linecap="butt"/>
<line x1="1022.5" y1="1129.5" x2="1022.5" y2="1487.8" stroke="#FFFFFF" stroke-width="1.1" stroke-linecap="butt"/>
<line x1="1041.73" y1="1129.5" x2="1041.73" y2="1487.8" stroke="#FFFFFF" stroke-width="1.1" stroke-linecap="butt"/>
<line x1="1060.96" y1="1129.5" x2="1060.96" y2="1487.8" stroke="#FFFFFF" stroke-width="1.1" stroke-linecap="butt"/>
<line x1="1080.19" y1="1129.5" x2="1080.19" y2="1487.8" stroke="#FFFFFF" stroke-width="1.1" stroke-linecap="butt"/>
<line x1="1099.42" y1="1129.5" x2="1099.42" y2="1487.8" stroke="#FFFFFF" stroke-width="1.1" stroke-linecap="butt"/>
<line x1="1118.65" y1="1129.5" x2="1118.65" y2="1487.8" stroke="#FFFFFF" stroke-width="1.1" stroke-linecap="butt"/>
<line x1="1137.88" y1="1129.5" x2="1137.88" y2="1487.8" stroke="#FFFFFF" stroke-width="1.1" stroke-linecap="butt"/>
<line x1="1157.11" y1="1129.5" x2="1157.11" y2="1487.8" stroke="#FFFFFF" stroke-width="1.1" stroke-linecap="butt"/>
<line x1="1176.34" y1="1129.5" x2="1176.34" y2="1487.8" stroke="#FFFFFF" stroke-width="1.1" stroke-linecap="butt"/>
<line x1="1195.57" y1="1129.5" x2="1195.57" y2="1487.8" stroke="#FFFFFF" stroke-width="1.1" stroke-linecap="butt"/>
<line x1="1214.8" y1="1129.5" x2="1214.8" y2="1487.8" stroke="#FFFFFF" stroke-width="1.1" stroke-linecap="butt"/>
<line x1="1234.03" y1="1129.5" x2="1234.03" y2="1487.8" stroke="#FFFFFF" stroke-width="1.1" stroke-linecap="butt"/>
<line x1="1253.26" y1="1129.5" x2="1253.26" y2="1487.8" stroke="#FFFFFF" stroke-width="1.1" stroke-linecap="butt"/>
<line x1="1272.49" y1="1129.5" x2="1272.49" y2="1487.8" stroke="#FFFFFF" stroke-width="1.1" stroke-linecap="butt"/>
<line x1="1291.72" y1="1129.5" x2="1291.72" y2="1487.8" stroke="#FFFFFF" stroke-width="1.1" stroke-linecap="butt"/>
<line x1="1310.95" y1="1129.5" x2="1310.95" y2="1487.8" stroke="#FFFFFF" stroke-width="1.1" stroke-linecap="butt"/>
<line x1="1330.18" y1="1129.5" x2="1330.18" y2="1487.8" stroke="#FFFFFF" stroke-width="1.1" stroke-linecap="butt"/>
<line x1="1349.41" y1="1129.5" x2="1349.41" y2="1487.8" stroke="#FFFFFF" stroke-width="1.1" stroke-linecap="butt"/>
<line x1="1368.64" y1="1129.5" x2="1368.64" y2="1487.8" stroke="#FFFFFF" stroke-width="1.1" stroke-linecap="butt"/>
<line x1="1387.87" y1="1129.5" x2="1387.87" y2="1487.8" stroke="#FFFFFF" stroke-width="1.1" stroke-linecap="butt"/>
<line x1="1407.1" y1="1129.5" x2="1407.1" y2="1487.8" stroke="#FFFFFF" stroke-width="1.1" stroke-linecap="butt"/>
<line x1="1426.33" y1="1129.5" x2="1426.33" y2="1487.8" stroke="#FFFFFF" stroke-width="1.1" stroke-linecap="butt"/>
<line x1="1445.56" y1="1129.5" x2="1445.56" y2="1487.8" stroke="#FFFFFF" stroke-width="1.1" stroke-linecap="butt"/>
<line x1="1464.79" y1="1129.5" x2="1464.79" y2="1487.8" stroke="#FFFFFF" stroke-width="1.1" stroke-linecap="butt"/>
<line x1="1484.02" y1="1129.5" x2="1484.02" y2="1487.8" stroke="#FFFFFF" stroke-width="1.1" stroke-linecap="butt"/>
<line x1="1503.25" y1="1129.5" x2="1503.25" y2="1487.8" stroke="#FFFFFF" stroke-width="1.1" stroke-linecap="butt"/>
<line x1="1522.48" y1="1129.5" x2="1522.48" y2="1487.8" stroke="#FFFFFF" stroke-width="1.1" stroke-linecap="butt"/>
<line x1="1541.71" y1="1129.5" x2="1541.71" y2="1487.8" stroke="#FFFFFF" stroke-width="1.1" stroke-linecap="butt"/>
<line x1="1560.94" y1="1129.5" x2="1560.94" y2="1487.8" stroke="#FFFFFF" stroke-width="1.1" stroke-linecap="butt"/>
<line x1="1580.17" y1="1129.5" x2="1580.17" y2="1487.8" stroke="#FFFFFF" stroke-width="1.1" stroke-linecap="butt"/>
<rect x="1012.88" y="1146.5" width="576.9" height="325.5" fill="#F3F1F1"/>
<rect x="1013.93" y="1452.81" width="17.13" height="19.49" fill="#46B8DA"/>
<rect x="1013.93" y="1365.34" width="17.13" height="87.77" fill="#5CB85C"/>
<rect x="1013.93" y="1329.25" width="17.13" height="36.39" fill="#EEA236"/>
<rect x="1013.93" y="1146.5" width="17.13" height="183.05" fill="#D43F3A"/>
<text x="1022.5" y="1466.61" font-family="'Liberation Sans', Arial, sans-serif" font-size="9.6" font-weight="normal" fill="#1A1A1A" text-anchor="middle" stroke="#1A1A1A" stroke-width="0.25">5.9</text>
<text x="1022.5" y="1413.28" font-family="'Liberation Sans', Arial, sans-serif" font-size="9.6" font-weight="normal" fill="#1A1A1A" text-anchor="middle" stroke="#1A1A1A" stroke-width="0.25">26.9</text>
<text x="1022.5" y="1351.5" font-family="'Liberation Sans', Arial, sans-serif" font-size="9.6" font-weight="normal" fill="#1A1A1A" text-anchor="middle" stroke="#1A1A1A" stroke-width="0.25">11.1</text>
<text x="1022.5" y="1242.07" font-family="'Liberation Sans', Arial, sans-serif" font-size="9.6" font-weight="normal" fill="#1A1A1A" text-anchor="middle" stroke="#1A1A1A" stroke-width="0.25">56.2</text>
<rect x="1033.16" y="1453.12" width="17.13" height="19.18" fill="#46B8DA"/>
<rect x="1033.16" y="1364.26" width="17.13" height="89.16" fill="#5CB85C"/>
<rect x="1033.16" y="1327.8" width="17.13" height="36.76" fill="#EEA236"/>
<rect x="1033.16" y="1146.5" width="17.13" height="181.6" fill="#D43F3A"/>
<text x="1041.73" y="1466.76" font-family="'Liberation Sans', Arial, sans-serif" font-size="9.6" font-weight="normal" fill="#1A1A1A" text-anchor="middle" stroke="#1A1A1A" stroke-width="0.25">5.8</text>
<text x="1041.73" y="1412.89" font-family="'Liberation Sans', Arial, sans-serif" font-size="9.6" font-weight="normal" fill="#1A1A1A" text-anchor="middle" stroke="#1A1A1A" stroke-width="0.25">27.3</text>
<text x="1041.73" y="1350.23" font-family="'Liberation Sans', Arial, sans-serif" font-size="9.6" font-weight="normal" fill="#1A1A1A" text-anchor="middle" stroke="#1A1A1A" stroke-width="0.25">11.2</text>
<text x="1041.73" y="1241.35" font-family="'Liberation Sans', Arial, sans-serif" font-size="9.6" font-weight="normal" fill="#1A1A1A" text-anchor="middle" stroke="#1A1A1A" stroke-width="0.25">55.7</text>
<rect x="1052.39" y="1453.45" width="17.13" height="18.85" fill="#46B8DA"/>
<rect x="1052.39" y="1363.28" width="17.13" height="90.46" fill="#5CB85C"/>
<rect x="1052.39" y="1326.18" width="17.13" height="37.41" fill="#EEA236"/>
<rect x="1052.39" y="1146.5" width="17.13" height="179.98" fill="#D43F3A"/>
<text x="1060.96" y="1466.92" font-family="'Liberation Sans', Arial, sans-serif" font-size="9.6" font-weight="normal" fill="#1A1A1A" text-anchor="middle" stroke="#1A1A1A" stroke-width="0.25">5.7</text>
<text x="1060.96" y="1412.56" font-family="'Liberation Sans', Arial, sans-serif" font-size="9.6" font-weight="normal" fill="#1A1A1A" text-anchor="middle" stroke="#1A1A1A" stroke-width="0.25">27.7</text>
<text x="1060.96" y="1348.93" font-family="'Liberation Sans', Arial, sans-serif" font-size="9.6" font-weight="normal" fill="#1A1A1A" text-anchor="middle" stroke="#1A1A1A" stroke-width="0.25">11.4</text>
<text x="1060.96" y="1240.54" font-family="'Liberation Sans', Arial, sans-serif" font-size="9.6" font-weight="normal" fill="#1A1A1A" text-anchor="middle" stroke="#1A1A1A" stroke-width="0.25">55.2</text>
<rect x="1071.62" y="1453.75" width="17.13" height="18.55" fill="#46B8DA"/>
<rect x="1071.62" y="1361.87" width="17.13" height="92.18" fill="#5CB85C"/>
<rect x="1071.62" y="1324.4" width="17.13" height="37.77" fill="#EEA236"/>
<rect x="1071.62" y="1146.5" width="17.13" height="178.2" fill="#D43F3A"/>
<text x="1080.19" y="1467.08" font-family="'Liberation Sans', Arial, sans-serif" font-size="9.6" font-weight="normal" fill="#1A1A1A" text-anchor="middle" stroke="#1A1A1A" stroke-width="0.25">5.6</text>
<text x="1080.19" y="1412.01" font-family="'Liberation Sans', Arial, sans-serif" font-size="9.6" font-weight="normal" fill="#1A1A1A" text-anchor="middle" stroke="#1A1A1A" stroke-width="0.25">28.2</text>
<text x="1080.19" y="1347.34" font-family="'Liberation Sans', Arial, sans-serif" font-size="9.6" font-weight="normal" fill="#1A1A1A" text-anchor="middle" stroke="#1A1A1A" stroke-width="0.25">11.5</text>
<text x="1080.19" y="1239.65" font-family="'Liberation Sans', Arial, sans-serif" font-size="9.6" font-weight="normal" fill="#1A1A1A" text-anchor="middle" stroke="#1A1A1A" stroke-width="0.25">54.6</text>
<rect x="1090.86" y="1454.1" width="17.13" height="18.2" fill="#46B8DA"/>
<rect x="1090.86" y="1361" width="17.13" height="93.39" fill="#5CB85C"/>
<rect x="1090.86" y="1322.92" width="17.13" height="38.38" fill="#EEA236"/>
<rect x="1090.86" y="1146.5" width="17.13" height="176.72" fill="#D43F3A"/>
<text x="1099.42" y="1467.25" font-family="'Liberation Sans', Arial, sans-serif" font-size="9.6" font-weight="normal" fill="#1A1A1A" text-anchor="middle" stroke="#1A1A1A" stroke-width="0.25">5.5</text>
<text x="1099.42" y="1411.75" font-family="'Liberation Sans', Arial, sans-serif" font-size="9.6" font-weight="normal" fill="#1A1A1A" text-anchor="middle" stroke="#1A1A1A" stroke-width="0.25">28.6</text>
<text x="1099.42" y="1346.16" font-family="'Liberation Sans', Arial, sans-serif" font-size="9.6" font-weight="normal" fill="#1A1A1A" text-anchor="middle" stroke="#1A1A1A" stroke-width="0.25">11.7</text>
<text x="1099.42" y="1238.91" font-family="'Liberation Sans', Arial, sans-serif" font-size="9.6" font-weight="normal" fill="#1A1A1A" text-anchor="middle" stroke="#1A1A1A" stroke-width="0.25">54.2</text>
<rect x="1110.09" y="1454.44" width="17.13" height="17.86" fill="#46B8DA"/>
<rect x="1110.09" y="1360.14" width="17.13" height="94.6" fill="#5CB85C"/>
<rect x="1110.09" y="1321.44" width="17.13" height="39" fill="#EEA236"/>
<rect x="1110.09" y="1146.5" width="17.13" height="175.24" fill="#D43F3A"/>
<text x="1118.65" y="1467.42" font-family="'Liberation Sans', Arial, sans-serif" font-size="9.6" font-weight="normal" fill="#1A1A1A" text-anchor="middle" stroke="#1A1A1A" stroke-width="0.25">5.4</text>
<text x="1118.65" y="1411.49" font-family="'Liberation Sans', Arial, sans-serif" font-size="9.6" font-weight="normal" fill="#1A1A1A" text-anchor="middle" stroke="#1A1A1A" stroke-width="0.25">29</text>
<text x="1118.65" y="1344.99" font-family="'Liberation Sans', Arial, sans-serif" font-size="9.6" font-weight="normal" fill="#1A1A1A" text-anchor="middle" stroke="#1A1A1A" stroke-width="0.25">11.9</text>
<text x="1118.65" y="1238.17" font-family="'Liberation Sans', Arial, sans-serif" font-size="9.6" font-weight="normal" fill="#1A1A1A" text-anchor="middle" stroke="#1A1A1A" stroke-width="0.25">53.8</text>
<rect x="1129.32" y="1454.75" width="17.13" height="17.55" fill="#46B8DA"/>
<rect x="1129.32" y="1359.38" width="17.13" height="95.67" fill="#5CB85C"/>
<rect x="1129.32" y="1319.99" width="17.13" height="39.69" fill="#EEA236"/>
<rect x="1129.32" y="1146.5" width="17.13" height="173.79" fill="#D43F3A"/>
<text x="1137.88" y="1467.57" font-family="'Liberation Sans', Arial, sans-serif" font-size="9.6" font-weight="normal" fill="#1A1A1A" text-anchor="middle" stroke="#1A1A1A" stroke-width="0.25">5.3</text>
<text x="1137.88" y="1411.26" font-family="'Liberation Sans', Arial, sans-serif" font-size="9.6" font-weight="normal" fill="#1A1A1A" text-anchor="middle" stroke="#1A1A1A" stroke-width="0.25">29.3</text>
<text x="1137.88" y="1343.88" font-family="'Liberation Sans', Arial, sans-serif" font-size="9.6" font-weight="normal" fill="#1A1A1A" text-anchor="middle" stroke="#1A1A1A" stroke-width="0.25">12.1</text>
<text x="1137.88" y="1237.45" font-family="'Liberation Sans', Arial, sans-serif" font-size="9.6" font-weight="normal" fill="#1A1A1A" text-anchor="middle" stroke="#1A1A1A" stroke-width="0.25">53.3</text>
<rect x="1148.55" y="1455.09" width="17.13" height="17.21" fill="#46B8DA"/>
<rect x="1148.55" y="1358.84" width="17.13" height="96.55" fill="#5CB85C"/>
<rect x="1148.55" y="1318.84" width="17.13" height="40.3" fill="#EEA236"/>
<rect x="1148.55" y="1146.5" width="17.13" height="172.64" fill="#D43F3A"/>
<text x="1157.11" y="1467.75" font-family="'Liberation Sans', Arial, sans-serif" font-size="9.6" font-weight="normal" fill="#1A1A1A" text-anchor="middle" stroke="#1A1A1A" stroke-width="0.25">5.2</text>
<text x="1157.11" y="1411.17" font-family="'Liberation Sans', Arial, sans-serif" font-size="9.6" font-weight="normal" fill="#1A1A1A" text-anchor="middle" stroke="#1A1A1A" stroke-width="0.25">29.6</text>
<text x="1157.11" y="1343.04" font-family="'Liberation Sans', Arial, sans-serif" font-size="9.6" font-weight="normal" fill="#1A1A1A" text-anchor="middle" stroke="#1A1A1A" stroke-width="0.25">12.3</text>
<text x="1157.11" y="1236.87" font-family="'Liberation Sans', Arial, sans-serif" font-size="9.6" font-weight="normal" fill="#1A1A1A" text-anchor="middle" stroke="#1A1A1A" stroke-width="0.25">53</text>
<rect x="1167.77" y="1455.42" width="17.13" height="16.88" fill="#46B8DA"/>
<rect x="1167.77" y="1358.51" width="17.13" height="97.2" fill="#5CB85C"/>
<rect x="1167.77" y="1317.87" width="17.13" height="40.95" fill="#EEA236"/>
<rect x="1167.77" y="1146.5" width="17.13" height="171.67" fill="#D43F3A"/>
<text x="1176.34" y="1467.91" font-family="'Liberation Sans', Arial, sans-serif" font-size="9.6" font-weight="normal" fill="#1A1A1A" text-anchor="middle" stroke="#1A1A1A" stroke-width="0.25">5.1</text>
<text x="1176.34" y="1411.17" font-family="'Liberation Sans', Arial, sans-serif" font-size="9.6" font-weight="normal" fill="#1A1A1A" text-anchor="middle" stroke="#1A1A1A" stroke-width="0.25">29.8</text>
<text x="1176.34" y="1342.39" font-family="'Liberation Sans', Arial, sans-serif" font-size="9.6" font-weight="normal" fill="#1A1A1A" text-anchor="middle" stroke="#1A1A1A" stroke-width="0.25">12.5</text>
<text x="1176.34" y="1236.38" font-family="'Liberation Sans', Arial, sans-serif" font-size="9.6" font-weight="normal" fill="#1A1A1A" text-anchor="middle" stroke="#1A1A1A" stroke-width="0.25">52.7</text>
<rect x="1187" y="1455.72" width="17.13" height="16.58" fill="#46B8DA"/>
<rect x="1187" y="1358.08" width="17.13" height="97.95" fill="#5CB85C"/>
<rect x="1187" y="1317.06" width="17.13" height="41.31" fill="#EEA236"/>
<rect x="1187" y="1146.5" width="17.13" height="170.86" fill="#D43F3A"/>
<text x="1195.57" y="1468.06" font-family="'Liberation Sans', Arial, sans-serif" font-size="9.6" font-weight="normal" fill="#1A1A1A" text-anchor="middle" stroke="#1A1A1A" stroke-width="0.25">5</text>
<text x="1195.57" y="1411.1" font-family="'Liberation Sans', Arial, sans-serif" font-size="9.6" font-weight="normal" fill="#1A1A1A" text-anchor="middle" stroke="#1A1A1A" stroke-width="0.25">30</text>
<text x="1195.57" y="1341.77" font-family="'Liberation Sans', Arial, sans-serif" font-size="9.6" font-weight="normal" fill="#1A1A1A" text-anchor="middle" stroke="#1A1A1A" stroke-width="0.25">12.6</text>
<text x="1195.57" y="1235.98" font-family="'Liberation Sans', Arial, sans-serif" font-size="9.6" font-weight="normal" fill="#1A1A1A" text-anchor="middle" stroke="#1A1A1A" stroke-width="0.25">52.4</text>
<rect x="1206.23" y="1456.05" width="17.13" height="16.25" fill="#46B8DA"/>
<rect x="1206.23" y="1358.08" width="17.13" height="98.28" fill="#5CB85C"/>
<rect x="1206.23" y="1316.41" width="17.13" height="41.96" fill="#EEA236"/>
<rect x="1206.23" y="1146.5" width="17.13" height="170.21" fill="#D43F3A"/>
<text x="1214.8" y="1468.23" font-family="'Liberation Sans', Arial, sans-serif" font-size="9.6" font-weight="normal" fill="#1A1A1A" text-anchor="middle" stroke="#1A1A1A" stroke-width="0.25">4.9</text>
<text x="1214.8" y="1411.26" font-family="'Liberation Sans', Arial, sans-serif" font-size="9.6" font-weight="normal" fill="#1A1A1A" text-anchor="middle" stroke="#1A1A1A" stroke-width="0.25">30.1</text>
<text x="1214.8" y="1341.44" font-family="'Liberation Sans', Arial, sans-serif" font-size="9.6" font-weight="normal" fill="#1A1A1A" text-anchor="middle" stroke="#1A1A1A" stroke-width="0.25">12.8</text>
<text x="1214.8" y="1235.66" font-family="'Liberation Sans', Arial, sans-serif" font-size="9.6" font-weight="normal" fill="#1A1A1A" text-anchor="middle" stroke="#1A1A1A" stroke-width="0.25">52.2</text>
<rect x="1225.46" y="1456.36" width="17.13" height="15.94" fill="#46B8DA"/>
<rect x="1225.46" y="1358.29" width="17.13" height="98.37" fill="#5CB85C"/>
<rect x="1225.46" y="1315.93" width="17.13" height="42.66" fill="#EEA236"/>
<rect x="1225.46" y="1146.5" width="17.13" height="169.73" fill="#D43F3A"/>
<text x="1234.03" y="1468.38" font-family="'Liberation Sans', Arial, sans-serif" font-size="9.6" font-weight="normal" fill="#1A1A1A" text-anchor="middle" stroke="#1A1A1A" stroke-width="0.25">4.8</text>
<text x="1234.03" y="1411.52" font-family="'Liberation Sans', Arial, sans-serif" font-size="9.6" font-weight="normal" fill="#1A1A1A" text-anchor="middle" stroke="#1A1A1A" stroke-width="0.25">30.1</text>
<text x="1234.03" y="1341.31" font-family="'Liberation Sans', Arial, sans-serif" font-size="9.6" font-weight="normal" fill="#1A1A1A" text-anchor="middle" stroke="#1A1A1A" stroke-width="0.25">13</text>
<text x="1234.03" y="1235.41" font-family="'Liberation Sans', Arial, sans-serif" font-size="9.6" font-weight="normal" fill="#1A1A1A" text-anchor="middle" stroke="#1A1A1A" stroke-width="0.25">52</text>
<rect x="1244.69" y="1456.38" width="17.13" height="15.92" fill="#46B8DA"/>
<rect x="1244.69" y="1357.75" width="17.13" height="98.93" fill="#5CB85C"/>
<rect x="1244.69" y="1314.46" width="17.13" height="43.59" fill="#EEA236"/>
<rect x="1244.69" y="1146.5" width="17.13" height="168.26" fill="#D43F3A"/>
<text x="1253.26" y="1468.39" font-family="'Liberation Sans', Arial, sans-serif" font-size="9.6" font-weight="normal" fill="#1A1A1A" text-anchor="middle" stroke="#1A1A1A" stroke-width="0.25">4.8</text>
<text x="1253.26" y="1411.26" font-family="'Liberation Sans', Arial, sans-serif" font-size="9.6" font-weight="normal" fill="#1A1A1A" text-anchor="middle" stroke="#1A1A1A" stroke-width="0.25">30.3</text>
<text x="1253.26" y="1340.3" font-family="'Liberation Sans', Arial, sans-serif" font-size="9.6" font-weight="normal" fill="#1A1A1A" text-anchor="middle" stroke="#1A1A1A" stroke-width="0.25">13.3</text>
<text x="1253.26" y="1234.68" font-family="'Liberation Sans', Arial, sans-serif" font-size="9.6" font-weight="normal" fill="#1A1A1A" text-anchor="middle" stroke="#1A1A1A" stroke-width="0.25">51.6</text>
<rect x="1263.92" y="1456.69" width="17.13" height="15.61" fill="#46B8DA"/>
<rect x="1263.92" y="1356.98" width="17.13" height="100" fill="#5CB85C"/>
<rect x="1263.92" y="1313.32" width="17.13" height="43.96" fill="#EEA236"/>
<rect x="1263.92" y="1146.5" width="17.13" height="167.12" fill="#D43F3A"/>
<text x="1272.49" y="1468.54" font-family="'Liberation Sans', Arial, sans-serif" font-size="9.6" font-weight="normal" fill="#1A1A1A" text-anchor="middle" stroke="#1A1A1A" stroke-width="0.25">4.7</text>
<text x="1272.49" y="1411.03" font-family="'Liberation Sans', Arial, sans-serif" font-size="9.6" font-weight="normal" fill="#1A1A1A" text-anchor="middle" stroke="#1A1A1A" stroke-width="0.25">30.6</text>
<text x="1272.49" y="1339.35" font-family="'Liberation Sans', Arial, sans-serif" font-size="9.6" font-weight="normal" fill="#1A1A1A" text-anchor="middle" stroke="#1A1A1A" stroke-width="0.25">13.4</text>
<text x="1272.49" y="1234.11" font-family="'Liberation Sans', Arial, sans-serif" font-size="9.6" font-weight="normal" fill="#1A1A1A" text-anchor="middle" stroke="#1A1A1A" stroke-width="0.25">51.2</text>
<rect x="1283.15" y="1457.03" width="17.13" height="15.27" fill="#46B8DA"/>
<rect x="1283.15" y="1356.45" width="17.13" height="100.88" fill="#5CB85C"/>
<rect x="1283.15" y="1312.18" width="17.13" height="44.57" fill="#EEA236"/>
<rect x="1283.15" y="1146.5" width="17.13" height="165.98" fill="#D43F3A"/>
<text x="1291.72" y="1468.71" font-family="'Liberation Sans', Arial, sans-serif" font-size="9.6" font-weight="normal" fill="#1A1A1A" text-anchor="middle" stroke="#1A1A1A" stroke-width="0.25">4.6</text>
<text x="1291.72" y="1410.94" font-family="'Liberation Sans', Arial, sans-serif" font-size="9.6" font-weight="normal" fill="#1A1A1A" text-anchor="middle" stroke="#1A1A1A" stroke-width="0.25">30.9</text>
<text x="1291.72" y="1338.51" font-family="'Liberation Sans', Arial, sans-serif" font-size="9.6" font-weight="normal" fill="#1A1A1A" text-anchor="middle" stroke="#1A1A1A" stroke-width="0.25">13.6</text>
<text x="1291.72" y="1233.54" font-family="'Liberation Sans', Arial, sans-serif" font-size="9.6" font-weight="normal" fill="#1A1A1A" text-anchor="middle" stroke="#1A1A1A" stroke-width="0.25">50.9</text>
<rect x="1302.38" y="1457.35" width="17.13" height="14.95" fill="#46B8DA"/>
<rect x="1302.38" y="1355.8" width="17.13" height="101.86" fill="#5CB85C"/>
<rect x="1302.38" y="1311.2" width="17.13" height="44.89" fill="#EEA236"/>
<rect x="1302.38" y="1146.5" width="17.13" height="165" fill="#D43F3A"/>
<text x="1310.95" y="1468.88" font-family="'Liberation Sans', Arial, sans-serif" font-size="9.6" font-weight="normal" fill="#1A1A1A" text-anchor="middle" stroke="#1A1A1A" stroke-width="0.25">4.5</text>
<text x="1310.95" y="1410.77" font-family="'Liberation Sans', Arial, sans-serif" font-size="9.6" font-weight="normal" fill="#1A1A1A" text-anchor="middle" stroke="#1A1A1A" stroke-width="0.25">31.2</text>
<text x="1310.95" y="1337.7" font-family="'Liberation Sans', Arial, sans-serif" font-size="9.6" font-weight="normal" fill="#1A1A1A" text-anchor="middle" stroke="#1A1A1A" stroke-width="0.25">13.7</text>
<text x="1310.95" y="1233.05" font-family="'Liberation Sans', Arial, sans-serif" font-size="9.6" font-weight="normal" fill="#1A1A1A" text-anchor="middle" stroke="#1A1A1A" stroke-width="0.25">50.6</text>
<rect x="1321.62" y="1457.35" width="17.13" height="14.95" fill="#46B8DA"/>
<rect x="1321.62" y="1354.82" width="17.13" height="102.83" fill="#5CB85C"/>
<rect x="1321.62" y="1309.9" width="17.13" height="45.22" fill="#EEA236"/>
<rect x="1321.62" y="1146.5" width="17.13" height="163.7" fill="#D43F3A"/>
<text x="1330.18" y="1468.88" font-family="'Liberation Sans', Arial, sans-serif" font-size="9.6" font-weight="normal" fill="#1A1A1A" text-anchor="middle" stroke="#1A1A1A" stroke-width="0.25">4.5</text>
<text x="1330.18" y="1410.29" font-family="'Liberation Sans', Arial, sans-serif" font-size="9.6" font-weight="normal" fill="#1A1A1A" text-anchor="middle" stroke="#1A1A1A" stroke-width="0.25">31.5</text>
<text x="1330.18" y="1336.56" font-family="'Liberation Sans', Arial, sans-serif" font-size="9.6" font-weight="normal" fill="#1A1A1A" text-anchor="middle" stroke="#1A1A1A" stroke-width="0.25">13.8</text>
<text x="1330.18" y="1232.4" font-family="'Liberation Sans', Arial, sans-serif" font-size="9.6" font-weight="normal" fill="#1A1A1A" text-anchor="middle" stroke="#1A1A1A" stroke-width="0.25">50.2</text>
<rect x="1340.85" y="1457.66" width="17.13" height="14.64" fill="#46B8DA"/>
<rect x="1340.85" y="1353.73" width="17.13" height="104.24" fill="#5CB85C"/>
<rect x="1340.85" y="1308.44" width="17.13" height="45.59" fill="#EEA236"/>
<rect x="1340.85" y="1146.5" width="17.13" height="162.24" fill="#D43F3A"/>
<text x="1349.41" y="1469.03" font-family="'Liberation Sans', Arial, sans-serif" font-size="9.6" font-weight="normal" fill="#1A1A1A" text-anchor="middle" stroke="#1A1A1A" stroke-width="0.25">4.4</text>
<text x="1349.41" y="1409.89" font-family="'Liberation Sans', Arial, sans-serif" font-size="9.6" font-weight="normal" fill="#1A1A1A" text-anchor="middle" stroke="#1A1A1A" stroke-width="0.25">31.9</text>
<text x="1349.41" y="1335.28" font-family="'Liberation Sans', Arial, sans-serif" font-size="9.6" font-weight="normal" fill="#1A1A1A" text-anchor="middle" stroke="#1A1A1A" stroke-width="0.25">13.9</text>
<text x="1349.41" y="1231.67" font-family="'Liberation Sans', Arial, sans-serif" font-size="9.6" font-weight="normal" fill="#1A1A1A" text-anchor="middle" stroke="#1A1A1A" stroke-width="0.25">49.7</text>
<rect x="1360.07" y="1457.69" width="17.13" height="14.61" fill="#46B8DA"/>
<rect x="1360.07" y="1352.66" width="17.13" height="105.33" fill="#5CB85C"/>
<rect x="1360.07" y="1307.14" width="17.13" height="45.82" fill="#EEA236"/>
<rect x="1360.07" y="1146.5" width="17.13" height="160.94" fill="#D43F3A"/>
<text x="1368.64" y="1469.05" font-family="'Liberation Sans', Arial, sans-serif" font-size="9.6" font-weight="normal" fill="#1A1A1A" text-anchor="middle" stroke="#1A1A1A" stroke-width="0.25">4.4</text>
<text x="1368.64" y="1409.38" font-family="'Liberation Sans', Arial, sans-serif" font-size="9.6" font-weight="normal" fill="#1A1A1A" text-anchor="middle" stroke="#1A1A1A" stroke-width="0.25">32.3</text>
<text x="1368.64" y="1334.1" font-family="'Liberation Sans', Arial, sans-serif" font-size="9.6" font-weight="normal" fill="#1A1A1A" text-anchor="middle" stroke="#1A1A1A" stroke-width="0.25">14</text>
<text x="1368.64" y="1231.02" font-family="'Liberation Sans', Arial, sans-serif" font-size="9.6" font-weight="normal" fill="#1A1A1A" text-anchor="middle" stroke="#1A1A1A" stroke-width="0.25">49.4</text>
<rect x="1379.3" y="1458.02" width="17.13" height="14.28" fill="#46B8DA"/>
<rect x="1379.3" y="1351.69" width="17.13" height="106.63" fill="#5CB85C"/>
<rect x="1379.3" y="1305.84" width="17.13" height="46.15" fill="#EEA236"/>
<rect x="1379.3" y="1146.5" width="17.13" height="159.64" fill="#D43F3A"/>
<text x="1387.87" y="1469.21" font-family="'Liberation Sans', Arial, sans-serif" font-size="9.6" font-weight="normal" fill="#1A1A1A" text-anchor="middle" stroke="#1A1A1A" stroke-width="0.25">4.3</text>
<text x="1387.87" y="1409.05" font-family="'Liberation Sans', Arial, sans-serif" font-size="9.6" font-weight="normal" fill="#1A1A1A" text-anchor="middle" stroke="#1A1A1A" stroke-width="0.25">32.7</text>
<text x="1387.87" y="1332.96" font-family="'Liberation Sans', Arial, sans-serif" font-size="9.6" font-weight="normal" fill="#1A1A1A" text-anchor="middle" stroke="#1A1A1A" stroke-width="0.25">14.1</text>
<text x="1387.87" y="1230.37" font-family="'Liberation Sans', Arial, sans-serif" font-size="9.6" font-weight="normal" fill="#1A1A1A" text-anchor="middle" stroke="#1A1A1A" stroke-width="0.25">49</text>
<rect x="1398.53" y="1458.33" width="17.13" height="13.97" fill="#46B8DA"/>
<rect x="1398.53" y="1350.91" width="17.13" height="107.71" fill="#5CB85C"/>
<rect x="1398.53" y="1304.37" width="17.13" height="46.85" fill="#EEA236"/>
<rect x="1398.53" y="1146.5" width="17.13" height="158.17" fill="#D43F3A"/>
<text x="1407.1" y="1469.36" font-family="'Liberation Sans', Arial, sans-serif" font-size="9.6" font-weight="normal" fill="#1A1A1A" text-anchor="middle" stroke="#1A1A1A" stroke-width="0.25">4.2</text>
<text x="1407.1" y="1408.82" font-family="'Liberation Sans', Arial, sans-serif" font-size="9.6" font-weight="normal" fill="#1A1A1A" text-anchor="middle" stroke="#1A1A1A" stroke-width="0.25">33</text>
<text x="1407.1" y="1331.84" font-family="'Liberation Sans', Arial, sans-serif" font-size="9.6" font-weight="normal" fill="#1A1A1A" text-anchor="middle" stroke="#1A1A1A" stroke-width="0.25">14.3</text>
<text x="1407.1" y="1229.63" font-family="'Liberation Sans', Arial, sans-serif" font-size="9.6" font-weight="normal" fill="#1A1A1A" text-anchor="middle" stroke="#1A1A1A" stroke-width="0.25">48.5</text>
<rect x="1417.76" y="1458.34" width="17.13" height="13.96" fill="#46B8DA"/>
<rect x="1417.76" y="1349.73" width="17.13" height="108.91" fill="#5CB85C"/>
<rect x="1417.76" y="1302.91" width="17.13" height="47.13" fill="#EEA236"/>
<rect x="1417.76" y="1146.5" width="17.13" height="156.71" fill="#D43F3A"/>
<text x="1426.33" y="1469.37" font-family="'Liberation Sans', Arial, sans-serif" font-size="9.6" font-weight="normal" fill="#1A1A1A" text-anchor="middle" stroke="#1A1A1A" stroke-width="0.25">4.2</text>
<text x="1426.33" y="1408.24" font-family="'Liberation Sans', Arial, sans-serif" font-size="9.6" font-weight="normal" fill="#1A1A1A" text-anchor="middle" stroke="#1A1A1A" stroke-width="0.25">33.4</text>
<text x="1426.33" y="1330.52" font-family="'Liberation Sans', Arial, sans-serif" font-size="9.6" font-weight="normal" fill="#1A1A1A" text-anchor="middle" stroke="#1A1A1A" stroke-width="0.25">14.4</text>
<text x="1426.33" y="1228.9" font-family="'Liberation Sans', Arial, sans-serif" font-size="9.6" font-weight="normal" fill="#1A1A1A" text-anchor="middle" stroke="#1A1A1A" stroke-width="0.25">48.1</text>
<rect x="1436.99" y="1458.65" width="17.13" height="13.65" fill="#46B8DA"/>
<rect x="1436.99" y="1348.96" width="17.13" height="109.99" fill="#5CB85C"/>
<rect x="1436.99" y="1301.76" width="17.13" height="47.5" fill="#EEA236"/>
<rect x="1436.99" y="1146.5" width="17.13" height="155.56" fill="#D43F3A"/>
<text x="1445.56" y="1469.53" font-family="'Liberation Sans', Arial, sans-serif" font-size="9.6" font-weight="normal" fill="#1A1A1A" text-anchor="middle" stroke="#1A1A1A" stroke-width="0.25">4.1</text>
<text x="1445.56" y="1408.01" font-family="'Liberation Sans', Arial, sans-serif" font-size="9.6" font-weight="normal" fill="#1A1A1A" text-anchor="middle" stroke="#1A1A1A" stroke-width="0.25">33.7</text>
<text x="1445.56" y="1329.56" font-family="'Liberation Sans', Arial, sans-serif" font-size="9.6" font-weight="normal" fill="#1A1A1A" text-anchor="middle" stroke="#1A1A1A" stroke-width="0.25">14.5</text>
<text x="1445.56" y="1228.33" font-family="'Liberation Sans', Arial, sans-serif" font-size="9.6" font-weight="normal" fill="#1A1A1A" text-anchor="middle" stroke="#1A1A1A" stroke-width="0.25">47.7</text>
<rect x="1456.22" y="1458.98" width="17.13" height="13.32" fill="#46B8DA"/>
<rect x="1456.22" y="1348.64" width="17.13" height="110.64" fill="#5CB85C"/>
<rect x="1456.22" y="1300.79" width="17.13" height="48.15" fill="#EEA236"/>
<rect x="1456.22" y="1146.5" width="17.13" height="154.59" fill="#D43F3A"/>
<text x="1464.79" y="1469.69" font-family="'Liberation Sans', Arial, sans-serif" font-size="9.6" font-weight="normal" fill="#1A1A1A" text-anchor="middle" stroke="#1A1A1A" stroke-width="0.25">4</text>
<text x="1464.79" y="1408.01" font-family="'Liberation Sans', Arial, sans-serif" font-size="9.6" font-weight="normal" fill="#1A1A1A" text-anchor="middle" stroke="#1A1A1A" stroke-width="0.25">33.9</text>
<text x="1464.79" y="1328.91" font-family="'Liberation Sans', Arial, sans-serif" font-size="9.6" font-weight="normal" fill="#1A1A1A" text-anchor="middle" stroke="#1A1A1A" stroke-width="0.25">14.7</text>
<text x="1464.79" y="1227.84" font-family="'Liberation Sans', Arial, sans-serif" font-size="9.6" font-weight="normal" fill="#1A1A1A" text-anchor="middle" stroke="#1A1A1A" stroke-width="0.25">47.4</text>
<rect x="1475.45" y="1458.97" width="17.13" height="13.33" fill="#46B8DA"/>
<rect x="1475.45" y="1348.19" width="17.13" height="111.08" fill="#5CB85C"/>
<rect x="1475.45" y="1299.96" width="17.13" height="48.52" fill="#EEA236"/>
<rect x="1475.45" y="1146.5" width="17.13" height="153.76" fill="#D43F3A"/>
<text x="1484.02" y="1469.68" font-family="'Liberation Sans', Arial, sans-serif" font-size="9.6" font-weight="normal" fill="#1A1A1A" text-anchor="middle" stroke="#1A1A1A" stroke-width="0.25">4</text>
<text x="1484.02" y="1407.78" font-family="'Liberation Sans', Arial, sans-serif" font-size="9.6" font-weight="normal" fill="#1A1A1A" text-anchor="middle" stroke="#1A1A1A" stroke-width="0.25">34</text>
<text x="1484.02" y="1328.28" font-family="'Liberation Sans', Arial, sans-serif" font-size="9.6" font-weight="normal" fill="#1A1A1A" text-anchor="middle" stroke="#1A1A1A" stroke-width="0.25">14.8</text>
<text x="1484.02" y="1227.43" font-family="'Liberation Sans', Arial, sans-serif" font-size="9.6" font-weight="normal" fill="#1A1A1A" text-anchor="middle" stroke="#1A1A1A" stroke-width="0.25">47.1</text>
<rect x="1494.68" y="1459.31" width="17.13" height="12.99" fill="#46B8DA"/>
<rect x="1494.68" y="1347.98" width="17.13" height="111.62" fill="#5CB85C"/>
<rect x="1494.68" y="1299.16" width="17.13" height="49.13" fill="#EEA236"/>
<rect x="1494.68" y="1146.5" width="17.13" height="152.96" fill="#D43F3A"/>
<text x="1503.25" y="1469.85" font-family="'Liberation Sans', Arial, sans-serif" font-size="9.6" font-weight="normal" fill="#1A1A1A" text-anchor="middle" stroke="#1A1A1A" stroke-width="0.25">3.9</text>
<text x="1503.25" y="1407.85" font-family="'Liberation Sans', Arial, sans-serif" font-size="9.6" font-weight="normal" fill="#1A1A1A" text-anchor="middle" stroke="#1A1A1A" stroke-width="0.25">34.2</text>
<text x="1503.25" y="1327.77" font-family="'Liberation Sans', Arial, sans-serif" font-size="9.6" font-weight="normal" fill="#1A1A1A" text-anchor="middle" stroke="#1A1A1A" stroke-width="0.25">15</text>
<text x="1503.25" y="1227.03" font-family="'Liberation Sans', Arial, sans-serif" font-size="9.6" font-weight="normal" fill="#1A1A1A" text-anchor="middle" stroke="#1A1A1A" stroke-width="0.25">46.9</text>
<rect x="1513.91" y="1459.31" width="17.13" height="12.99" fill="#46B8DA"/>
<rect x="1513.91" y="1347.33" width="17.13" height="112.27" fill="#5CB85C"/>
<rect x="1513.91" y="1298.18" width="17.13" height="49.45" fill="#EEA236"/>
<rect x="1513.91" y="1146.5" width="17.13" height="151.98" fill="#D43F3A"/>
<text x="1522.48" y="1469.85" font-family="'Liberation Sans', Arial, sans-serif" font-size="9.6" font-weight="normal" fill="#1A1A1A" text-anchor="middle" stroke="#1A1A1A" stroke-width="0.25">3.9</text>
<text x="1522.48" y="1407.52" font-family="'Liberation Sans', Arial, sans-serif" font-size="9.6" font-weight="normal" fill="#1A1A1A" text-anchor="middle" stroke="#1A1A1A" stroke-width="0.25">34.4</text>
<text x="1522.48" y="1326.96" font-family="'Liberation Sans', Arial, sans-serif" font-size="9.6" font-weight="normal" fill="#1A1A1A" text-anchor="middle" stroke="#1A1A1A" stroke-width="0.25">15.1</text>
<text x="1522.48" y="1226.54" font-family="'Liberation Sans', Arial, sans-serif" font-size="9.6" font-weight="normal" fill="#1A1A1A" text-anchor="middle" stroke="#1A1A1A" stroke-width="0.25">46.6</text>
<rect x="1533.14" y="1459.31" width="17.13" height="12.99" fill="#46B8DA"/>
<rect x="1533.14" y="1347.01" width="17.13" height="112.6" fill="#5CB85C"/>
<rect x="1533.14" y="1297.21" width="17.13" height="50.1" fill="#EEA236"/>
<rect x="1533.14" y="1146.5" width="17.13" height="151.01" fill="#D43F3A"/>
<text x="1541.71" y="1469.85" font-family="'Liberation Sans', Arial, sans-serif" font-size="9.6" font-weight="normal" fill="#1A1A1A" text-anchor="middle" stroke="#1A1A1A" stroke-width="0.25">3.9</text>
<text x="1541.71" y="1407.36" font-family="'Liberation Sans', Arial, sans-serif" font-size="9.6" font-weight="normal" fill="#1A1A1A" text-anchor="middle" stroke="#1A1A1A" stroke-width="0.25">34.5</text>
<text x="1541.71" y="1326.31" font-family="'Liberation Sans', Arial, sans-serif" font-size="9.6" font-weight="normal" fill="#1A1A1A" text-anchor="middle" stroke="#1A1A1A" stroke-width="0.25">15.3</text>
<text x="1541.71" y="1226.05" font-family="'Liberation Sans', Arial, sans-serif" font-size="9.6" font-weight="normal" fill="#1A1A1A" text-anchor="middle" stroke="#1A1A1A" stroke-width="0.25">46.3</text>
<rect x="1552.38" y="1459.63" width="17.13" height="12.67" fill="#46B8DA"/>
<rect x="1552.38" y="1346.68" width="17.13" height="113.25" fill="#5CB85C"/>
<rect x="1552.38" y="1296.56" width="17.13" height="50.43" fill="#EEA236"/>
<rect x="1552.38" y="1146.5" width="17.13" height="150.36" fill="#D43F3A"/>
<text x="1560.94" y="1470.02" font-family="'Liberation Sans', Arial, sans-serif" font-size="9.6" font-weight="normal" fill="#1A1A1A" text-anchor="middle" stroke="#1A1A1A" stroke-width="0.25">3.8</text>
<text x="1560.94" y="1407.36" font-family="'Liberation Sans', Arial, sans-serif" font-size="9.6" font-weight="normal" fill="#1A1A1A" text-anchor="middle" stroke="#1A1A1A" stroke-width="0.25">34.7</text>
<text x="1560.94" y="1325.82" font-family="'Liberation Sans', Arial, sans-serif" font-size="9.6" font-weight="normal" fill="#1A1A1A" text-anchor="middle" stroke="#1A1A1A" stroke-width="0.25">15.4</text>
<text x="1560.94" y="1225.73" font-family="'Liberation Sans', Arial, sans-serif" font-size="9.6" font-weight="normal" fill="#1A1A1A" text-anchor="middle" stroke="#1A1A1A" stroke-width="0.25">46.1</text>
<rect x="1571.61" y="1459.63" width="17.13" height="12.67" fill="#46B8DA"/>
<rect x="1571.61" y="1346.03" width="17.13" height="113.9" fill="#5CB85C"/>
<rect x="1571.61" y="1295.58" width="17.13" height="50.75" fill="#EEA236"/>
<rect x="1571.61" y="1146.5" width="17.13" height="149.38" fill="#D43F3A"/>
<text x="1580.17" y="1470.02" font-family="'Liberation Sans', Arial, sans-serif" font-size="9.6" font-weight="normal" fill="#1A1A1A" text-anchor="middle" stroke="#1A1A1A" stroke-width="0.25">3.8</text>
<text x="1580.17" y="1407.03" font-family="'Liberation Sans', Arial, sans-serif" font-size="9.6" font-weight="normal" fill="#1A1A1A" text-anchor="middle" stroke="#1A1A1A" stroke-width="0.25">34.9</text>
<text x="1580.17" y="1325.01" font-family="'Liberation Sans', Arial, sans-serif" font-size="9.6" font-weight="normal" fill="#1A1A1A" text-anchor="middle" stroke="#1A1A1A" stroke-width="0.25">15.5</text>
<text x="1580.17" y="1225.24" font-family="'Liberation Sans', Arial, sans-serif" font-size="9.6" font-weight="normal" fill="#1A1A1A" text-anchor="middle" stroke="#1A1A1A" stroke-width="0.25">45.8</text>
<line x1="1011.3" y1="1129.5" x2="1011.3" y2="1488.8" stroke="#000" stroke-width="2.2" stroke-linecap="butt"/>
<line x1="1010.3" y1="1487.8" x2="1591.1" y2="1487.8" stroke="#000" stroke-width="2.2" stroke-linecap="butt"/>
<line x1="1007.3" y1="1472" x2="1011.3" y2="1472" stroke="#333" stroke-width="1.1" stroke-linecap="butt"/>
<text x="999.3" y="1476.9" font-family="'Liberation Sans', Arial, sans-serif" font-size="13.6" font-weight="bold" fill="#000" text-anchor="end">0.00</text>
<line x1="1007.3" y1="1390.62" x2="1011.3" y2="1390.62" stroke="#333" stroke-width="1.1" stroke-linecap="butt"/>
<text x="999.3" y="1395.53" font-family="'Liberation Sans', Arial, sans-serif" font-size="13.6" font-weight="bold" fill="#000" text-anchor="end">0.25</text>
<line x1="1007.3" y1="1309.25" x2="1011.3" y2="1309.25" stroke="#333" stroke-width="1.1" stroke-linecap="butt"/>
<text x="999.3" y="1314.15" font-family="'Liberation Sans', Arial, sans-serif" font-size="13.6" font-weight="bold" fill="#000" text-anchor="end">0.50</text>
<line x1="1007.3" y1="1227.88" x2="1011.3" y2="1227.88" stroke="#333" stroke-width="1.1" stroke-linecap="butt"/>
<text x="999.3" y="1232.78" font-family="'Liberation Sans', Arial, sans-serif" font-size="13.6" font-weight="bold" fill="#000" text-anchor="end">0.75</text>
<line x1="1007.3" y1="1146.5" x2="1011.3" y2="1146.5" stroke="#333" stroke-width="1.1" stroke-linecap="butt"/>
<text x="999.3" y="1151.4" font-family="'Liberation Sans', Arial, sans-serif" font-size="13.6" font-weight="bold" fill="#000" text-anchor="end">1.00</text>
<line x1="1022.5" y1="1487.8" x2="1022.5" y2="1491.3" stroke="#333" stroke-width="1.1" stroke-linecap="butt"/>
<text transform="translate(1029.8 1497.3) rotate(-90)" font-family="'Liberation Sans', Arial, sans-serif" font-size="22" font-weight="bold" text-anchor="end" textLength="44.3" lengthAdjust="spacingAndGlyphs">1990</text>
<line x1="1041.73" y1="1487.8" x2="1041.73" y2="1491.3" stroke="#333" stroke-width="1.1" stroke-linecap="butt"/>
<text transform="translate(1049.03 1497.3) rotate(-90)" font-family="'Liberation Sans', Arial, sans-serif" font-size="22" font-weight="bold" text-anchor="end" textLength="44.3" lengthAdjust="spacingAndGlyphs">1991</text>
<line x1="1060.96" y1="1487.8" x2="1060.96" y2="1491.3" stroke="#333" stroke-width="1.1" stroke-linecap="butt"/>
<text transform="translate(1068.26 1497.3) rotate(-90)" font-family="'Liberation Sans', Arial, sans-serif" font-size="22" font-weight="bold" text-anchor="end" textLength="44.3" lengthAdjust="spacingAndGlyphs">1992</text>
<line x1="1080.19" y1="1487.8" x2="1080.19" y2="1491.3" stroke="#333" stroke-width="1.1" stroke-linecap="butt"/>
<text transform="translate(1087.49 1497.3) rotate(-90)" font-family="'Liberation Sans', Arial, sans-serif" font-size="22" font-weight="bold" text-anchor="end" textLength="44.3" lengthAdjust="spacingAndGlyphs">1993</text>
<line x1="1099.42" y1="1487.8" x2="1099.42" y2="1491.3" stroke="#333" stroke-width="1.1" stroke-linecap="butt"/>
<text transform="translate(1106.72 1497.3) rotate(-90)" font-family="'Liberation Sans', Arial, sans-serif" font-size="22" font-weight="bold" text-anchor="end" textLength="44.3" lengthAdjust="spacingAndGlyphs">1994</text>
<line x1="1118.65" y1="1487.8" x2="1118.65" y2="1491.3" stroke="#333" stroke-width="1.1" stroke-linecap="butt"/>
<text transform="translate(1125.95 1497.3) rotate(-90)" font-family="'Liberation Sans', Arial, sans-serif" font-size="22" font-weight="bold" text-anchor="end" textLength="44.3" lengthAdjust="spacingAndGlyphs">1995</text>
<line x1="1137.88" y1="1487.8" x2="1137.88" y2="1491.3" stroke="#333" stroke-width="1.1" stroke-linecap="butt"/>
<text transform="translate(1145.18 1497.3) rotate(-90)" font-family="'Liberation Sans', Arial, sans-serif" font-size="22" font-weight="bold" text-anchor="end" textLength="44.3" lengthAdjust="spacingAndGlyphs">1996</text>
<line x1="1157.11" y1="1487.8" x2="1157.11" y2="1491.3" stroke="#333" stroke-width="1.1" stroke-linecap="butt"/>
<text transform="translate(1164.41 1497.3) rotate(-90)" font-family="'Liberation Sans', Arial, sans-serif" font-size="22" font-weight="bold" text-anchor="end" textLength="44.3" lengthAdjust="spacingAndGlyphs">1997</text>
<line x1="1176.34" y1="1487.8" x2="1176.34" y2="1491.3" stroke="#333" stroke-width="1.1" stroke-linecap="butt"/>
<text transform="translate(1183.64 1497.3) rotate(-90)" font-family="'Liberation Sans', Arial, sans-serif" font-size="22" font-weight="bold" text-anchor="end" textLength="44.3" lengthAdjust="spacingAndGlyphs">1998</text>
<line x1="1195.57" y1="1487.8" x2="1195.57" y2="1491.3" stroke="#333" stroke-width="1.1" stroke-linecap="butt"/>
<text transform="translate(1202.87 1497.3) rotate(-90)" font-family="'Liberation Sans', Arial, sans-serif" font-size="22" font-weight="bold" text-anchor="end" textLength="44.3" lengthAdjust="spacingAndGlyphs">1999</text>
<line x1="1214.8" y1="1487.8" x2="1214.8" y2="1491.3" stroke="#333" stroke-width="1.1" stroke-linecap="butt"/>
<text transform="translate(1222.1 1497.3) rotate(-90)" font-family="'Liberation Sans', Arial, sans-serif" font-size="22" font-weight="bold" text-anchor="end" textLength="44.3" lengthAdjust="spacingAndGlyphs">2000</text>
<line x1="1234.03" y1="1487.8" x2="1234.03" y2="1491.3" stroke="#333" stroke-width="1.1" stroke-linecap="butt"/>
<text transform="translate(1241.33 1497.3) rotate(-90)" font-family="'Liberation Sans', Arial, sans-serif" font-size="22" font-weight="bold" text-anchor="end" textLength="44.3" lengthAdjust="spacingAndGlyphs">2001</text>
<line x1="1253.26" y1="1487.8" x2="1253.26" y2="1491.3" stroke="#333" stroke-width="1.1" stroke-linecap="butt"/>
<text transform="translate(1260.56 1497.3) rotate(-90)" font-family="'Liberation Sans', Arial, sans-serif" font-size="22" font-weight="bold" text-anchor="end" textLength="44.3" lengthAdjust="spacingAndGlyphs">2002</text>
<line x1="1272.49" y1="1487.8" x2="1272.49" y2="1491.3" stroke="#333" stroke-width="1.1" stroke-linecap="butt"/>
<text transform="translate(1279.79 1497.3) rotate(-90)" font-family="'Liberation Sans', Arial, sans-serif" font-size="22" font-weight="bold" text-anchor="end" textLength="44.3" lengthAdjust="spacingAndGlyphs">2003</text>
<line x1="1291.72" y1="1487.8" x2="1291.72" y2="1491.3" stroke="#333" stroke-width="1.1" stroke-linecap="butt"/>
<text transform="translate(1299.02 1497.3) rotate(-90)" font-family="'Liberation Sans', Arial, sans-serif" font-size="22" font-weight="bold" text-anchor="end" textLength="44.3" lengthAdjust="spacingAndGlyphs">2004</text>
<line x1="1310.95" y1="1487.8" x2="1310.95" y2="1491.3" stroke="#333" stroke-width="1.1" stroke-linecap="butt"/>
<text transform="translate(1318.25 1497.3) rotate(-90)" font-family="'Liberation Sans', Arial, sans-serif" font-size="22" font-weight="bold" text-anchor="end" textLength="44.3" lengthAdjust="spacingAndGlyphs">2005</text>
<line x1="1330.18" y1="1487.8" x2="1330.18" y2="1491.3" stroke="#333" stroke-width="1.1" stroke-linecap="butt"/>
<text transform="translate(1337.48 1497.3) rotate(-90)" font-family="'Liberation Sans', Arial, sans-serif" font-size="22" font-weight="bold" text-anchor="end" textLength="44.3" lengthAdjust="spacingAndGlyphs">2006</text>
<line x1="1349.41" y1="1487.8" x2="1349.41" y2="1491.3" stroke="#333" stroke-width="1.1" stroke-linecap="butt"/>
<text transform="translate(1356.71 1497.3) rotate(-90)" font-family="'Liberation Sans', Arial, sans-serif" font-size="22" font-weight="bold" text-anchor="end" textLength="44.3" lengthAdjust="spacingAndGlyphs">2007</text>
<line x1="1368.64" y1="1487.8" x2="1368.64" y2="1491.3" stroke="#333" stroke-width="1.1" stroke-linecap="butt"/>
<text transform="translate(1375.94 1497.3) rotate(-90)" font-family="'Liberation Sans', Arial, sans-serif" font-size="22" font-weight="bold" text-anchor="end" textLength="44.3" lengthAdjust="spacingAndGlyphs">2008</text>
<line x1="1387.87" y1="1487.8" x2="1387.87" y2="1491.3" stroke="#333" stroke-width="1.1" stroke-linecap="butt"/>
<text transform="translate(1395.17 1497.3) rotate(-90)" font-family="'Liberation Sans', Arial, sans-serif" font-size="22" font-weight="bold" text-anchor="end" textLength="44.3" lengthAdjust="spacingAndGlyphs">2009</text>
<line x1="1407.1" y1="1487.8" x2="1407.1" y2="1491.3" stroke="#333" stroke-width="1.1" stroke-linecap="butt"/>
<text transform="translate(1414.4 1497.3) rotate(-90)" font-family="'Liberation Sans', Arial, sans-serif" font-size="22" font-weight="bold" text-anchor="end" textLength="44.3" lengthAdjust="spacingAndGlyphs">2010</text>
<line x1="1426.33" y1="1487.8" x2="1426.33" y2="1491.3" stroke="#333" stroke-width="1.1" stroke-linecap="butt"/>
<text transform="translate(1433.63 1497.3) rotate(-90)" font-family="'Liberation Sans', Arial, sans-serif" font-size="22" font-weight="bold" text-anchor="end" textLength="44.3" lengthAdjust="spacingAndGlyphs">2011</text>
<line x1="1445.56" y1="1487.8" x2="1445.56" y2="1491.3" stroke="#333" stroke-width="1.1" stroke-linecap="butt"/>
<text transform="translate(1452.86 1497.3) rotate(-90)" font-family="'Liberation Sans', Arial, sans-serif" font-size="22" font-weight="bold" text-anchor="end" textLength="44.3" lengthAdjust="spacingAndGlyphs">2012</text>
<line x1="1464.79" y1="1487.8" x2="1464.79" y2="1491.3" stroke="#333" stroke-width="1.1" stroke-linecap="butt"/>
<text transform="translate(1472.09 1497.3) rotate(-90)" font-family="'Liberation Sans', Arial, sans-serif" font-size="22" font-weight="bold" text-anchor="end" textLength="44.3" lengthAdjust="spacingAndGlyphs">2013</text>
<line x1="1484.02" y1="1487.8" x2="1484.02" y2="1491.3" stroke="#333" stroke-width="1.1" stroke-linecap="butt"/>
<text transform="translate(1491.32 1497.3) rotate(-90)" font-family="'Liberation Sans', Arial, sans-serif" font-size="22" font-weight="bold" text-anchor="end" textLength="44.3" lengthAdjust="spacingAndGlyphs">2014</text>
<line x1="1503.25" y1="1487.8" x2="1503.25" y2="1491.3" stroke="#333" stroke-width="1.1" stroke-linecap="butt"/>
<text transform="translate(1510.55 1497.3) rotate(-90)" font-family="'Liberation Sans', Arial, sans-serif" font-size="22" font-weight="bold" text-anchor="end" textLength="44.3" lengthAdjust="spacingAndGlyphs">2015</text>
<line x1="1522.48" y1="1487.8" x2="1522.48" y2="1491.3" stroke="#333" stroke-width="1.1" stroke-linecap="butt"/>
<text transform="translate(1529.78 1497.3) rotate(-90)" font-family="'Liberation Sans', Arial, sans-serif" font-size="22" font-weight="bold" text-anchor="end" textLength="44.3" lengthAdjust="spacingAndGlyphs">2016</text>
<line x1="1541.71" y1="1487.8" x2="1541.71" y2="1491.3" stroke="#333" stroke-width="1.1" stroke-linecap="butt"/>
<text transform="translate(1549.01 1497.3) rotate(-90)" font-family="'Liberation Sans', Arial, sans-serif" font-size="22" font-weight="bold" text-anchor="end" textLength="44.3" lengthAdjust="spacingAndGlyphs">2017</text>
<line x1="1560.94" y1="1487.8" x2="1560.94" y2="1491.3" stroke="#333" stroke-width="1.1" stroke-linecap="butt"/>
<text transform="translate(1568.24 1497.3) rotate(-90)" font-family="'Liberation Sans', Arial, sans-serif" font-size="22" font-weight="bold" text-anchor="end" textLength="44.3" lengthAdjust="spacingAndGlyphs">2018</text>
<line x1="1580.17" y1="1487.8" x2="1580.17" y2="1491.3" stroke="#333" stroke-width="1.1" stroke-linecap="butt"/>
<text transform="translate(1587.47 1497.3) rotate(-90)" font-family="'Liberation Sans', Arial, sans-serif" font-size="22" font-weight="bold" text-anchor="end" textLength="44.3" lengthAdjust="spacingAndGlyphs">2019</text>
<text x="1301.2" y="1566.3" font-family="'Liberation Sans', Arial, sans-serif" font-size="21.5" font-weight="bold" fill="#000" text-anchor="middle">year</text>
<text x="0" y="0" font-family="'Liberation Sans', Arial, sans-serif" font-size="22.6" font-weight="bold" fill="#000" text-anchor="middle" transform="translate(968 1309.3) rotate(-90)">The proportion of death cases</text>
<text x="1610.5" y="1272.6" font-family="'Liberation Sans', Arial, sans-serif" font-size="15.6" font-weight="bold" fill="#000" text-anchor="start">Hematologic malignancies</text>
<rect x="1611" y="1282.8" width="17.5" height="17.3" fill="#D43F3A"/>
<text x="1637" y="1297.1" font-family="'Liberation Sans', Arial, sans-serif" font-size="15.5" font-weight="bold" fill="#000" text-anchor="start">Leukemia</text>
<rect x="1611" y="1302.05" width="17.5" height="17.3" fill="#EEA236"/>
<text x="1637" y="1316.35" font-family="'Liberation Sans', Arial, sans-serif" font-size="15.5" font-weight="bold" fill="#000" text-anchor="start">Multiple myeloma</text>
<rect x="1611" y="1321.3" width="17.5" height="17.3" fill="#5CB85C"/>
<text x="1637" y="1335.6" font-family="'Liberation Sans', Arial, sans-serif" font-size="15.5" font-weight="bold" fill="#000" text-anchor="start">Non-Hodgkin lymphoma</text>
<rect x="1611" y="1340.55" width="17.5" height="17.3" fill="#46B8DA"/>
<text x="1637" y="1354.85" font-family="'Liberation Sans', Arial, sans-serif" font-size="15.5" font-weight="bold" fill="#000" text-anchor="start">Hodgkin lymphoma</text>
</svg>
</body></html>
